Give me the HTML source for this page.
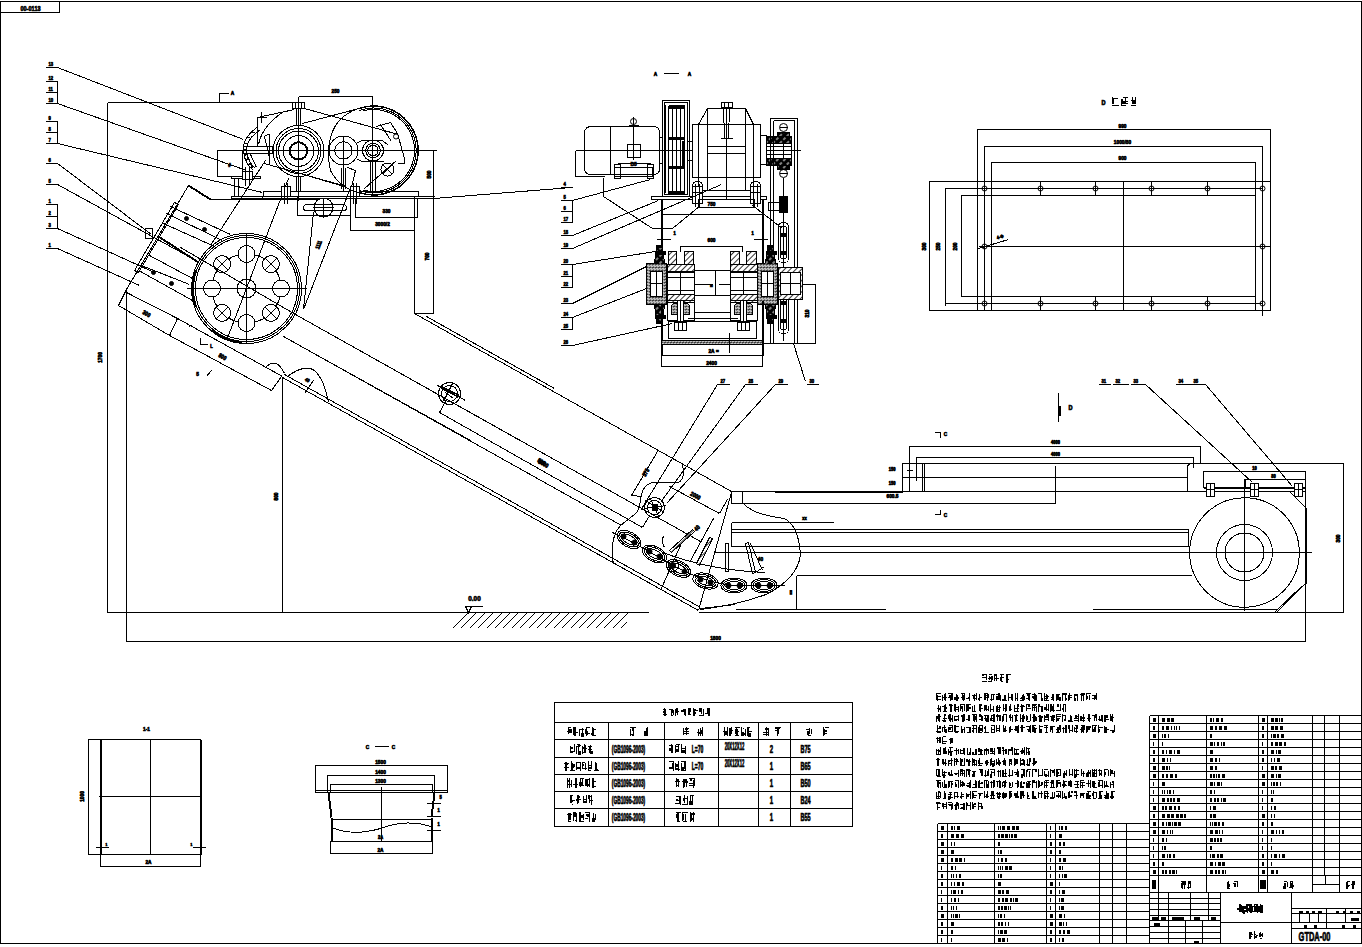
<!DOCTYPE html><html><head><meta charset="utf-8"><style>
html,body{margin:0;padding:0;background:#fff;width:1362px;height:947px;overflow:hidden}
svg{display:block}
text{font-family:"Liberation Sans",sans-serif;fill:#000;stroke:#000;stroke-width:0.7px}
</style></head><body>
<svg width="1362" height="947" viewBox="0 0 1362 947">
<defs>
<pattern id="h" width="4" height="4" patternUnits="userSpaceOnUse" patternTransform="rotate(45)"><rect width="4" height="4" fill="#fff"/><line x1="0" y1="0" x2="0" y2="4" stroke="#000" stroke-width="1.6"/></pattern>
<pattern id="d" width="3" height="3" patternUnits="userSpaceOnUse"><rect width="3" height="3" fill="#fff"/><rect x="0" y="0" width="2" height="1" fill="#000"/><rect x="1" y="2" width="2" height="1" fill="#000"/></pattern>
<pattern id="k" width="5" height="5" patternUnits="userSpaceOnUse" patternTransform="rotate(-45)"><rect width="5" height="5" fill="#000"/><line x1="0" y1="2" x2="3" y2="2" stroke="#fff" stroke-width="1"/></pattern>
</defs>
<g fill="none" stroke="#000" stroke-width="1" shape-rendering="crispEdges" transform="translate(0.5,0.5)">
<rect x="0" y="1" width="1361" height="942"/>
<rect x="0" y="1" width="59" height="11"/>
<text transform="translate(30,10) scale(0.7,1)" font-size="8" text-anchor="middle" font-weight="bold">00-0113</text>
<line x1="45" y1="67" x2="57" y2="67"/>
<text transform="translate(48,65) scale(0.7,1)" font-size="6" text-anchor="start" font-weight="bold">13</text>
<line x1="45" y1="81" x2="57" y2="81"/>
<line x1="45" y1="92" x2="57" y2="92"/>
<line x1="45" y1="103" x2="57" y2="103"/>
<line x1="57" y1="81" x2="57" y2="103"/>
<text transform="translate(48,79) scale(0.7,1)" font-size="6" text-anchor="start" font-weight="bold">12</text>
<text transform="translate(48,90) scale(0.7,1)" font-size="6" text-anchor="start" font-weight="bold">11</text>
<text transform="translate(48,101) scale(0.7,1)" font-size="6" text-anchor="start" font-weight="bold">10</text>
<line x1="45" y1="121" x2="57" y2="121"/>
<line x1="45" y1="132" x2="57" y2="132"/>
<line x1="45" y1="143" x2="57" y2="143"/>
<line x1="57" y1="121" x2="57" y2="143"/>
<text transform="translate(48,119) scale(0.7,1)" font-size="6" text-anchor="start" font-weight="bold">9</text>
<text transform="translate(48,130) scale(0.7,1)" font-size="6" text-anchor="start" font-weight="bold">8</text>
<text transform="translate(48,141) scale(0.7,1)" font-size="6" text-anchor="start" font-weight="bold">7</text>
<line x1="45" y1="163" x2="57" y2="163"/>
<text transform="translate(48,161) scale(0.7,1)" font-size="6" text-anchor="start" font-weight="bold">6</text>
<line x1="45" y1="184" x2="57" y2="184"/>
<text transform="translate(48,182) scale(0.7,1)" font-size="6" text-anchor="start" font-weight="bold">5</text>
<line x1="45" y1="204" x2="57" y2="204"/>
<line x1="45" y1="216" x2="57" y2="216"/>
<line x1="45" y1="228" x2="57" y2="228"/>
<line x1="57" y1="204" x2="57" y2="228"/>
<text transform="translate(48,202) scale(0.7,1)" font-size="6" text-anchor="start" font-weight="bold">1</text>
<text transform="translate(48,214) scale(0.7,1)" font-size="6" text-anchor="start" font-weight="bold">2</text>
<text transform="translate(48,226) scale(0.7,1)" font-size="6" text-anchor="start" font-weight="bold">3</text>
<line x1="45" y1="248" x2="57" y2="248"/>
<text transform="translate(48,246) scale(0.7,1)" font-size="6" text-anchor="start" font-weight="bold">1</text>
<line x1="57" y1="67" x2="243" y2="139"/>
<line x1="57" y1="103" x2="246" y2="170"/>
<line x1="57" y1="143" x2="262" y2="192"/>
<polyline points="57,163 147,231 151,234"/>
<polyline points="57,184 190,257"/>
<polyline points="57,228 154,272"/>
<polyline points="57,248 139,285"/>
<line x1="107" y1="102" x2="107" y2="612"/>
<line x1="107" y1="102" x2="298" y2="102"/>
<line x1="107" y1="612" x2="648" y2="612"/>
<line x1="126" y1="289" x2="126" y2="641"/>
<line x1="126" y1="641" x2="1305" y2="641"/>
<line x1="282" y1="376" x2="282" y2="612"/>
<text transform="translate(101,357) rotate(-90) scale(0.8,1)" font-size="6" text-anchor="middle" font-weight="bold">1700</text>
<text transform="translate(277,496) rotate(-90) scale(0.8,1)" font-size="6" text-anchor="middle" font-weight="bold">800</text>
<polyline points="219,101 219,93 228,93"/>
<text transform="translate(232,94) scale(0.8,1)" font-size="6" text-anchor="middle" font-weight="bold">A</text>
<circle cx="246" cy="288" r="55"/>
<circle cx="246" cy="288" r="53"/>
<circle cx="246" cy="288" r="51"/>
<path d="M195.3,306.5 A54,54 0 0 1 195.3,269.5" stroke-width="2"/>
<path d="M241.3,341.8 A54,54 0 0 1 211.3,329.4" stroke-width="2"/>
<circle cx="246" cy="288" r="34.5"/>
<circle cx="280.5" cy="288.0" r="8.5" fill="#fff"/>
<circle cx="270.4" cy="312.4" r="8.5" fill="#fff"/>
<line x1="264.4" y1="306.4" x2="276.4" y2="318.4"/>
<line x1="264.4" y1="318.4" x2="276.4" y2="306.4"/>
<circle cx="246.0" cy="322.5" r="8.5" fill="#fff"/>
<line x1="246" y1="314" x2="246" y2="330"/>
<circle cx="221.6" cy="312.4" r="8.5" fill="#fff"/>
<line x1="215.6" y1="306.4" x2="227.6" y2="318.4"/>
<line x1="215.6" y1="318.4" x2="227.6" y2="306.4"/>
<circle cx="211.5" cy="288.0" r="8.5" fill="#fff"/>
<circle cx="221.6" cy="263.6" r="8.5" fill="#fff"/>
<line x1="215.6" y1="257.6" x2="227.6" y2="269.6"/>
<line x1="215.6" y1="269.6" x2="227.6" y2="257.6"/>
<circle cx="246.0" cy="253.5" r="8.5" fill="#fff"/>
<line x1="246" y1="246" x2="246" y2="262"/>
<circle cx="270.4" cy="263.6" r="8.5" fill="#fff"/>
<line x1="264.4" y1="257.6" x2="276.4" y2="269.6"/>
<line x1="264.4" y1="269.6" x2="276.4" y2="257.6"/>
<circle cx="246" cy="288" r="9.5"/>
<line x1="186" y1="288" x2="306" y2="288"/>
<line x1="246" y1="233" x2="246" y2="343"/>
<polyline points="126,289 188,185"/>
<line x1="188" y1="185" x2="210" y2="199" stroke-width="2"/>
<polyline points="210,199 433,198 571,187"/>
<polygon points="174,202 178,204 138,272 134,270"/>
<line x1="170" y1="206" x2="230" y2="234"/>
<line x1="166" y1="213" x2="222" y2="240"/>
<line x1="163" y1="223" x2="214" y2="246"/>
<line x1="158" y1="236" x2="198" y2="262" stroke-width="2"/>
<line x1="149" y1="255" x2="192" y2="278"/>
<line x1="141" y1="265" x2="189" y2="284"/>
<line x1="140" y1="271" x2="192" y2="300"/>
<circle cx="186" cy="218" r="2" shape-rendering="auto" fill="#000"/>
<circle cx="204" cy="229" r="2" shape-rendering="auto" fill="#000"/>
<circle cx="153" cy="272" r="2" shape-rendering="auto" fill="#000"/>
<circle cx="171" cy="283" r="2" shape-rendering="auto" fill="#000"/>
<rect x="145" y="228" width="7" height="10"/>
<polyline points="126,289 118,305 169,335 177,318"/>
<line x1="126" y1="292" x2="177" y2="318"/>
<polyline points="169,335 271,390 281,376"/>
<line x1="177" y1="318" x2="282" y2="376"/>
<line x1="226" y1="340" x2="288" y2="178"/>
<line x1="210" y1="245" x2="265" y2="160"/>
<polyline points="303,309 313,212"/>
<polyline points="303,309 349,190"/>
<text transform="translate(320,245) rotate(-70) scale(0.7,1)" font-size="6" text-anchor="middle" font-weight="bold">1111</text>
<line x1="180" y1="247" x2="295" y2="314"/>
<line x1="295" y1="314" x2="516" y2="438"/>
<line x1="283" y1="336" x2="470" y2="440"/>
<circle cx="298" cy="150.5" r="25.5"/>
<circle cx="298" cy="150.5" r="22.5"/>
<circle cx="298" cy="150.5" r="20"/>
<circle cx="298" cy="150.5" r="15.3"/>
<circle cx="298" cy="150.5" r="8.7" stroke-width="2"/>
<line x1="298" y1="96" x2="298" y2="200"/>
<line x1="242" y1="150" x2="436" y2="150"/>
<rect x="292" y="102" width="12" height="6" fill="#fff"/>
<line x1="295" y1="102" x2="295" y2="108"/>
<line x1="298" y1="102" x2="298" y2="108"/>
<line x1="301" y1="102" x2="301" y2="108"/>
<line x1="296" y1="108" x2="296" y2="125"/>
<line x1="300" y1="108" x2="300" y2="125"/>
<line x1="296" y1="176" x2="296" y2="191"/>
<line x1="300" y1="176" x2="300" y2="191"/>
<path d="M 258,126 Q 241,137 243,151 Q 244,163 253,170"/>
<path d="M 260,129 Q 245,139 246,151 Q 247,161 255,168"/>
<line x1="252.0" y1="131.5" x2="254.6" y2="132.1"/>
<line x1="246.7" y1="137.3" x2="249.9" y2="137.2"/>
<line x1="243.7" y1="143.3" x2="247.0" y2="142.5"/>
<line x1="242.8" y1="149.8" x2="245.9" y2="148.1"/>
<line x1="243.5" y1="155.7" x2="246.5" y2="153.1"/>
<line x1="245.1" y1="160.8" x2="247.9" y2="157.5"/>
<line x1="247.6" y1="165.3" x2="250.1" y2="161.6"/>
<line x1="250.3" y1="168.6" x2="252.6" y2="164.7"/>
<polyline points="257,145 257,117 294,109"/>
<line x1="261" y1="111" x2="261" y2="122"/>
<line x1="256" y1="117" x2="266" y2="117"/>
<path d="M 282,112 Q 262,125 258,144"/>
<rect x="243" y="146" width="29" height="7"/>
<line x1="264" y1="136" x2="269" y2="133"/>
<line x1="264" y1="136" x2="269" y2="157"/>
<line x1="269" y1="133" x2="269" y2="164"/>
<path d="M 247,155 L 252,168"/>
<path d="M 250,154 L 256,167"/>
<rect x="217" y="150" width="25" height="26"/>
<text transform="translate(229,166) scale(0.8,1)" font-size="6" text-anchor="middle" font-weight="bold">#</text>
<rect x="231" y="176" width="29" height="2"/>
<line x1="234" y1="178" x2="234" y2="196"/>
<line x1="238" y1="178" x2="238" y2="196"/>
<rect x="231" y="196" width="31" height="2"/>
<rect x="242" y="171" width="10" height="8" fill="#fff"/>
<line x1="245" y1="166" x2="245" y2="185"/>
<line x1="249" y1="166" x2="249" y2="185"/>
<rect x="263" y="191" width="155" height="5"/>
<line x1="231" y1="198" x2="433" y2="198"/>
<rect x="281" y="186" width="9" height="10" fill="#fff"/>
<line x1="284" y1="182" x2="284" y2="203"/>
<line x1="287" y1="182" x2="287" y2="203"/>
<rect x="350" y="186" width="9" height="10" fill="#fff"/>
<line x1="353" y1="182" x2="353" y2="203"/>
<line x1="356" y1="182" x2="356" y2="203"/>
<line x1="304" y1="108" x2="398" y2="134"/>
<line x1="302" y1="123" x2="366" y2="106"/>
<line x1="303" y1="174" x2="347" y2="187"/>
<line x1="264" y1="163" x2="346" y2="186"/>
<line x1="347" y1="167" x2="355" y2="170"/>
<line x1="355" y1="170" x2="351" y2="187"/>
<line x1="341" y1="167" x2="341" y2="188"/>
<line x1="345" y1="167" x2="345" y2="188"/>
<line x1="370" y1="161" x2="370" y2="190"/>
<line x1="375" y1="161" x2="375" y2="190"/>
<circle cx="343" cy="150" r="14.5"/>
<circle cx="343" cy="150" r="8.7"/>
<circle cx="372.5" cy="150" r="10.5"/>
<circle cx="372.5" cy="150" r="7.3"/>
<circle cx="372.5" cy="150" r="5.2"/>
<line x1="343" y1="135" x2="343" y2="190"/>
<line x1="372" y1="96" x2="372" y2="196"/>
<polyline points="357,142 362,140 382,140 388,145"/>
<polyline points="357,159 362,161 383,161"/>
<path d="M357.8,108.2 A44.5,44.5 0 1 1 357.8,191.8" stroke-width="1.5"/>
<path d="M358.5,110.1 A42.5,42.5 0 1 1 358.5,189.9"/>
<path d="M362.4,110.4 A41,41 0 1 1 362.4,189.6"/>
<path d="M 366,106 Q 345,110 335,125 Q 324,145 330,170 Q 340,190 366,194"/>
<path d="M 376,126 L 390,122 L 397,133 L 404,158 L 404,163 L 397,163"/>
<line x1="380" y1="124" x2="391" y2="141"/>
<circle cx="395.5" cy="136" r="2.5" shape-rendering="auto"/>
<circle cx="387" cy="169" r="6.5"/>
<line x1="382" y1="164" x2="392" y2="174"/>
<line x1="382" y1="174" x2="392" y2="164"/>
<line x1="364" y1="188" x2="396" y2="160"/>
<line x1="383" y1="150" x2="405" y2="150"/>
<line x1="298" y1="96" x2="372" y2="96"/>
<line x1="372" y1="96" x2="372" y2="106"/>
<text transform="translate(335,92) scale(0.8,1)" font-size="6" text-anchor="middle" font-weight="bold">250</text>
<line x1="418" y1="196" x2="434" y2="196"/>
<line x1="433" y1="150" x2="433" y2="196"/>
<text transform="translate(430,174) rotate(-90) scale(0.8,1)" font-size="6" text-anchor="middle" font-weight="bold">500</text>
<rect x="297" y="196" width="53" height="19"/>
<rect x="303" y="204" width="43" height="6" rx="3"/>
<circle cx="323" cy="207" r="9.5"/>
<line x1="313" y1="207" x2="333" y2="207"/>
<line x1="323" y1="197" x2="323" y2="217"/>
<rect x="355" y="198" width="62" height="19"/>
<text transform="translate(386,212) scale(0.8,1)" font-size="6" text-anchor="middle" font-weight="bold">330</text>
<polyline points="350,215 350,230 414,230"/>
<text transform="translate(382,225) scale(0.8,1)" font-size="6" text-anchor="middle" font-weight="bold">3000/2</text>
<rect x="414" y="196" width="19" height="117"/>
<text transform="translate(428,256) rotate(-90) scale(0.8,1)" font-size="6" text-anchor="middle" font-weight="bold">700</text>
<line x1="414" y1="313" x2="731" y2="491"/>
<line x1="426" y1="316" x2="554" y2="388"/>
<text transform="translate(655,75) scale(0.8,1)" font-size="6" text-anchor="middle" font-weight="bold">A</text>
<line x1="663" y1="73" x2="678" y2="73"/>
<text transform="translate(689,75) scale(0.8,1)" font-size="6" text-anchor="middle" font-weight="bold">A</text>
<path d="M 591,126 L 653,126 Q 659,126 659,132 L 659,168 Q 659,174 653,174 L 591,174 Q 584,174 584,167 L 584,133 Q 584,126 591,126 Z"/>
<line x1="610" y1="126" x2="610" y2="174"/>
<line x1="575" y1="150" x2="692" y2="150"/>
<polyline points="575,150 575,176 604,176"/>
<rect x="627" y="144" width="13" height="13"/>
<line x1="633" y1="119" x2="633" y2="159"/>
<circle cx="633" cy="121" r="3" shape-rendering="auto"/>
<line x1="628" y1="125" x2="638" y2="125"/>
<line x1="633" y1="116" x2="633" y2="126"/>
<text transform="translate(633,165) scale(0.8,1)" font-size="6" text-anchor="middle" font-weight="bold">B5</text>
<rect x="614" y="167" width="38" height="9"/>
<rect x="614" y="164" width="6" height="14"/>
<rect x="647" y="164" width="6" height="14"/>
<line x1="617" y1="163" x2="650" y2="163"/>
<rect x="659" y="137" width="3" height="26"/>
<rect x="662" y="100" width="27" height="96"/>
<rect x="664" y="102" width="23" height="92"/>
<rect x="668" y="106" width="16" height="88"/>
<line x1="672" y1="106" x2="672" y2="194"/>
<line x1="676" y1="106" x2="676" y2="194"/>
<line x1="680" y1="106" x2="680" y2="194"/>
<rect x="668" y="104" width="16" height="4" fill="#000" stroke="none"/>
<rect x="668" y="190" width="16" height="4" fill="#000" stroke="none"/>
<rect x="668" y="136" width="16" height="3" fill="#000" stroke="none"/>
<rect x="668" y="165" width="16" height="3" fill="#000" stroke="none"/>
<rect x="681" y="140" width="3" height="25" fill="#000" stroke="none"/>
<line x1="665" y1="104" x2="665" y2="192"/>
<rect x="687" y="141" width="5" height="19"/>
<rect x="692" y="124" width="68" height="53"/>
<line x1="698" y1="124" x2="698" y2="190"/>
<line x1="753" y1="124" x2="753" y2="190"/>
<polyline points="698,124 707,108 745,108 753,124"/>
<line x1="707" y1="108" x2="707" y2="190"/>
<line x1="745" y1="108" x2="745" y2="190"/>
<line x1="707" y1="146" x2="745" y2="146"/>
<line x1="707" y1="153" x2="745" y2="153"/>
<line x1="726" y1="108" x2="726" y2="199"/>
<rect x="721" y="102" width="11" height="5" fill="#fff"/>
<line x1="724" y1="102" x2="724" y2="107"/>
<line x1="728" y1="102" x2="728" y2="107"/>
<line x1="723" y1="107" x2="724" y2="138"/>
<line x1="729" y1="107" x2="728" y2="138"/>
<line x1="720" y1="138" x2="732" y2="138"/>
<line x1="693" y1="190" x2="760" y2="190"/>
<rect x="651" y="196" width="115" height="3"/>
<rect x="692" y="186" width="10" height="17" fill="#fff"/>
<line x1="695" y1="183" x2="695" y2="206"/>
<line x1="699" y1="183" x2="699" y2="206"/>
<line x1="692" y1="192" x2="702" y2="192"/>
<path d="M692,186 Q692,181 697,181 Q702,181 702,186"/>
<rect x="750" y="186" width="10" height="17" fill="#fff"/>
<line x1="753" y1="183" x2="753" y2="206"/>
<line x1="757" y1="183" x2="757" y2="206"/>
<line x1="750" y1="192" x2="760" y2="192"/>
<path d="M750,186 Q750,181 755,181 Q760,181 760,186"/>
<rect x="760" y="135" width="6" height="29"/>
<rect x="766" y="136" width="25" height="7" fill="url(#k)" stroke="#000"/>
<rect x="766" y="158" width="25" height="7" fill="url(#k)" stroke="#000"/>
<rect x="777" y="132" width="12" height="4" fill="url(#k)"/>
<rect x="777" y="165" width="12" height="4" fill="url(#k)"/>
<rect x="766" y="143" width="25" height="15"/>
<line x1="766" y1="150" x2="800" y2="150"/>
<line x1="766" y1="146" x2="791" y2="146"/>
<line x1="766" y1="154" x2="791" y2="154"/>
<line x1="783" y1="143" x2="783" y2="158"/>
<circle cx="783" cy="127" r="4" shape-rendering="auto"/>
<line x1="779" y1="127" x2="787" y2="127"/>
<circle cx="783" cy="173" r="4" shape-rendering="auto"/>
<line x1="779" y1="173" x2="787" y2="173"/>
<line x1="783" y1="177" x2="783" y2="340"/>
<rect x="770" y="118" width="27" height="225"/>
<line x1="773" y1="120" x2="773" y2="343"/>
<line x1="773" y1="120" x2="794" y2="120"/>
<line x1="794" y1="120" x2="794" y2="343"/>
<rect x="779" y="196" width="8" height="16" fill="#000"/>
<rect x="768" y="202" width="12" height="8"/>
<rect x="778" y="222" width="10" height="40" rx="4"/>
<rect x="780" y="226" width="6" height="32" rx="2"/>
<rect x="780" y="232" width="6" height="4" fill="#000" stroke="none"/>
<rect x="780" y="250" width="6" height="4" fill="#000" stroke="none"/>
<rect x="778" y="290" width="10" height="43" rx="4"/>
<rect x="780" y="294" width="6" height="35" rx="2"/>
<rect x="780" y="300" width="6" height="4" fill="#000" stroke="none"/>
<rect x="780" y="318" width="6" height="4" fill="#000" stroke="none"/>
<line x1="661" y1="199" x2="661" y2="244" stroke-width="2"/>
<line x1="762" y1="199" x2="762" y2="344" stroke-width="2"/>
<line x1="661" y1="214" x2="762" y2="214"/>
<rect x="698" y="199" width="56" height="8"/>
<text transform="translate(711,205) scale(0.8,1)" font-size="6" text-anchor="middle" font-weight="bold">750</text>
<polyline points="603,177 603,196 652,228 672,228 700,205"/>
<polyline points="752,205 782,228"/>
<line x1="656" y1="239" x2="670" y2="239"/>
<line x1="753" y1="239" x2="767" y2="239"/>
<text transform="translate(674,234) scale(0.8,1)" font-size="5" text-anchor="middle" font-weight="bold">1</text>
<text transform="translate(752,234) scale(0.8,1)" font-size="5" text-anchor="middle" font-weight="bold">1</text>
<polyline points="680,251 680,246 742,246 742,251"/>
<text transform="translate(711,241) scale(0.8,1)" font-size="6" text-anchor="middle" font-weight="bold">600</text>
<rect x="668" y="251" width="8" height="20" fill="url(#h)"/>
<rect x="684" y="251" width="9" height="20" fill="url(#h)"/>
<rect x="730" y="251" width="9" height="20" fill="url(#h)"/>
<rect x="746" y="251" width="10" height="20" fill="url(#h)"/>
<rect x="667" y="264" width="27" height="8" fill="url(#h)"/>
<rect x="730" y="264" width="27" height="8" fill="url(#h)"/>
<rect x="667" y="294" width="27" height="8" fill="url(#h)"/>
<rect x="730" y="294" width="27" height="8" fill="url(#h)"/>
<rect x="667" y="271" width="27" height="23"/>
<line x1="680" y1="271" x2="680" y2="294"/>
<line x1="667" y1="277" x2="694" y2="277"/>
<line x1="667" y1="290" x2="694" y2="290"/>
<rect x="730" y="271" width="27" height="23"/>
<line x1="743" y1="271" x2="743" y2="294"/>
<line x1="730" y1="277" x2="757" y2="277"/>
<line x1="730" y1="290" x2="757" y2="290"/>
<rect x="694" y="270" width="36" height="25"/>
<line x1="715" y1="270" x2="715" y2="295"/>
<line x1="694" y1="284" x2="712" y2="284"/>
<line x1="718" y1="284" x2="730" y2="284"/>
<text transform="translate(711,287) scale(0.8,1)" font-size="6" text-anchor="middle" font-weight="bold">=</text>
<rect x="646" y="263" width="20" height="41" fill="url(#d)" stroke="#000"/>
<rect x="650" y="271" width="12" height="25" fill="#fff"/>
<line x1="656" y1="271" x2="656" y2="296"/>
<line x1="650" y1="283" x2="662" y2="283"/>
<path d="M 654,263 L 656,246 L 662,246 L 664,263" fill="url(#k)"/>
<path d="M 654,304 L 656,321 L 662,321 L 664,304" fill="url(#k)"/>
<rect x="654" y="250" width="11" height="4" fill="#000" stroke="none"/>
<rect x="654" y="314" width="11" height="4" fill="#000" stroke="none"/>
<rect x="655" y="244" width="7" height="3" fill="#000" stroke="none"/>
<rect x="655" y="320" width="7" height="3" fill="#000" stroke="none"/>
<rect x="757" y="263" width="20" height="41" fill="url(#d)" stroke="#000"/>
<rect x="761" y="271" width="12" height="25" fill="#fff"/>
<line x1="767" y1="271" x2="767" y2="296"/>
<line x1="761" y1="283" x2="773" y2="283"/>
<path d="M 765,263 L 767,246 L 773,246 L 775,263" fill="url(#k)"/>
<path d="M 765,304 L 767,321 L 773,321 L 775,304" fill="url(#k)"/>
<rect x="765" y="250" width="11" height="4" fill="#000" stroke="none"/>
<rect x="765" y="314" width="11" height="4" fill="#000" stroke="none"/>
<rect x="766" y="244" width="7" height="3" fill="#000" stroke="none"/>
<rect x="766" y="320" width="7" height="3" fill="#000" stroke="none"/>
<rect x="778" y="267" width="24" height="32" fill="url(#h)" stroke="#000"/>
<rect x="780" y="272" width="20" height="22" fill="#fff"/>
<line x1="790" y1="272" x2="790" y2="294"/>
<line x1="780" y1="283" x2="800" y2="283"/>
<rect x="667" y="300" width="27" height="20"/>
<rect x="730" y="300" width="27" height="20"/>
<path d="M 671,314 L 671,306 Q 671,303 674,303 L 686,303 Q 689,303 689,306 L 689,314 Z" fill="url(#d)"/>
<rect x="677" y="300" width="6" height="30" fill="#fff"/>
<line x1="680" y1="300" x2="680" y2="330"/>
<rect x="674" y="322" width="12" height="8" fill="#fff"/>
<line x1="678" y1="322" x2="678" y2="330"/>
<line x1="682" y1="322" x2="682" y2="330"/>
<path d="M 734,314 L 734,306 Q 734,303 737,303 L 749,303 Q 752,303 752,306 L 752,314 Z" fill="url(#d)"/>
<rect x="740" y="300" width="6" height="30" fill="#fff"/>
<line x1="743" y1="300" x2="743" y2="330"/>
<rect x="737" y="322" width="12" height="8" fill="#fff"/>
<line x1="741" y1="322" x2="741" y2="330"/>
<line x1="745" y1="322" x2="745" y2="330"/>
<rect x="694" y="312" width="36" height="9"/>
<rect x="668" y="321" width="88" height="17"/>
<line x1="687" y1="318" x2="737" y2="318"/>
<line x1="661" y1="304" x2="661" y2="355" stroke-width="2"/>
<line x1="762" y1="300" x2="762" y2="355" stroke-width="2"/>
<rect x="661" y="340" width="101" height="4" fill="url(#d)"/>
<line x1="661" y1="344" x2="762" y2="344"/>
<rect x="661" y="355" width="101" height="11"/>
<text transform="translate(711,352) scale(0.8,1)" font-size="6" text-anchor="middle" font-weight="bold">2A</text>
<text transform="translate(717,352) scale(0.8,1)" font-size="6" text-anchor="middle" font-weight="bold">=</text>
<line x1="729" y1="332" x2="729" y2="352"/>
<text transform="translate(711,364) scale(0.8,1)" font-size="6" text-anchor="middle" font-weight="bold">2400</text>
<polyline points="801,284 815,284 815,343 762,343"/>
<text transform="translate(808,313) rotate(-90) scale(0.8,1)" font-size="6" text-anchor="middle" font-weight="bold">310</text>
<line x1="793" y1="343" x2="805" y2="381"/>
<line x1="560" y1="187" x2="572" y2="187"/>
<text transform="translate(563,185) scale(0.7,1)" font-size="6" text-anchor="start" font-weight="bold">4</text>
<line x1="560" y1="200" x2="572" y2="200"/>
<line x1="560" y1="211" x2="572" y2="211"/>
<line x1="560" y1="222" x2="572" y2="222"/>
<line x1="572" y1="200" x2="572" y2="222"/>
<text transform="translate(563,198) scale(0.7,1)" font-size="6" text-anchor="start" font-weight="bold">5</text>
<text transform="translate(563,209) scale(0.7,1)" font-size="6" text-anchor="start" font-weight="bold">6</text>
<text transform="translate(563,220) scale(0.7,1)" font-size="6" text-anchor="start" font-weight="bold">17</text>
<line x1="560" y1="235" x2="572" y2="235"/>
<text transform="translate(563,233) scale(0.7,1)" font-size="6" text-anchor="start" font-weight="bold">18</text>
<line x1="560" y1="248" x2="572" y2="248"/>
<text transform="translate(563,246) scale(0.7,1)" font-size="6" text-anchor="start" font-weight="bold">19</text>
<line x1="560" y1="264" x2="572" y2="264"/>
<line x1="560" y1="276" x2="572" y2="276"/>
<line x1="560" y1="287" x2="572" y2="287"/>
<line x1="572" y1="264" x2="572" y2="287"/>
<text transform="translate(563,262) scale(0.7,1)" font-size="6" text-anchor="start" font-weight="bold">20</text>
<text transform="translate(563,274) scale(0.7,1)" font-size="6" text-anchor="start" font-weight="bold">21</text>
<text transform="translate(563,285) scale(0.7,1)" font-size="6" text-anchor="start" font-weight="bold">22</text>
<line x1="560" y1="303" x2="572" y2="303"/>
<text transform="translate(563,301) scale(0.7,1)" font-size="6" text-anchor="start" font-weight="bold">23</text>
<line x1="560" y1="317" x2="572" y2="317"/>
<line x1="560" y1="329" x2="572" y2="329"/>
<line x1="572" y1="317" x2="572" y2="329"/>
<text transform="translate(563,315) scale(0.7,1)" font-size="6" text-anchor="start" font-weight="bold">24</text>
<text transform="translate(563,327) scale(0.7,1)" font-size="6" text-anchor="start" font-weight="bold">25</text>
<line x1="560" y1="345" x2="572" y2="345"/>
<text transform="translate(563,343) scale(0.7,1)" font-size="6" text-anchor="start" font-weight="bold">26</text>
<line x1="572" y1="200" x2="650" y2="179"/>
<line x1="572" y1="235" x2="658" y2="200"/>
<line x1="572" y1="248" x2="721" y2="184"/>
<line x1="572" y1="264" x2="655" y2="251"/>
<line x1="572" y1="303" x2="646" y2="266"/>
<line x1="572" y1="317" x2="646" y2="288"/>
<line x1="572" y1="345" x2="672" y2="323"/>
<line x1="295" y1="314" x2="700" y2="541"/>
<line x1="283" y1="336" x2="621" y2="525"/>
<polyline points="439,412 445,401"/>
<line x1="439" y1="412" x2="642" y2="527"/>
<line x1="642" y1="527" x2="648" y2="517"/>
<line x1="282" y1="377" x2="698" y2="610"/>
<line x1="284" y1="374" x2="700" y2="607"/>
<text transform="translate(542,465) rotate(29) scale(0.8,1)" font-size="6" text-anchor="middle" font-weight="bold">3000</text>
<circle cx="449" cy="393" r="11"/>
<circle cx="449" cy="393" r="8"/>
<line x1="437" y1="385" x2="465" y2="400"/>
<line x1="443" y1="401" x2="452" y2="383"/>
<line x1="441" y1="386" x2="459" y2="395"/>
<line x1="441" y1="388" x2="458" y2="397"/>
<line x1="445" y1="392" x2="453" y2="398"/>
<circle cx="654" cy="507" r="10"/>
<circle cx="654" cy="507" r="7"/>
<line x1="645" y1="500" x2="664" y2="512"/>
<line x1="650" y1="498" x2="658" y2="516"/>
<line x1="644" y1="508" x2="666" y2="505"/>
<rect x="651" y="503" width="6" height="7" fill="#000" stroke="none"/>
<polyline points="657,451 631,495 642,496"/>
<text transform="translate(647,473) rotate(-60) scale(0.8,1)" font-size="6" text-anchor="middle" font-weight="bold">375</text>
<path d="M 682,465 Q 685,478 678,482 L 652,482 Q 641,485 640,500 Q 638,512 634,514 L 620,525 Q 610,535 612,560 L 614,564"/>
<line x1="717" y1="384" x2="729" y2="384"/>
<text transform="translate(720,382) scale(0.7,1)" font-size="6" text-anchor="start" font-weight="bold">27</text>
<line x1="717" y1="384" x2="640" y2="510"/>
<line x1="745" y1="384" x2="757" y2="384"/>
<text transform="translate(748,382) scale(0.7,1)" font-size="6" text-anchor="start" font-weight="bold">28</text>
<line x1="745" y1="384" x2="660" y2="502"/>
<line x1="775" y1="384" x2="787" y2="384"/>
<text transform="translate(778,382) scale(0.7,1)" font-size="6" text-anchor="start" font-weight="bold">29</text>
<line x1="775" y1="384" x2="666" y2="503"/>
<line x1="806" y1="384" x2="818" y2="384"/>
<text transform="translate(809,382) scale(0.7,1)" font-size="6" text-anchor="start" font-weight="bold">30</text>
<text transform="translate(694,497) rotate(29) scale(0.8,1)" font-size="6" text-anchor="middle" font-weight="bold">2000</text>
<line x1="669" y1="486" x2="719" y2="513"/>
<line x1="719" y1="513" x2="727" y2="499"/>
<path d="M 743,503 Q 752,514 784,518 Q 798,525 800,554 Q 798,576 768,593 Q 740,604 700,609"/>
<polyline points="698,610 731,492"/>
<line x1="698" y1="612" x2="1343" y2="612"/>
<polyline points="700,608 735,604"/>
<line x1="735" y1="609" x2="885" y2="609"/>
<path d="M 612,532 Q 640,545 672,565 Q 700,580 730,585 L 784,585"/>
<ellipse cx="628.5" cy="539.0" rx="11" ry="6" transform="rotate(28.6 628.5 539.0)"/>
<ellipse cx="628.5" cy="539.0" rx="9" ry="4" transform="rotate(28.6 628.5 539.0)"/>
<ellipse cx="628.5" cy="539.0" rx="13" ry="7.5" transform="rotate(28.6 628.5 539.0)"/>
<circle cx="623" cy="536" r="2.5" shape-rendering="auto" fill="#000"/>
<circle cx="634" cy="542" r="2.5" shape-rendering="auto" fill="#000"/>
<ellipse cx="654.0" cy="553.5" rx="11" ry="6" transform="rotate(26.6 654.0 553.5)"/>
<ellipse cx="654.0" cy="553.5" rx="9" ry="4" transform="rotate(26.6 654.0 553.5)"/>
<ellipse cx="654.0" cy="553.5" rx="13" ry="7.5" transform="rotate(26.6 654.0 553.5)"/>
<circle cx="649" cy="551" r="2.5" shape-rendering="auto" fill="#000"/>
<circle cx="659" cy="556" r="2.5" shape-rendering="auto" fill="#000"/>
<ellipse cx="678.0" cy="568.0" rx="11" ry="6" transform="rotate(26.6 678.0 568.0)"/>
<ellipse cx="678.0" cy="568.0" rx="9" ry="4" transform="rotate(26.6 678.0 568.0)"/>
<ellipse cx="678.0" cy="568.0" rx="13" ry="7.5" transform="rotate(26.6 678.0 568.0)"/>
<circle cx="672" cy="565" r="2.5" shape-rendering="auto" fill="#000"/>
<circle cx="684" cy="571" r="2.5" shape-rendering="auto" fill="#000"/>
<ellipse cx="705.0" cy="580.5" rx="11" ry="6" transform="rotate(16.7 705.0 580.5)"/>
<ellipse cx="705.0" cy="580.5" rx="9" ry="4" transform="rotate(16.7 705.0 580.5)"/>
<ellipse cx="705.0" cy="580.5" rx="13" ry="7.5" transform="rotate(16.7 705.0 580.5)"/>
<circle cx="700" cy="579" r="2.5" shape-rendering="auto" fill="#000"/>
<circle cx="710" cy="582" r="2.5" shape-rendering="auto" fill="#000"/>
<ellipse cx="733.5" cy="585.0" rx="11" ry="6" transform="rotate(0.0 733.5 585.0)"/>
<ellipse cx="733.5" cy="585.0" rx="9" ry="4" transform="rotate(0.0 733.5 585.0)"/>
<ellipse cx="733.5" cy="585.0" rx="13" ry="7.5" transform="rotate(0.0 733.5 585.0)"/>
<circle cx="728" cy="585" r="2.5" shape-rendering="auto" fill="#000"/>
<circle cx="739" cy="585" r="2.5" shape-rendering="auto" fill="#000"/>
<ellipse cx="763.5" cy="585.0" rx="11" ry="6" transform="rotate(0.0 763.5 585.0)"/>
<ellipse cx="763.5" cy="585.0" rx="9" ry="4" transform="rotate(0.0 763.5 585.0)"/>
<ellipse cx="763.5" cy="585.0" rx="13" ry="7.5" transform="rotate(0.0 763.5 585.0)"/>
<circle cx="758" cy="585" r="2.5" shape-rendering="auto" fill="#000"/>
<circle cx="769" cy="585" r="2.5" shape-rendering="auto" fill="#000"/>
<circle cx="672" cy="565" r="6"/>
<circle cx="672" cy="565" r="3" shape-rendering="auto" fill="#000"/>
<line x1="660" y1="590" x2="680" y2="545"/>
<path d="M 662,552 Q 710,570 765,572"/>
<polygon points="669,550 692,529 694,531 671,552" fill="url(#h)"/>
<path d="M 664,547 Q 660,540 663,536"/>
<polygon points="696,563 709,537 712,538 699,565" fill="url(#h)"/>
<line x1="689" y1="562" x2="713" y2="518"/>
<rect x="725" y="543" width="3" height="28"/>
<polygon points="745,543 748,542 755,572 752,573" fill="none"/>
<line x1="750" y1="543" x2="762" y2="570"/>
<line x1="755" y1="572" x2="764" y2="566"/>
<text transform="translate(698,529) rotate(-45) scale(0.8,1)" font-size="6" text-anchor="middle" font-weight="bold">40</text>
<text transform="translate(760,560) scale(0.8,1)" font-size="6" text-anchor="middle" font-weight="bold">40</text>
<line x1="731" y1="491" x2="774" y2="491"/>
<line x1="774" y1="491" x2="902" y2="491" stroke-width="2"/>
<line x1="902" y1="491" x2="1305" y2="491"/>
<rect x="731" y="491" width="11" height="12"/>
<line x1="731" y1="503" x2="1055" y2="503"/>
<line x1="1055" y1="465" x2="1055" y2="503"/>
<text transform="translate(892,497) scale(0.8,1)" font-size="6" text-anchor="middle" font-weight="bold">600.5</text>
<rect x="902" y="463" width="20" height="28"/>
<line x1="924" y1="463" x2="924" y2="491"/>
<line x1="902" y1="463" x2="1200" y2="463"/>
<line x1="902" y1="477" x2="1187" y2="477"/>
<polyline points="909,491 909,446 1200,446 1200,463"/>
<polyline points="916,480 916,457 1193,457 1193,467"/>
<path d="M 1187,491 L 1187,467 Q 1187,463 1191,463"/>
<text transform="translate(1055,443) scale(0.8,1)" font-size="5" text-anchor="middle" font-weight="bold">4000</text>
<text transform="translate(1055,455) scale(0.8,1)" font-size="5" text-anchor="middle" font-weight="bold">4000</text>
<text transform="translate(895,470) scale(0.8,1)" font-size="5" text-anchor="end" font-weight="bold">150</text>
<text transform="translate(895,484) scale(0.8,1)" font-size="5" text-anchor="end" font-weight="bold">150</text>
<line x1="906" y1="470" x2="912" y2="470"/>
<polyline points="934,432 940,432 940,437"/>
<text transform="translate(945,435) scale(0.8,1)" font-size="6" text-anchor="middle" font-weight="bold">C</text>
<polyline points="934,514 940,514 940,509"/>
<text transform="translate(945,516) scale(0.8,1)" font-size="6" text-anchor="middle" font-weight="bold">C</text>
<line x1="1058" y1="392" x2="1058" y2="421"/>
<rect x="1057" y="405" width="3" height="10" fill="#000" stroke="none"/>
<text transform="translate(1070,409) scale(0.8,1)" font-size="7" text-anchor="middle" font-weight="bold">D</text>
<polyline points="1203,487 1203,471 1305,471"/>
<polyline points="1245,487 1245,479 1305,479"/>
<line x1="1203" y1="487" x2="1305" y2="487" stroke-width="2"/>
<rect x="1206" y="483" width="8" height="13" fill="#fff"/>
<line x1="1206" y1="489" x2="1214" y2="489"/>
<line x1="1210" y1="483" x2="1210" y2="496"/>
<rect x="1250" y="483" width="8" height="13" fill="#fff"/>
<line x1="1250" y1="489" x2="1258" y2="489"/>
<line x1="1254" y1="483" x2="1254" y2="496"/>
<rect x="1294" y="483" width="8" height="13" fill="#fff"/>
<line x1="1294" y1="489" x2="1302" y2="489"/>
<line x1="1298" y1="483" x2="1298" y2="496"/>
<line x1="1289" y1="491" x2="1305" y2="507"/>
<text transform="translate(1254,469) scale(0.8,1)" font-size="5" text-anchor="middle" font-weight="bold">10</text>
<text transform="translate(1273,477) scale(0.8,1)" font-size="5" text-anchor="middle" font-weight="bold">80</text>
<line x1="1305" y1="471" x2="1305" y2="507"/>
<line x1="1305" y1="507" x2="1305" y2="583" stroke-width="2"/>
<line x1="1305" y1="583" x2="1305" y2="641"/>
<polyline points="1190,463 1343,463 1343,612"/>
<line x1="1305" y1="583" x2="1276" y2="612"/>
<line x1="1302" y1="585" x2="1274" y2="612"/>
<line x1="1092" y1="609" x2="1276" y2="609"/>
<text transform="translate(1339,538) rotate(-90) scale(0.8,1)" font-size="6" text-anchor="middle" font-weight="bold">300</text>
<line x1="731" y1="529" x2="1188" y2="529"/>
<line x1="731" y1="532" x2="1188" y2="532"/>
<line x1="731" y1="546" x2="1188" y2="546"/>
<line x1="731" y1="522" x2="833" y2="522"/>
<line x1="731" y1="522" x2="731" y2="546"/>
<line x1="1188" y1="529" x2="1188" y2="546"/>
<line x1="714" y1="552" x2="1311" y2="552"/>
<line x1="796" y1="575" x2="1191" y2="575"/>
<line x1="796" y1="575" x2="796" y2="609"/>
<text transform="translate(792,592) rotate(-90) scale(0.8,1)" font-size="5" text-anchor="middle" font-weight="bold">==</text>
<text transform="translate(804,519) scale(0.8,1)" font-size="5" text-anchor="middle" font-weight="bold">xx</text>
<circle cx="1244" cy="552" r="54.8"/>
<circle cx="1244" cy="552" r="28"/>
<circle cx="1244" cy="552" r="19.5"/>
<line x1="1244" y1="478" x2="1244" y2="610"/>
<line x1="1098" y1="384" x2="1110" y2="384"/>
<text transform="translate(1101,382) scale(0.7,1)" font-size="6" text-anchor="start" font-weight="bold">31</text>
<line x1="1112" y1="384" x2="1128" y2="384"/>
<text transform="translate(1115,382) scale(0.7,1)" font-size="6" text-anchor="start" font-weight="bold">32</text>
<line x1="1130" y1="384" x2="1145" y2="384"/>
<text transform="translate(1133,382) scale(0.7,1)" font-size="6" text-anchor="start" font-weight="bold">33</text>
<line x1="1145" y1="384" x2="1252" y2="482"/>
<line x1="1175" y1="384" x2="1190" y2="384"/>
<text transform="translate(1178,382) scale(0.7,1)" font-size="6" text-anchor="start" font-weight="bold">34</text>
<line x1="1190" y1="384" x2="1205" y2="384"/>
<text transform="translate(1193,382) scale(0.7,1)" font-size="6" text-anchor="start" font-weight="bold">35</text>
<line x1="1205" y1="384" x2="1292" y2="486"/>
<line x1="452" y1="628" x2="467" y2="613"/>
<line x1="460" y1="628" x2="475" y2="613"/>
<line x1="469" y1="628" x2="484" y2="613"/>
<line x1="477" y1="628" x2="492" y2="613"/>
<line x1="486" y1="628" x2="501" y2="613"/>
<line x1="494" y1="628" x2="509" y2="613"/>
<line x1="502" y1="628" x2="517" y2="613"/>
<line x1="511" y1="628" x2="526" y2="613"/>
<line x1="519" y1="628" x2="534" y2="613"/>
<line x1="528" y1="628" x2="543" y2="613"/>
<line x1="536" y1="628" x2="551" y2="613"/>
<line x1="544" y1="628" x2="559" y2="613"/>
<line x1="553" y1="628" x2="568" y2="613"/>
<line x1="561" y1="628" x2="576" y2="613"/>
<line x1="570" y1="628" x2="585" y2="613"/>
<line x1="578" y1="628" x2="593" y2="613"/>
<line x1="586" y1="628" x2="601" y2="613"/>
<line x1="595" y1="628" x2="610" y2="613"/>
<line x1="603" y1="628" x2="618" y2="613"/>
<line x1="612" y1="628" x2="627" y2="613"/>
<line x1="620" y1="628" x2="626" y2="622"/>
<text transform="translate(474,600) scale(0.8,1)" font-size="8" text-anchor="middle" font-weight="bold">0.00</text>
<polyline points="465,606 482,606"/>
<polyline points="465,606 471,606 468,612 465,606"/>
<text transform="translate(715,639) scale(0.8,1)" font-size="6" text-anchor="middle" font-weight="bold">1800</text>
<text transform="translate(1103,104) scale(0.8,1)" font-size="7" text-anchor="middle" font-weight="bold">D</text>
<rect x="1112" y="97" width="1" height="6" fill="#000" stroke="none"/>
<rect x="1111" y="96" width="1" height="7" fill="#000" stroke="none"/>
<rect x="1111" y="97" width="1" height="6" fill="#000" stroke="none"/>
<rect x="1111" y="104" width="7" height="1" fill="#000" stroke="none"/>
<rect x="1112" y="97" width="5" height="1" fill="#000" stroke="none"/>
<rect x="1111" y="97" width="2" height="4" fill="#000" stroke="none"/>
<rect x="1120" y="98" width="1" height="7" fill="#000" stroke="none"/>
<rect x="1121" y="98" width="1" height="5" fill="#000" stroke="none"/>
<rect x="1124" y="96" width="1" height="7" fill="#000" stroke="none"/>
<rect x="1120" y="102" width="7" height="1" fill="#000" stroke="none"/>
<rect x="1122" y="96" width="5" height="1" fill="#000" stroke="none"/>
<rect x="1121" y="100" width="6" height="1" fill="#000" stroke="none"/>
<rect x="1120" y="104" width="5" height="1" fill="#000" stroke="none"/>
<rect x="1122" y="100" width="2" height="2" fill="#000" stroke="none"/>
<rect x="1131" y="96" width="1" height="7" fill="#000" stroke="none"/>
<rect x="1134" y="96" width="1" height="7" fill="#000" stroke="none"/>
<rect x="1130" y="99" width="4" height="1" fill="#000" stroke="none"/>
<rect x="1130" y="104" width="5" height="1" fill="#000" stroke="none"/>
<rect x="1132" y="100" width="3" height="3" fill="#000" stroke="none"/>
<polyline points="977,310 977,129 1270,129 1270,310"/>
<polyline points="984,310 984,146 1262,146 1262,310"/>
<polyline points="991,310 991,162 1255,162 1255,310"/>
<text transform="translate(1122,127) scale(0.8,1)" font-size="6" text-anchor="middle" font-weight="bold">990</text>
<text transform="translate(1122,143) scale(0.8,1)" font-size="6" text-anchor="middle" font-weight="bold">1000/80</text>
<text transform="translate(1122,159) scale(0.8,1)" font-size="6" text-anchor="middle" font-weight="bold">900</text>
<rect x="929" y="181" width="341" height="129"/>
<line x1="929" y1="181" x2="1270" y2="181"/>
<rect x="945" y="188" width="317" height="115"/>
<rect x="961" y="195" width="294" height="101"/>
<line x1="1123" y1="181" x2="1123" y2="310"/>
<line x1="978" y1="246" x2="1270" y2="246"/>
<circle cx="984" cy="188" r="2.5" shape-rendering="auto"/>
<line x1="984" y1="181" x2="984" y2="195"/>
<circle cx="1040" cy="188" r="2.5" shape-rendering="auto"/>
<line x1="1040" y1="181" x2="1040" y2="195"/>
<circle cx="1095" cy="188" r="2.5" shape-rendering="auto"/>
<line x1="1095" y1="181" x2="1095" y2="195"/>
<circle cx="1151" cy="188" r="2.5" shape-rendering="auto"/>
<line x1="1151" y1="181" x2="1151" y2="195"/>
<circle cx="1207" cy="188" r="2.5" shape-rendering="auto"/>
<line x1="1207" y1="181" x2="1207" y2="195"/>
<circle cx="1262" cy="188" r="2.5" shape-rendering="auto"/>
<line x1="1262" y1="181" x2="1262" y2="195"/>
<circle cx="984" cy="303" r="2.5" shape-rendering="auto"/>
<line x1="984" y1="296" x2="984" y2="310"/>
<circle cx="1040" cy="303" r="2.5" shape-rendering="auto"/>
<line x1="1040" y1="296" x2="1040" y2="310"/>
<circle cx="1095" cy="303" r="2.5" shape-rendering="auto"/>
<line x1="1095" y1="296" x2="1095" y2="310"/>
<circle cx="1151" cy="303" r="2.5" shape-rendering="auto"/>
<line x1="1151" y1="296" x2="1151" y2="310"/>
<circle cx="1207" cy="303" r="2.5" shape-rendering="auto"/>
<line x1="1207" y1="296" x2="1207" y2="310"/>
<circle cx="1262" cy="303" r="2.5" shape-rendering="auto"/>
<line x1="1262" y1="296" x2="1262" y2="310"/>
<circle cx="984" cy="246" r="2.5" shape-rendering="auto"/>
<circle cx="1262" cy="246" r="2.5" shape-rendering="auto"/>
<line x1="1262" y1="310" x2="1262" y2="315"/>
<polyline points="978,248 1008,239"/>
<text transform="translate(1000,238) rotate(-15) scale(0.8,1)" font-size="5" text-anchor="middle" font-weight="bold">4-Φ</text>
<text transform="translate(925,246) rotate(-90) scale(0.8,1)" font-size="6" text-anchor="middle" font-weight="bold">300</text>
<text transform="translate(939,246) rotate(-90) scale(0.8,1)" font-size="6" text-anchor="middle" font-weight="bold">250</text>
<text transform="translate(956,246) rotate(-90) scale(0.8,1)" font-size="6" text-anchor="middle" font-weight="bold">200</text>
<line x1="945" y1="303" x2="945" y2="305"/>
<text transform="translate(146,730) scale(0.8,1)" font-size="6" text-anchor="middle" font-weight="bold">1-1</text>
<line x1="100" y1="739" x2="100" y2="854" stroke-width="2"/>
<line x1="200" y1="739" x2="200" y2="854" stroke-width="2"/>
<line x1="100" y1="739" x2="200" y2="739"/>
<line x1="100" y1="854" x2="200" y2="854"/>
<line x1="150" y1="738" x2="150" y2="854"/>
<line x1="98" y1="796" x2="200" y2="796"/>
<polyline points="100,739 88,739 88,854 100,854"/>
<text transform="translate(83,796) rotate(-90) scale(0.8,1)" font-size="6" text-anchor="middle" font-weight="bold">1000</text>
<rect x="100" y="854" width="100" height="12"/>
<text transform="translate(148,863) scale(0.8,1)" font-size="6" text-anchor="middle" font-weight="bold">2A</text>
<line x1="95" y1="847" x2="108" y2="847"/>
<line x1="192" y1="847" x2="205" y2="847"/>
<text transform="translate(106,845) scale(0.8,1)" font-size="4" text-anchor="middle" font-weight="bold">1</text>
<text transform="translate(191,845) scale(0.8,1)" font-size="4" text-anchor="middle" font-weight="bold">1</text>
<text transform="translate(367,748) scale(0.8,1)" font-size="6" text-anchor="middle" font-weight="bold">C</text>
<line x1="374" y1="746" x2="388" y2="746"/>
<text transform="translate(393,748) scale(0.8,1)" font-size="6" text-anchor="middle" font-weight="bold">C</text>
<polyline points="315,792 315,765 447,765 447,792"/>
<polyline points="327,792 327,775 434,775 434,792"/>
<polyline points="330,792 330,784 432,784 432,792"/>
<text transform="translate(380,763) scale(0.8,1)" font-size="6" text-anchor="middle" font-weight="bold">1500</text>
<text transform="translate(380,773) scale(0.8,1)" font-size="6" text-anchor="middle" font-weight="bold">1400</text>
<text transform="translate(380,782) scale(0.8,1)" font-size="6" text-anchor="middle" font-weight="bold">1300</text>
<rect x="315" y="790" width="132" height="2"/>
<line x1="328" y1="792" x2="331" y2="817" stroke-width="2"/>
<line x1="331" y1="817" x2="331" y2="841" stroke-width="2"/>
<line x1="434" y1="792" x2="431" y2="817" stroke-width="2"/>
<line x1="431" y1="817" x2="431" y2="841" stroke-width="2"/>
<line x1="331" y1="819" x2="431" y2="819"/>
<path d="M 331,827 Q 352,836 380,828 Q 405,818 431,826"/>
<line x1="381" y1="786" x2="381" y2="841"/>
<rect x="330" y="841" width="102" height="12"/>
<text transform="translate(380,838) scale(0.8,1)" font-size="5" text-anchor="middle" font-weight="bold">2A</text>
<text transform="translate(380,851) scale(0.8,1)" font-size="6" text-anchor="middle" font-weight="bold">2A</text>
<line x1="426" y1="803" x2="440" y2="803"/>
<line x1="426" y1="816" x2="440" y2="816"/>
<line x1="426" y1="830" x2="440" y2="830"/>
<text transform="translate(440,798) scale(0.8,1)" font-size="5" text-anchor="middle" font-weight="bold">5</text>
<text transform="translate(438,811) scale(0.8,1)" font-size="5" text-anchor="middle" font-weight="bold">1</text>
<text transform="translate(438,825) scale(0.8,1)" font-size="5" text-anchor="middle" font-weight="bold">1</text>
<rect x="554" y="702" width="298" height="124"/>
<line x1="554" y1="722" x2="852" y2="722"/>
<line x1="554" y1="739" x2="852" y2="739"/>
<line x1="554" y1="757" x2="852" y2="757"/>
<line x1="554" y1="774" x2="852" y2="774"/>
<line x1="554" y1="791" x2="852" y2="791"/>
<line x1="554" y1="808" x2="852" y2="808"/>
<line x1="608" y1="722" x2="608" y2="826"/>
<line x1="664" y1="722" x2="664" y2="826"/>
<line x1="718" y1="722" x2="718" y2="826"/>
<line x1="758" y1="722" x2="758" y2="826"/>
<line x1="790" y1="722" x2="790" y2="826"/>
<rect x="663" y="707" width="1" height="6" fill="#000" stroke="none"/>
<rect x="663" y="707" width="1" height="6" fill="#000" stroke="none"/>
<rect x="664" y="709" width="1" height="5" fill="#000" stroke="none"/>
<rect x="663" y="714" width="2" height="1" fill="#000" stroke="none"/>
<rect x="662" y="708" width="3" height="1" fill="#000" stroke="none"/>
<rect x="662" y="713" width="4" height="1" fill="#000" stroke="none"/>
<rect x="662" y="710" width="3" height="2" fill="#000" stroke="none"/>
<rect x="672" y="709" width="1" height="5" fill="#000" stroke="none"/>
<rect x="670" y="709" width="1" height="5" fill="#000" stroke="none"/>
<rect x="670" y="714" width="2" height="1" fill="#000" stroke="none"/>
<rect x="668" y="708" width="4" height="1" fill="#000" stroke="none"/>
<rect x="670" y="714" width="1" height="1" fill="#000" stroke="none"/>
<rect x="668" y="708" width="3" height="1" fill="#000" stroke="none"/>
<rect x="670" y="709" width="3" height="3" fill="#000" stroke="none"/>
<rect x="676" y="707" width="1" height="7" fill="#000" stroke="none"/>
<rect x="676" y="707" width="1" height="6" fill="#000" stroke="none"/>
<rect x="674" y="708" width="1" height="7" fill="#000" stroke="none"/>
<rect x="674" y="711" width="3" height="1" fill="#000" stroke="none"/>
<rect x="675" y="710" width="3" height="1" fill="#000" stroke="none"/>
<rect x="675" y="707" width="2" height="3" fill="#000" stroke="none"/>
<rect x="684" y="708" width="1" height="7" fill="#000" stroke="none"/>
<rect x="683" y="709" width="1" height="5" fill="#000" stroke="none"/>
<rect x="683" y="708" width="1" height="5" fill="#000" stroke="none"/>
<rect x="680" y="710" width="5" height="1" fill="#000" stroke="none"/>
<rect x="680" y="709" width="5" height="1" fill="#000" stroke="none"/>
<rect x="680" y="710" width="4" height="1" fill="#000" stroke="none"/>
<rect x="682" y="708" width="3" height="3" fill="#000" stroke="none"/>
<rect x="687" y="708" width="1" height="5" fill="#000" stroke="none"/>
<rect x="688" y="709" width="1" height="4" fill="#000" stroke="none"/>
<rect x="688" y="709" width="1" height="1" fill="#000" stroke="none"/>
<rect x="687" y="707" width="2" height="1" fill="#000" stroke="none"/>
<rect x="687" y="713" width="3" height="1" fill="#000" stroke="none"/>
<rect x="687" y="707" width="3" height="4" fill="#000" stroke="none"/>
<rect x="692" y="707" width="1" height="8" fill="#000" stroke="none"/>
<rect x="693" y="708" width="1" height="7" fill="#000" stroke="none"/>
<rect x="692" y="708" width="1" height="5" fill="#000" stroke="none"/>
<rect x="692" y="708" width="3" height="1" fill="#000" stroke="none"/>
<rect x="694" y="709" width="3" height="1" fill="#000" stroke="none"/>
<rect x="693" y="711" width="2" height="2" fill="#000" stroke="none"/>
<rect x="702" y="708" width="1" height="7" fill="#000" stroke="none"/>
<rect x="700" y="708" width="1" height="5" fill="#000" stroke="none"/>
<rect x="698" y="714" width="5" height="1" fill="#000" stroke="none"/>
<rect x="699" y="714" width="3" height="1" fill="#000" stroke="none"/>
<rect x="699" y="714" width="4" height="1" fill="#000" stroke="none"/>
<rect x="698" y="707" width="3" height="4" fill="#000" stroke="none"/>
<rect x="707" y="709" width="1" height="6" fill="#000" stroke="none"/>
<rect x="708" y="707" width="1" height="8" fill="#000" stroke="none"/>
<rect x="708" y="708" width="1" height="7" fill="#000" stroke="none"/>
<rect x="706" y="707" width="2" height="1" fill="#000" stroke="none"/>
<rect x="706" y="708" width="2" height="1" fill="#000" stroke="none"/>
<rect x="704" y="712" width="4" height="1" fill="#000" stroke="none"/>
<rect x="706" y="710" width="1" height="1" fill="#000" stroke="none"/>
<rect x="706" y="709" width="2" height="4" fill="#000" stroke="none"/>
<rect x="567" y="727" width="1" height="6" fill="#000" stroke="none"/>
<rect x="567" y="726" width="1" height="7" fill="#000" stroke="none"/>
<rect x="568" y="731" width="3" height="1" fill="#000" stroke="none"/>
<rect x="567" y="726" width="3" height="1" fill="#000" stroke="none"/>
<rect x="566" y="730" width="3" height="1" fill="#000" stroke="none"/>
<rect x="568" y="728" width="3" height="4" fill="#000" stroke="none"/>
<rect x="574" y="726" width="1" height="9" fill="#000" stroke="none"/>
<rect x="572" y="726" width="1" height="8" fill="#000" stroke="none"/>
<rect x="573" y="727" width="1" height="8" fill="#000" stroke="none"/>
<rect x="573" y="726" width="2" height="1" fill="#000" stroke="none"/>
<rect x="574" y="731" width="3" height="1" fill="#000" stroke="none"/>
<rect x="573" y="727" width="2" height="1" fill="#000" stroke="none"/>
<rect x="572" y="729" width="2" height="3" fill="#000" stroke="none"/>
<rect x="578" y="728" width="1" height="6" fill="#000" stroke="none"/>
<rect x="581" y="727" width="1" height="6" fill="#000" stroke="none"/>
<rect x="578" y="728" width="1" height="7" fill="#000" stroke="none"/>
<rect x="578" y="728" width="5" height="1" fill="#000" stroke="none"/>
<rect x="580" y="733" width="3" height="1" fill="#000" stroke="none"/>
<rect x="580" y="732" width="3" height="4" fill="#000" stroke="none"/>
<rect x="585" y="728" width="1" height="5" fill="#000" stroke="none"/>
<rect x="585" y="726" width="1" height="9" fill="#000" stroke="none"/>
<rect x="584" y="728" width="1" height="5" fill="#000" stroke="none"/>
<rect x="584" y="732" width="5" height="1" fill="#000" stroke="none"/>
<rect x="585" y="726" width="4" height="1" fill="#000" stroke="none"/>
<rect x="585" y="730" width="2" height="4" fill="#000" stroke="none"/>
<rect x="592" y="728" width="1" height="6" fill="#000" stroke="none"/>
<rect x="591" y="726" width="1" height="7" fill="#000" stroke="none"/>
<rect x="592" y="727" width="1" height="6" fill="#000" stroke="none"/>
<rect x="591" y="734" width="2" height="1" fill="#000" stroke="none"/>
<rect x="592" y="728" width="3" height="1" fill="#000" stroke="none"/>
<rect x="592" y="734" width="3" height="1" fill="#000" stroke="none"/>
<rect x="590" y="733" width="3" height="1" fill="#000" stroke="none"/>
<rect x="590" y="732" width="2" height="2" fill="#000" stroke="none"/>
<rect x="632" y="728" width="1" height="5" fill="#000" stroke="none"/>
<rect x="629" y="728" width="1" height="7" fill="#000" stroke="none"/>
<rect x="631" y="734" width="2" height="1" fill="#000" stroke="none"/>
<rect x="629" y="733" width="4" height="1" fill="#000" stroke="none"/>
<rect x="629" y="726" width="6" height="1" fill="#000" stroke="none"/>
<rect x="631" y="726" width="2" height="4" fill="#000" stroke="none"/>
<rect x="646" y="726" width="1" height="9" fill="#000" stroke="none"/>
<rect x="645" y="727" width="1" height="6" fill="#000" stroke="none"/>
<rect x="646" y="728" width="1" height="5" fill="#000" stroke="none"/>
<rect x="643" y="730" width="3" height="1" fill="#000" stroke="none"/>
<rect x="643" y="734" width="3" height="1" fill="#000" stroke="none"/>
<rect x="643" y="731" width="3" height="4" fill="#000" stroke="none"/>
<rect x="685" y="726" width="1" height="8" fill="#000" stroke="none"/>
<rect x="682" y="727" width="1" height="7" fill="#000" stroke="none"/>
<rect x="684" y="727" width="4" height="1" fill="#000" stroke="none"/>
<rect x="682" y="732" width="6" height="1" fill="#000" stroke="none"/>
<rect x="682" y="730" width="6" height="1" fill="#000" stroke="none"/>
<rect x="684" y="727" width="3" height="2" fill="#000" stroke="none"/>
<rect x="697" y="728" width="1" height="7" fill="#000" stroke="none"/>
<rect x="699" y="727" width="1" height="8" fill="#000" stroke="none"/>
<rect x="701" y="726" width="1" height="9" fill="#000" stroke="none"/>
<rect x="698" y="732" width="3" height="1" fill="#000" stroke="none"/>
<rect x="697" y="731" width="5" height="1" fill="#000" stroke="none"/>
<rect x="697" y="731" width="5" height="1" fill="#000" stroke="none"/>
<rect x="696" y="731" width="5" height="1" fill="#000" stroke="none"/>
<rect x="699" y="729" width="2" height="3" fill="#000" stroke="none"/>
<rect x="726" y="728" width="1" height="6" fill="#000" stroke="none"/>
<rect x="726" y="726" width="1" height="9" fill="#000" stroke="none"/>
<rect x="723" y="726" width="1" height="9" fill="#000" stroke="none"/>
<rect x="722" y="730" width="5" height="1" fill="#000" stroke="none"/>
<rect x="722" y="730" width="4" height="1" fill="#000" stroke="none"/>
<rect x="723" y="730" width="4" height="1" fill="#000" stroke="none"/>
<rect x="724" y="730" width="3" height="4" fill="#000" stroke="none"/>
<rect x="728" y="727" width="1" height="8" fill="#000" stroke="none"/>
<rect x="729" y="727" width="1" height="8" fill="#000" stroke="none"/>
<rect x="730" y="726" width="1" height="7" fill="#000" stroke="none"/>
<rect x="728" y="730" width="3" height="1" fill="#000" stroke="none"/>
<rect x="728" y="729" width="4" height="1" fill="#000" stroke="none"/>
<rect x="728" y="729" width="2" height="3" fill="#000" stroke="none"/>
<rect x="736" y="728" width="1" height="7" fill="#000" stroke="none"/>
<rect x="734" y="728" width="1" height="5" fill="#000" stroke="none"/>
<rect x="735" y="726" width="1" height="9" fill="#000" stroke="none"/>
<rect x="734" y="726" width="5" height="1" fill="#000" stroke="none"/>
<rect x="736" y="730" width="2" height="1" fill="#000" stroke="none"/>
<rect x="734" y="734" width="4" height="1" fill="#000" stroke="none"/>
<rect x="735" y="730" width="2" height="3" fill="#000" stroke="none"/>
<rect x="740" y="727" width="1" height="8" fill="#000" stroke="none"/>
<rect x="740" y="726" width="1" height="7" fill="#000" stroke="none"/>
<rect x="744" y="728" width="1" height="7" fill="#000" stroke="none"/>
<rect x="740" y="733" width="4" height="1" fill="#000" stroke="none"/>
<rect x="742" y="727" width="1" height="1" fill="#000" stroke="none"/>
<rect x="742" y="732" width="2" height="1" fill="#000" stroke="none"/>
<rect x="741" y="734" width="2" height="1" fill="#000" stroke="none"/>
<rect x="741" y="731" width="2" height="2" fill="#000" stroke="none"/>
<rect x="747" y="728" width="1" height="5" fill="#000" stroke="none"/>
<rect x="747" y="727" width="1" height="7" fill="#000" stroke="none"/>
<rect x="746" y="726" width="1" height="9" fill="#000" stroke="none"/>
<rect x="747" y="730" width="4" height="1" fill="#000" stroke="none"/>
<rect x="746" y="726" width="3" height="1" fill="#000" stroke="none"/>
<rect x="747" y="732" width="3" height="4" fill="#000" stroke="none"/>
<rect x="767" y="727" width="1" height="8" fill="#000" stroke="none"/>
<rect x="765" y="726" width="1" height="9" fill="#000" stroke="none"/>
<rect x="762" y="733" width="5" height="1" fill="#000" stroke="none"/>
<rect x="763" y="731" width="3" height="1" fill="#000" stroke="none"/>
<rect x="762" y="731" width="6" height="1" fill="#000" stroke="none"/>
<rect x="764" y="727" width="3" height="2" fill="#000" stroke="none"/>
<rect x="776" y="727" width="1" height="8" fill="#000" stroke="none"/>
<rect x="777" y="727" width="1" height="6" fill="#000" stroke="none"/>
<rect x="774" y="729" width="4" height="1" fill="#000" stroke="none"/>
<rect x="774" y="726" width="5" height="1" fill="#000" stroke="none"/>
<rect x="774" y="727" width="5" height="1" fill="#000" stroke="none"/>
<rect x="775" y="726" width="5" height="1" fill="#000" stroke="none"/>
<rect x="776" y="728" width="2" height="2" fill="#000" stroke="none"/>
<rect x="810" y="728" width="1" height="5" fill="#000" stroke="none"/>
<rect x="808" y="727" width="1" height="6" fill="#000" stroke="none"/>
<rect x="806" y="728" width="3" height="1" fill="#000" stroke="none"/>
<rect x="805" y="728" width="4" height="1" fill="#000" stroke="none"/>
<rect x="807" y="734" width="3" height="1" fill="#000" stroke="none"/>
<rect x="806" y="730" width="2" height="4" fill="#000" stroke="none"/>
<rect x="822" y="726" width="1" height="9" fill="#000" stroke="none"/>
<rect x="823" y="728" width="1" height="6" fill="#000" stroke="none"/>
<rect x="823" y="732" width="3" height="1" fill="#000" stroke="none"/>
<rect x="824" y="726" width="4" height="1" fill="#000" stroke="none"/>
<rect x="823" y="729" width="3" height="2" fill="#000" stroke="none"/>
<rect x="569" y="745" width="1" height="6" fill="#000" stroke="none"/>
<rect x="573" y="743" width="1" height="8" fill="#000" stroke="none"/>
<rect x="573" y="743" width="1" height="8" fill="#000" stroke="none"/>
<rect x="570" y="750" width="4" height="1" fill="#000" stroke="none"/>
<rect x="569" y="747" width="3" height="1" fill="#000" stroke="none"/>
<rect x="569" y="746" width="3" height="1" fill="#000" stroke="none"/>
<rect x="570" y="750" width="3" height="1" fill="#000" stroke="none"/>
<rect x="569" y="750" width="3" height="2" fill="#000" stroke="none"/>
<rect x="575" y="745" width="1" height="8" fill="#000" stroke="none"/>
<rect x="577" y="744" width="1" height="7" fill="#000" stroke="none"/>
<rect x="577" y="747" width="1" height="1" fill="#000" stroke="none"/>
<rect x="575" y="745" width="4" height="1" fill="#000" stroke="none"/>
<rect x="576" y="743" width="3" height="1" fill="#000" stroke="none"/>
<rect x="577" y="744" width="3" height="1" fill="#000" stroke="none"/>
<rect x="577" y="750" width="3" height="4" fill="#000" stroke="none"/>
<rect x="584" y="744" width="1" height="8" fill="#000" stroke="none"/>
<rect x="581" y="745" width="1" height="8" fill="#000" stroke="none"/>
<rect x="583" y="743" width="1" height="9" fill="#000" stroke="none"/>
<rect x="582" y="747" width="4" height="1" fill="#000" stroke="none"/>
<rect x="582" y="751" width="3" height="1" fill="#000" stroke="none"/>
<rect x="582" y="746" width="2" height="2" fill="#000" stroke="none"/>
<rect x="588" y="745" width="1" height="6" fill="#000" stroke="none"/>
<rect x="589" y="744" width="1" height="9" fill="#000" stroke="none"/>
<rect x="588" y="751" width="4" height="1" fill="#000" stroke="none"/>
<rect x="587" y="748" width="4" height="1" fill="#000" stroke="none"/>
<rect x="588" y="750" width="4" height="1" fill="#000" stroke="none"/>
<rect x="587" y="745" width="4" height="1" fill="#000" stroke="none"/>
<rect x="589" y="750" width="3" height="3" fill="#000" stroke="none"/>
<text transform="translate(628,752) scale(0.48,1)" font-size="10" text-anchor="middle" font-weight="bold">(GB1096-2003)</text>
<rect x="671" y="744" width="1" height="8" fill="#000" stroke="none"/>
<rect x="670" y="743" width="1" height="9" fill="#000" stroke="none"/>
<rect x="669" y="748" width="3" height="1" fill="#000" stroke="none"/>
<rect x="668" y="744" width="3" height="1" fill="#000" stroke="none"/>
<rect x="668" y="747" width="3" height="3" fill="#000" stroke="none"/>
<rect x="677" y="744" width="1" height="7" fill="#000" stroke="none"/>
<rect x="674" y="744" width="1" height="8" fill="#000" stroke="none"/>
<rect x="675" y="743" width="4" height="1" fill="#000" stroke="none"/>
<rect x="676" y="743" width="2" height="1" fill="#000" stroke="none"/>
<rect x="674" y="745" width="4" height="1" fill="#000" stroke="none"/>
<rect x="675" y="748" width="2" height="3" fill="#000" stroke="none"/>
<rect x="680" y="745" width="1" height="7" fill="#000" stroke="none"/>
<rect x="684" y="745" width="1" height="8" fill="#000" stroke="none"/>
<rect x="680" y="743" width="1" height="8" fill="#000" stroke="none"/>
<rect x="682" y="750" width="3" height="1" fill="#000" stroke="none"/>
<rect x="681" y="747" width="4" height="1" fill="#000" stroke="none"/>
<rect x="680" y="751" width="5" height="1" fill="#000" stroke="none"/>
<rect x="681" y="749" width="3" height="3" fill="#000" stroke="none"/>
<text transform="translate(697,752) scale(0.5,1)" font-size="10" text-anchor="middle" font-weight="bold">L=70</text>
<text transform="translate(734,749) scale(0.42,1)" font-size="10" text-anchor="middle" font-weight="bold">20X12X12</text>
<text transform="translate(771,752) scale(0.6,1)" font-size="10" text-anchor="middle" font-weight="bold">2</text>
<text transform="translate(805,752) scale(0.55,1)" font-size="10" text-anchor="middle" font-weight="bold">B75</text>
<rect x="565" y="762" width="1" height="6" fill="#000" stroke="none"/>
<rect x="565" y="761" width="1" height="7" fill="#000" stroke="none"/>
<rect x="564" y="761" width="1" height="8" fill="#000" stroke="none"/>
<rect x="563" y="766" width="5" height="1" fill="#000" stroke="none"/>
<rect x="563" y="762" width="5" height="1" fill="#000" stroke="none"/>
<rect x="564" y="768" width="2" height="1" fill="#000" stroke="none"/>
<rect x="564" y="763" width="3" height="1" fill="#000" stroke="none"/>
<rect x="564" y="766" width="2" height="4" fill="#000" stroke="none"/>
<rect x="570" y="760" width="1" height="10" fill="#000" stroke="none"/>
<rect x="571" y="762" width="1" height="8" fill="#000" stroke="none"/>
<rect x="570" y="763" width="3" height="1" fill="#000" stroke="none"/>
<rect x="569" y="769" width="5" height="1" fill="#000" stroke="none"/>
<rect x="570" y="766" width="3" height="1" fill="#000" stroke="none"/>
<rect x="571" y="763" width="3" height="3" fill="#000" stroke="none"/>
<rect x="575" y="761" width="1" height="8" fill="#000" stroke="none"/>
<rect x="579" y="761" width="1" height="9" fill="#000" stroke="none"/>
<rect x="579" y="762" width="1" height="6" fill="#000" stroke="none"/>
<rect x="576" y="761" width="4" height="1" fill="#000" stroke="none"/>
<rect x="576" y="766" width="2" height="1" fill="#000" stroke="none"/>
<rect x="576" y="766" width="3" height="2" fill="#000" stroke="none"/>
<rect x="581" y="761" width="1" height="7" fill="#000" stroke="none"/>
<rect x="584" y="762" width="1" height="7" fill="#000" stroke="none"/>
<rect x="582" y="761" width="2" height="1" fill="#000" stroke="none"/>
<rect x="582" y="767" width="4" height="1" fill="#000" stroke="none"/>
<rect x="581" y="763" width="2" height="2" fill="#000" stroke="none"/>
<rect x="590" y="760" width="1" height="8" fill="#000" stroke="none"/>
<rect x="587" y="760" width="1" height="10" fill="#000" stroke="none"/>
<rect x="587" y="769" width="3" height="1" fill="#000" stroke="none"/>
<rect x="587" y="764" width="3" height="1" fill="#000" stroke="none"/>
<rect x="588" y="766" width="2" height="2" fill="#000" stroke="none"/>
<rect x="595" y="762" width="1" height="6" fill="#000" stroke="none"/>
<rect x="594" y="761" width="1" height="8" fill="#000" stroke="none"/>
<rect x="593" y="769" width="5" height="1" fill="#000" stroke="none"/>
<rect x="594" y="768" width="3" height="1" fill="#000" stroke="none"/>
<rect x="594" y="765" width="2" height="3" fill="#000" stroke="none"/>
<text transform="translate(628,769) scale(0.48,1)" font-size="10" text-anchor="middle" font-weight="bold">(GB1096-2003)</text>
<rect x="672" y="760" width="1" height="10" fill="#000" stroke="none"/>
<rect x="671" y="762" width="1" height="6" fill="#000" stroke="none"/>
<rect x="668" y="760" width="5" height="1" fill="#000" stroke="none"/>
<rect x="670" y="767" width="1" height="1" fill="#000" stroke="none"/>
<rect x="668" y="766" width="4" height="1" fill="#000" stroke="none"/>
<rect x="668" y="766" width="3" height="2" fill="#000" stroke="none"/>
<rect x="674" y="762" width="1" height="7" fill="#000" stroke="none"/>
<rect x="677" y="761" width="1" height="7" fill="#000" stroke="none"/>
<rect x="677" y="760" width="1" height="10" fill="#000" stroke="none"/>
<rect x="674" y="768" width="5" height="1" fill="#000" stroke="none"/>
<rect x="674" y="767" width="4" height="1" fill="#000" stroke="none"/>
<rect x="674" y="763" width="4" height="1" fill="#000" stroke="none"/>
<rect x="674" y="764" width="3" height="2" fill="#000" stroke="none"/>
<rect x="684" y="760" width="1" height="10" fill="#000" stroke="none"/>
<rect x="683" y="761" width="1" height="7" fill="#000" stroke="none"/>
<rect x="680" y="762" width="1" height="8" fill="#000" stroke="none"/>
<rect x="680" y="760" width="5" height="1" fill="#000" stroke="none"/>
<rect x="680" y="769" width="4" height="1" fill="#000" stroke="none"/>
<rect x="682" y="760" width="3" height="1" fill="#000" stroke="none"/>
<rect x="680" y="766" width="3" height="4" fill="#000" stroke="none"/>
<text transform="translate(697,769) scale(0.5,1)" font-size="10" text-anchor="middle" font-weight="bold">L=70</text>
<text transform="translate(734,766) scale(0.42,1)" font-size="10" text-anchor="middle" font-weight="bold">20X12X12</text>
<text transform="translate(771,769) scale(0.6,1)" font-size="10" text-anchor="middle" font-weight="bold">1</text>
<text transform="translate(805,769) scale(0.55,1)" font-size="10" text-anchor="middle" font-weight="bold">B65</text>
<rect x="566" y="777" width="1" height="10" fill="#000" stroke="none"/>
<rect x="568" y="777" width="1" height="10" fill="#000" stroke="none"/>
<rect x="570" y="779" width="1" height="7" fill="#000" stroke="none"/>
<rect x="568" y="781" width="1" height="1" fill="#000" stroke="none"/>
<rect x="567" y="783" width="3" height="1" fill="#000" stroke="none"/>
<rect x="567" y="779" width="2" height="2" fill="#000" stroke="none"/>
<rect x="574" y="777" width="1" height="9" fill="#000" stroke="none"/>
<rect x="575" y="777" width="1" height="8" fill="#000" stroke="none"/>
<rect x="573" y="783" width="3" height="1" fill="#000" stroke="none"/>
<rect x="572" y="783" width="5" height="1" fill="#000" stroke="none"/>
<rect x="574" y="784" width="2" height="3" fill="#000" stroke="none"/>
<rect x="579" y="778" width="1" height="8" fill="#000" stroke="none"/>
<rect x="581" y="777" width="1" height="8" fill="#000" stroke="none"/>
<rect x="581" y="777" width="1" height="8" fill="#000" stroke="none"/>
<rect x="579" y="777" width="4" height="1" fill="#000" stroke="none"/>
<rect x="578" y="784" width="5" height="1" fill="#000" stroke="none"/>
<rect x="578" y="781" width="3" height="1" fill="#000" stroke="none"/>
<rect x="578" y="782" width="3" height="3" fill="#000" stroke="none"/>
<rect x="588" y="777" width="1" height="9" fill="#000" stroke="none"/>
<rect x="586" y="778" width="1" height="8" fill="#000" stroke="none"/>
<rect x="584" y="779" width="1" height="6" fill="#000" stroke="none"/>
<rect x="584" y="778" width="5" height="1" fill="#000" stroke="none"/>
<rect x="585" y="778" width="2" height="1" fill="#000" stroke="none"/>
<rect x="585" y="784" width="3" height="1" fill="#000" stroke="none"/>
<rect x="585" y="783" width="4" height="1" fill="#000" stroke="none"/>
<rect x="585" y="779" width="2" height="4" fill="#000" stroke="none"/>
<rect x="591" y="779" width="1" height="8" fill="#000" stroke="none"/>
<rect x="592" y="778" width="1" height="8" fill="#000" stroke="none"/>
<rect x="592" y="779" width="1" height="8" fill="#000" stroke="none"/>
<rect x="591" y="780" width="4" height="1" fill="#000" stroke="none"/>
<rect x="591" y="780" width="4" height="1" fill="#000" stroke="none"/>
<rect x="591" y="777" width="2" height="1" fill="#000" stroke="none"/>
<rect x="591" y="785" width="4" height="1" fill="#000" stroke="none"/>
<rect x="591" y="778" width="2" height="3" fill="#000" stroke="none"/>
<text transform="translate(628,786) scale(0.48,1)" font-size="10" text-anchor="middle" font-weight="bold">(GB1096-2003)</text>
<rect x="675" y="777" width="1" height="9" fill="#000" stroke="none"/>
<rect x="677" y="779" width="1" height="7" fill="#000" stroke="none"/>
<rect x="674" y="780" width="5" height="1" fill="#000" stroke="none"/>
<rect x="676" y="784" width="2" height="1" fill="#000" stroke="none"/>
<rect x="675" y="778" width="3" height="3" fill="#000" stroke="none"/>
<rect x="685" y="778" width="1" height="8" fill="#000" stroke="none"/>
<rect x="683" y="779" width="1" height="7" fill="#000" stroke="none"/>
<rect x="682" y="778" width="1" height="9" fill="#000" stroke="none"/>
<rect x="681" y="780" width="6" height="1" fill="#000" stroke="none"/>
<rect x="683" y="781" width="4" height="1" fill="#000" stroke="none"/>
<rect x="683" y="778" width="3" height="3" fill="#000" stroke="none"/>
<rect x="692" y="779" width="1" height="8" fill="#000" stroke="none"/>
<rect x="693" y="777" width="1" height="8" fill="#000" stroke="none"/>
<rect x="688" y="777" width="6" height="1" fill="#000" stroke="none"/>
<rect x="688" y="784" width="5" height="1" fill="#000" stroke="none"/>
<rect x="688" y="782" width="5" height="1" fill="#000" stroke="none"/>
<rect x="689" y="778" width="2" height="2" fill="#000" stroke="none"/>
<text transform="translate(771,786) scale(0.6,1)" font-size="10" text-anchor="middle" font-weight="bold">1</text>
<text transform="translate(805,786) scale(0.55,1)" font-size="10" text-anchor="middle" font-weight="bold">B50</text>
<rect x="569" y="795" width="1" height="7" fill="#000" stroke="none"/>
<rect x="570" y="795" width="1" height="7" fill="#000" stroke="none"/>
<rect x="569" y="794" width="3" height="1" fill="#000" stroke="none"/>
<rect x="571" y="803" width="1" height="1" fill="#000" stroke="none"/>
<rect x="569" y="799" width="5" height="1" fill="#000" stroke="none"/>
<rect x="570" y="799" width="2" height="2" fill="#000" stroke="none"/>
<rect x="577" y="794" width="1" height="8" fill="#000" stroke="none"/>
<rect x="576" y="794" width="1" height="9" fill="#000" stroke="none"/>
<rect x="575" y="799" width="3" height="1" fill="#000" stroke="none"/>
<rect x="575" y="798" width="5" height="1" fill="#000" stroke="none"/>
<rect x="576" y="794" width="2" height="1" fill="#000" stroke="none"/>
<rect x="576" y="795" width="3" height="2" fill="#000" stroke="none"/>
<rect x="585" y="794" width="1" height="8" fill="#000" stroke="none"/>
<rect x="585" y="794" width="1" height="8" fill="#000" stroke="none"/>
<rect x="582" y="795" width="1" height="7" fill="#000" stroke="none"/>
<rect x="582" y="800" width="2" height="1" fill="#000" stroke="none"/>
<rect x="582" y="798" width="4" height="1" fill="#000" stroke="none"/>
<rect x="583" y="798" width="1" height="1" fill="#000" stroke="none"/>
<rect x="582" y="800" width="3" height="2" fill="#000" stroke="none"/>
<rect x="588" y="795" width="1" height="7" fill="#000" stroke="none"/>
<rect x="590" y="794" width="1" height="10" fill="#000" stroke="none"/>
<rect x="590" y="794" width="1" height="9" fill="#000" stroke="none"/>
<rect x="588" y="795" width="2" height="1" fill="#000" stroke="none"/>
<rect x="588" y="799" width="4" height="1" fill="#000" stroke="none"/>
<rect x="587" y="794" width="2" height="4" fill="#000" stroke="none"/>
<text transform="translate(628,803) scale(0.48,1)" font-size="10" text-anchor="middle" font-weight="bold">(GB1096-2003)</text>
<rect x="679" y="795" width="1" height="9" fill="#000" stroke="none"/>
<rect x="678" y="796" width="1" height="7" fill="#000" stroke="none"/>
<rect x="674" y="802" width="6" height="1" fill="#000" stroke="none"/>
<rect x="675" y="799" width="5" height="1" fill="#000" stroke="none"/>
<rect x="674" y="802" width="6" height="1" fill="#000" stroke="none"/>
<rect x="675" y="795" width="4" height="1" fill="#000" stroke="none"/>
<rect x="675" y="798" width="2" height="2" fill="#000" stroke="none"/>
<rect x="683" y="794" width="1" height="8" fill="#000" stroke="none"/>
<rect x="686" y="795" width="1" height="9" fill="#000" stroke="none"/>
<rect x="686" y="796" width="1" height="6" fill="#000" stroke="none"/>
<rect x="683" y="797" width="3" height="1" fill="#000" stroke="none"/>
<rect x="681" y="803" width="5" height="1" fill="#000" stroke="none"/>
<rect x="682" y="797" width="2" height="3" fill="#000" stroke="none"/>
<rect x="691" y="795" width="1" height="9" fill="#000" stroke="none"/>
<rect x="689" y="794" width="1" height="8" fill="#000" stroke="none"/>
<rect x="690" y="794" width="2" height="1" fill="#000" stroke="none"/>
<rect x="690" y="794" width="3" height="1" fill="#000" stroke="none"/>
<rect x="688" y="800" width="3" height="4" fill="#000" stroke="none"/>
<text transform="translate(771,803) scale(0.6,1)" font-size="10" text-anchor="middle" font-weight="bold">1</text>
<text transform="translate(805,803) scale(0.55,1)" font-size="10" text-anchor="middle" font-weight="bold">B24</text>
<rect x="569" y="812" width="1" height="7" fill="#000" stroke="none"/>
<rect x="567" y="812" width="1" height="8" fill="#000" stroke="none"/>
<rect x="568" y="812" width="1" height="7" fill="#000" stroke="none"/>
<rect x="566" y="813" width="5" height="1" fill="#000" stroke="none"/>
<rect x="567" y="820" width="3" height="1" fill="#000" stroke="none"/>
<rect x="567" y="814" width="2" height="1" fill="#000" stroke="none"/>
<rect x="567" y="813" width="3" height="3" fill="#000" stroke="none"/>
<rect x="572" y="811" width="1" height="9" fill="#000" stroke="none"/>
<rect x="575" y="812" width="1" height="9" fill="#000" stroke="none"/>
<rect x="574" y="819" width="1" height="1" fill="#000" stroke="none"/>
<rect x="572" y="811" width="3" height="1" fill="#000" stroke="none"/>
<rect x="572" y="813" width="3" height="1" fill="#000" stroke="none"/>
<rect x="573" y="812" width="2" height="4" fill="#000" stroke="none"/>
<rect x="579" y="811" width="1" height="10" fill="#000" stroke="none"/>
<rect x="582" y="813" width="1" height="6" fill="#000" stroke="none"/>
<rect x="578" y="811" width="1" height="10" fill="#000" stroke="none"/>
<rect x="578" y="815" width="3" height="1" fill="#000" stroke="none"/>
<rect x="578" y="814" width="4" height="1" fill="#000" stroke="none"/>
<rect x="579" y="820" width="4" height="1" fill="#000" stroke="none"/>
<rect x="579" y="815" width="3" height="2" fill="#000" stroke="none"/>
<rect x="588" y="812" width="1" height="9" fill="#000" stroke="none"/>
<rect x="588" y="812" width="1" height="7" fill="#000" stroke="none"/>
<rect x="588" y="811" width="1" height="9" fill="#000" stroke="none"/>
<rect x="584" y="811" width="5" height="1" fill="#000" stroke="none"/>
<rect x="584" y="817" width="3" height="1" fill="#000" stroke="none"/>
<rect x="586" y="815" width="2" height="1" fill="#000" stroke="none"/>
<rect x="585" y="813" width="3" height="2" fill="#000" stroke="none"/>
<rect x="592" y="812" width="1" height="7" fill="#000" stroke="none"/>
<rect x="594" y="813" width="1" height="6" fill="#000" stroke="none"/>
<rect x="592" y="815" width="1" height="1" fill="#000" stroke="none"/>
<rect x="592" y="817" width="2" height="1" fill="#000" stroke="none"/>
<rect x="591" y="817" width="3" height="4" fill="#000" stroke="none"/>
<text transform="translate(628,820) scale(0.48,1)" font-size="10" text-anchor="middle" font-weight="bold">(GB1096-2003)</text>
<rect x="676" y="812" width="1" height="9" fill="#000" stroke="none"/>
<rect x="677" y="811" width="1" height="10" fill="#000" stroke="none"/>
<rect x="675" y="811" width="3" height="1" fill="#000" stroke="none"/>
<rect x="675" y="815" width="3" height="1" fill="#000" stroke="none"/>
<rect x="676" y="820" width="3" height="1" fill="#000" stroke="none"/>
<rect x="676" y="811" width="4" height="1" fill="#000" stroke="none"/>
<rect x="675" y="813" width="3" height="4" fill="#000" stroke="none"/>
<rect x="684" y="813" width="1" height="7" fill="#000" stroke="none"/>
<rect x="681" y="811" width="1" height="9" fill="#000" stroke="none"/>
<rect x="682" y="813" width="1" height="6" fill="#000" stroke="none"/>
<rect x="681" y="811" width="6" height="1" fill="#000" stroke="none"/>
<rect x="682" y="820" width="4" height="1" fill="#000" stroke="none"/>
<rect x="681" y="816" width="2" height="3" fill="#000" stroke="none"/>
<rect x="692" y="811" width="1" height="10" fill="#000" stroke="none"/>
<rect x="690" y="813" width="1" height="7" fill="#000" stroke="none"/>
<rect x="689" y="811" width="1" height="10" fill="#000" stroke="none"/>
<rect x="689" y="813" width="5" height="1" fill="#000" stroke="none"/>
<rect x="690" y="812" width="4" height="1" fill="#000" stroke="none"/>
<rect x="690" y="817" width="3" height="2" fill="#000" stroke="none"/>
<text transform="translate(771,820) scale(0.6,1)" font-size="10" text-anchor="middle" font-weight="bold">1</text>
<text transform="translate(805,820) scale(0.55,1)" font-size="10" text-anchor="middle" font-weight="bold">B55</text>
<rect x="985" y="674" width="1" height="5" fill="#000" stroke="none"/>
<rect x="985" y="674" width="1" height="5" fill="#000" stroke="none"/>
<rect x="981" y="680" width="5" height="1" fill="#000" stroke="none"/>
<rect x="981" y="673" width="5" height="1" fill="#000" stroke="none"/>
<rect x="982" y="673" width="4" height="1" fill="#000" stroke="none"/>
<rect x="981" y="676" width="5" height="1" fill="#000" stroke="none"/>
<rect x="981" y="673" width="2" height="2" fill="#000" stroke="none"/>
<rect x="988" y="675" width="1" height="4" fill="#000" stroke="none"/>
<rect x="991" y="675" width="1" height="4" fill="#000" stroke="none"/>
<rect x="990" y="675" width="1" height="6" fill="#000" stroke="none"/>
<rect x="987" y="677" width="4" height="1" fill="#000" stroke="none"/>
<rect x="989" y="673" width="2" height="1" fill="#000" stroke="none"/>
<rect x="988" y="673" width="3" height="1" fill="#000" stroke="none"/>
<rect x="987" y="680" width="3" height="1" fill="#000" stroke="none"/>
<rect x="989" y="676" width="2" height="2" fill="#000" stroke="none"/>
<rect x="995" y="673" width="1" height="6" fill="#000" stroke="none"/>
<rect x="993" y="673" width="1" height="7" fill="#000" stroke="none"/>
<rect x="995" y="677" width="3" height="1" fill="#000" stroke="none"/>
<rect x="995" y="677" width="1" height="1" fill="#000" stroke="none"/>
<rect x="995" y="679" width="1" height="1" fill="#000" stroke="none"/>
<rect x="994" y="677" width="2" height="1" fill="#000" stroke="none"/>
<rect x="993" y="673" width="2" height="2" fill="#000" stroke="none"/>
<rect x="1000" y="675" width="1" height="6" fill="#000" stroke="none"/>
<rect x="1000" y="675" width="1" height="5" fill="#000" stroke="none"/>
<rect x="1000" y="674" width="1" height="6" fill="#000" stroke="none"/>
<rect x="1000" y="676" width="2" height="1" fill="#000" stroke="none"/>
<rect x="1000" y="680" width="2" height="1" fill="#000" stroke="none"/>
<rect x="999" y="673" width="4" height="1" fill="#000" stroke="none"/>
<rect x="1001" y="676" width="2" height="1" fill="#000" stroke="none"/>
<rect x="999" y="676" width="2" height="4" fill="#000" stroke="none"/>
<rect x="1006" y="673" width="1" height="8" fill="#000" stroke="none"/>
<rect x="1005" y="673" width="1" height="6" fill="#000" stroke="none"/>
<rect x="1005" y="678" width="3" height="1" fill="#000" stroke="none"/>
<rect x="1005" y="673" width="5" height="1" fill="#000" stroke="none"/>
<rect x="1005" y="678" width="2" height="4" fill="#000" stroke="none"/>
<rect x="935" y="692" width="1" height="7" fill="#000" stroke="none"/>
<rect x="936" y="694" width="1" height="6" fill="#000" stroke="none"/>
<rect x="935" y="698" width="5" height="1" fill="#000" stroke="none"/>
<rect x="935" y="695" width="5" height="1" fill="#000" stroke="none"/>
<rect x="935" y="692" width="5" height="1" fill="#000" stroke="none"/>
<rect x="944" y="692" width="1" height="8" fill="#000" stroke="none"/>
<rect x="941" y="694" width="1" height="6" fill="#000" stroke="none"/>
<rect x="943" y="693" width="1" height="6" fill="#000" stroke="none"/>
<rect x="941" y="696" width="4" height="1" fill="#000" stroke="none"/>
<rect x="942" y="696" width="4" height="1" fill="#000" stroke="none"/>
<rect x="943" y="694" width="2" height="4" fill="#000" stroke="none"/>
<rect x="949" y="694" width="1" height="6" fill="#000" stroke="none"/>
<rect x="950" y="692" width="1" height="7" fill="#000" stroke="none"/>
<rect x="951" y="692" width="1" height="7" fill="#000" stroke="none"/>
<rect x="947" y="692" width="5" height="1" fill="#000" stroke="none"/>
<rect x="947" y="696" width="4" height="1" fill="#000" stroke="none"/>
<rect x="948" y="694" width="2" height="2" fill="#000" stroke="none"/>
<rect x="955" y="693" width="1" height="7" fill="#000" stroke="none"/>
<rect x="956" y="694" width="1" height="6" fill="#000" stroke="none"/>
<rect x="954" y="697" width="4" height="1" fill="#000" stroke="none"/>
<rect x="953" y="696" width="5" height="1" fill="#000" stroke="none"/>
<rect x="953" y="697" width="2" height="2" fill="#000" stroke="none"/>
<rect x="963" y="692" width="1" height="7" fill="#000" stroke="none"/>
<rect x="961" y="692" width="1" height="7" fill="#000" stroke="none"/>
<rect x="962" y="694" width="1" height="6" fill="#000" stroke="none"/>
<rect x="960" y="692" width="4" height="1" fill="#000" stroke="none"/>
<rect x="960" y="696" width="3" height="1" fill="#000" stroke="none"/>
<rect x="968" y="694" width="1" height="6" fill="#000" stroke="none"/>
<rect x="968" y="692" width="1" height="8" fill="#000" stroke="none"/>
<rect x="965" y="697" width="4" height="1" fill="#000" stroke="none"/>
<rect x="965" y="697" width="4" height="1" fill="#000" stroke="none"/>
<rect x="967" y="696" width="2" height="2" fill="#000" stroke="none"/>
<rect x="973" y="693" width="1" height="7" fill="#000" stroke="none"/>
<rect x="975" y="692" width="1" height="7" fill="#000" stroke="none"/>
<rect x="971" y="694" width="5" height="1" fill="#000" stroke="none"/>
<rect x="972" y="697" width="4" height="1" fill="#000" stroke="none"/>
<rect x="972" y="694" width="2" height="4" fill="#000" stroke="none"/>
<rect x="978" y="694" width="1" height="6" fill="#000" stroke="none"/>
<rect x="978" y="693" width="1" height="7" fill="#000" stroke="none"/>
<rect x="978" y="696" width="3" height="1" fill="#000" stroke="none"/>
<rect x="977" y="697" width="2" height="2" fill="#000" stroke="none"/>
<rect x="984" y="693" width="1" height="6" fill="#000" stroke="none"/>
<rect x="983" y="692" width="1" height="7" fill="#000" stroke="none"/>
<rect x="986" y="694" width="1" height="6" fill="#000" stroke="none"/>
<rect x="984" y="696" width="4" height="1" fill="#000" stroke="none"/>
<rect x="984" y="694" width="3" height="1" fill="#000" stroke="none"/>
<rect x="983" y="692" width="4" height="1" fill="#000" stroke="none"/>
<rect x="986" y="693" width="2" height="4" fill="#000" stroke="none"/>
<rect x="990" y="694" width="1" height="6" fill="#000" stroke="none"/>
<rect x="992" y="693" width="1" height="6" fill="#000" stroke="none"/>
<rect x="990" y="693" width="4" height="1" fill="#000" stroke="none"/>
<rect x="989" y="698" width="4" height="1" fill="#000" stroke="none"/>
<rect x="998" y="692" width="1" height="7" fill="#000" stroke="none"/>
<rect x="999" y="694" width="1" height="6" fill="#000" stroke="none"/>
<rect x="997" y="692" width="1" height="7" fill="#000" stroke="none"/>
<rect x="995" y="693" width="4" height="1" fill="#000" stroke="none"/>
<rect x="995" y="695" width="5" height="1" fill="#000" stroke="none"/>
<rect x="995" y="696" width="2" height="3" fill="#000" stroke="none"/>
<rect x="1004" y="694" width="1" height="6" fill="#000" stroke="none"/>
<rect x="1003" y="694" width="1" height="5" fill="#000" stroke="none"/>
<rect x="1001" y="699" width="5" height="1" fill="#000" stroke="none"/>
<rect x="1001" y="698" width="4" height="1" fill="#000" stroke="none"/>
<rect x="1003" y="694" width="2" height="3" fill="#000" stroke="none"/>
<rect x="1007" y="692" width="1" height="8" fill="#000" stroke="none"/>
<rect x="1010" y="693" width="1" height="6" fill="#000" stroke="none"/>
<rect x="1011" y="693" width="1" height="7" fill="#000" stroke="none"/>
<rect x="1008" y="696" width="4" height="1" fill="#000" stroke="none"/>
<rect x="1016" y="692" width="1" height="8" fill="#000" stroke="none"/>
<rect x="1014" y="692" width="1" height="8" fill="#000" stroke="none"/>
<rect x="1016" y="694" width="1" height="6" fill="#000" stroke="none"/>
<rect x="1014" y="697" width="3" height="1" fill="#000" stroke="none"/>
<rect x="1022" y="693" width="1" height="7" fill="#000" stroke="none"/>
<rect x="1021" y="694" width="1" height="5" fill="#000" stroke="none"/>
<rect x="1020" y="696" width="4" height="1" fill="#000" stroke="none"/>
<rect x="1019" y="699" width="4" height="1" fill="#000" stroke="none"/>
<rect x="1019" y="697" width="4" height="1" fill="#000" stroke="none"/>
<rect x="1022" y="695" width="2" height="4" fill="#000" stroke="none"/>
<rect x="1027" y="692" width="1" height="7" fill="#000" stroke="none"/>
<rect x="1028" y="692" width="1" height="8" fill="#000" stroke="none"/>
<rect x="1025" y="697" width="4" height="1" fill="#000" stroke="none"/>
<rect x="1025" y="692" width="5" height="1" fill="#000" stroke="none"/>
<rect x="1026" y="693" width="3" height="1" fill="#000" stroke="none"/>
<rect x="1026" y="693" width="2" height="2" fill="#000" stroke="none"/>
<rect x="1033" y="692" width="1" height="8" fill="#000" stroke="none"/>
<rect x="1034" y="694" width="1" height="6" fill="#000" stroke="none"/>
<rect x="1035" y="694" width="1" height="6" fill="#000" stroke="none"/>
<rect x="1031" y="696" width="4" height="1" fill="#000" stroke="none"/>
<rect x="1031" y="695" width="4" height="1" fill="#000" stroke="none"/>
<rect x="1031" y="693" width="4" height="1" fill="#000" stroke="none"/>
<rect x="1032" y="695" width="2" height="3" fill="#000" stroke="none"/>
<rect x="1040" y="693" width="1" height="7" fill="#000" stroke="none"/>
<rect x="1040" y="692" width="1" height="7" fill="#000" stroke="none"/>
<rect x="1037" y="692" width="4" height="1" fill="#000" stroke="none"/>
<rect x="1040" y="697" width="2" height="3" fill="#000" stroke="none"/>
<rect x="1045" y="693" width="1" height="6" fill="#000" stroke="none"/>
<rect x="1043" y="692" width="1" height="7" fill="#000" stroke="none"/>
<rect x="1043" y="692" width="1" height="8" fill="#000" stroke="none"/>
<rect x="1043" y="697" width="4" height="1" fill="#000" stroke="none"/>
<rect x="1043" y="699" width="5" height="1" fill="#000" stroke="none"/>
<rect x="1044" y="695" width="4" height="1" fill="#000" stroke="none"/>
<rect x="1045" y="694" width="2" height="3" fill="#000" stroke="none"/>
<rect x="1051" y="693" width="1" height="6" fill="#000" stroke="none"/>
<rect x="1052" y="693" width="1" height="7" fill="#000" stroke="none"/>
<rect x="1050" y="696" width="3" height="1" fill="#000" stroke="none"/>
<rect x="1050" y="698" width="3" height="1" fill="#000" stroke="none"/>
<rect x="1056" y="694" width="1" height="5" fill="#000" stroke="none"/>
<rect x="1055" y="693" width="1" height="7" fill="#000" stroke="none"/>
<rect x="1057" y="694" width="1" height="5" fill="#000" stroke="none"/>
<rect x="1055" y="693" width="4" height="1" fill="#000" stroke="none"/>
<rect x="1058" y="696" width="2" height="4" fill="#000" stroke="none"/>
<rect x="1064" y="693" width="1" height="7" fill="#000" stroke="none"/>
<rect x="1061" y="692" width="1" height="8" fill="#000" stroke="none"/>
<rect x="1062" y="692" width="4" height="1" fill="#000" stroke="none"/>
<rect x="1061" y="693" width="5" height="1" fill="#000" stroke="none"/>
<rect x="1064" y="697" width="2" height="2" fill="#000" stroke="none"/>
<rect x="1068" y="692" width="1" height="7" fill="#000" stroke="none"/>
<rect x="1067" y="694" width="1" height="6" fill="#000" stroke="none"/>
<rect x="1068" y="694" width="3" height="1" fill="#000" stroke="none"/>
<rect x="1067" y="696" width="4" height="1" fill="#000" stroke="none"/>
<rect x="1067" y="695" width="2" height="4" fill="#000" stroke="none"/>
<rect x="1076" y="694" width="1" height="6" fill="#000" stroke="none"/>
<rect x="1073" y="693" width="1" height="6" fill="#000" stroke="none"/>
<rect x="1073" y="693" width="4" height="1" fill="#000" stroke="none"/>
<rect x="1074" y="694" width="3" height="1" fill="#000" stroke="none"/>
<rect x="1073" y="697" width="2" height="3" fill="#000" stroke="none"/>
<rect x="1080" y="694" width="1" height="6" fill="#000" stroke="none"/>
<rect x="1082" y="692" width="1" height="8" fill="#000" stroke="none"/>
<rect x="1079" y="693" width="5" height="1" fill="#000" stroke="none"/>
<rect x="1079" y="693" width="4" height="1" fill="#000" stroke="none"/>
<rect x="1080" y="692" width="4" height="1" fill="#000" stroke="none"/>
<rect x="1080" y="692" width="2" height="3" fill="#000" stroke="none"/>
<rect x="1085" y="693" width="1" height="6" fill="#000" stroke="none"/>
<rect x="1088" y="694" width="1" height="5" fill="#000" stroke="none"/>
<rect x="1085" y="692" width="5" height="1" fill="#000" stroke="none"/>
<rect x="1085" y="695" width="2" height="3" fill="#000" stroke="none"/>
<rect x="1095" y="692" width="1" height="7" fill="#000" stroke="none"/>
<rect x="1095" y="692" width="1" height="7" fill="#000" stroke="none"/>
<rect x="1093" y="694" width="1" height="5" fill="#000" stroke="none"/>
<rect x="1091" y="694" width="5" height="1" fill="#000" stroke="none"/>
<rect x="1091" y="697" width="4" height="1" fill="#000" stroke="none"/>
<rect x="1094" y="694" width="2" height="4" fill="#000" stroke="none"/>
<rect x="937" y="704" width="1" height="7" fill="#000" stroke="none"/>
<rect x="939" y="705" width="1" height="5" fill="#000" stroke="none"/>
<rect x="939" y="705" width="1" height="6" fill="#000" stroke="none"/>
<rect x="936" y="707" width="4" height="1" fill="#000" stroke="none"/>
<rect x="938" y="707" width="2" height="2" fill="#000" stroke="none"/>
<rect x="943" y="705" width="1" height="6" fill="#000" stroke="none"/>
<rect x="943" y="704" width="1" height="6" fill="#000" stroke="none"/>
<rect x="944" y="703" width="1" height="8" fill="#000" stroke="none"/>
<rect x="941" y="705" width="4" height="1" fill="#000" stroke="none"/>
<rect x="942" y="710" width="4" height="1" fill="#000" stroke="none"/>
<rect x="944" y="706" width="2" height="2" fill="#000" stroke="none"/>
<rect x="949" y="705" width="1" height="6" fill="#000" stroke="none"/>
<rect x="950" y="704" width="1" height="7" fill="#000" stroke="none"/>
<rect x="948" y="703" width="3" height="1" fill="#000" stroke="none"/>
<rect x="948" y="704" width="4" height="1" fill="#000" stroke="none"/>
<rect x="949" y="707" width="2" height="3" fill="#000" stroke="none"/>
<rect x="957" y="705" width="1" height="6" fill="#000" stroke="none"/>
<rect x="954" y="703" width="1" height="8" fill="#000" stroke="none"/>
<rect x="953" y="703" width="1" height="7" fill="#000" stroke="none"/>
<rect x="954" y="708" width="4" height="1" fill="#000" stroke="none"/>
<rect x="953" y="706" width="4" height="1" fill="#000" stroke="none"/>
<rect x="953" y="705" width="2" height="4" fill="#000" stroke="none"/>
<rect x="959" y="703" width="1" height="7" fill="#000" stroke="none"/>
<rect x="963" y="703" width="1" height="7" fill="#000" stroke="none"/>
<rect x="961" y="705" width="1" height="6" fill="#000" stroke="none"/>
<rect x="959" y="703" width="4" height="1" fill="#000" stroke="none"/>
<rect x="960" y="705" width="2" height="3" fill="#000" stroke="none"/>
<rect x="965" y="704" width="1" height="7" fill="#000" stroke="none"/>
<rect x="967" y="703" width="1" height="7" fill="#000" stroke="none"/>
<rect x="966" y="703" width="1" height="7" fill="#000" stroke="none"/>
<rect x="965" y="703" width="5" height="1" fill="#000" stroke="none"/>
<rect x="968" y="706" width="2" height="2" fill="#000" stroke="none"/>
<rect x="971" y="705" width="1" height="6" fill="#000" stroke="none"/>
<rect x="973" y="704" width="1" height="7" fill="#000" stroke="none"/>
<rect x="971" y="705" width="1" height="5" fill="#000" stroke="none"/>
<rect x="971" y="710" width="4" height="1" fill="#000" stroke="none"/>
<rect x="978" y="703" width="1" height="7" fill="#000" stroke="none"/>
<rect x="979" y="703" width="1" height="8" fill="#000" stroke="none"/>
<rect x="978" y="707" width="4" height="1" fill="#000" stroke="none"/>
<rect x="979" y="703" width="2" height="2" fill="#000" stroke="none"/>
<rect x="987" y="705" width="1" height="5" fill="#000" stroke="none"/>
<rect x="983" y="704" width="1" height="6" fill="#000" stroke="none"/>
<rect x="985" y="704" width="1" height="6" fill="#000" stroke="none"/>
<rect x="984" y="708" width="3" height="1" fill="#000" stroke="none"/>
<rect x="984" y="704" width="2" height="4" fill="#000" stroke="none"/>
<rect x="992" y="705" width="1" height="6" fill="#000" stroke="none"/>
<rect x="989" y="703" width="1" height="8" fill="#000" stroke="none"/>
<rect x="989" y="708" width="4" height="1" fill="#000" stroke="none"/>
<rect x="995" y="705" width="1" height="6" fill="#000" stroke="none"/>
<rect x="998" y="704" width="1" height="6" fill="#000" stroke="none"/>
<rect x="996" y="704" width="1" height="7" fill="#000" stroke="none"/>
<rect x="995" y="708" width="4" height="1" fill="#000" stroke="none"/>
<rect x="995" y="706" width="5" height="1" fill="#000" stroke="none"/>
<rect x="995" y="710" width="4" height="1" fill="#000" stroke="none"/>
<rect x="1004" y="704" width="1" height="7" fill="#000" stroke="none"/>
<rect x="1002" y="703" width="1" height="7" fill="#000" stroke="none"/>
<rect x="1005" y="704" width="1" height="6" fill="#000" stroke="none"/>
<rect x="1002" y="707" width="4" height="1" fill="#000" stroke="none"/>
<rect x="1004" y="703" width="2" height="2" fill="#000" stroke="none"/>
<rect x="1008" y="705" width="1" height="5" fill="#000" stroke="none"/>
<rect x="1009" y="703" width="1" height="7" fill="#000" stroke="none"/>
<rect x="1008" y="708" width="3" height="1" fill="#000" stroke="none"/>
<rect x="1013" y="704" width="1" height="6" fill="#000" stroke="none"/>
<rect x="1016" y="703" width="1" height="8" fill="#000" stroke="none"/>
<rect x="1013" y="707" width="5" height="1" fill="#000" stroke="none"/>
<rect x="1014" y="710" width="4" height="1" fill="#000" stroke="none"/>
<rect x="1013" y="710" width="4" height="1" fill="#000" stroke="none"/>
<rect x="1016" y="703" width="2" height="3" fill="#000" stroke="none"/>
<rect x="1021" y="705" width="1" height="6" fill="#000" stroke="none"/>
<rect x="1020" y="703" width="1" height="8" fill="#000" stroke="none"/>
<rect x="1019" y="705" width="5" height="1" fill="#000" stroke="none"/>
<rect x="1020" y="704" width="3" height="1" fill="#000" stroke="none"/>
<rect x="1019" y="705" width="5" height="1" fill="#000" stroke="none"/>
<rect x="1020" y="707" width="2" height="3" fill="#000" stroke="none"/>
<rect x="1025" y="703" width="1" height="7" fill="#000" stroke="none"/>
<rect x="1025" y="705" width="1" height="5" fill="#000" stroke="none"/>
<rect x="1026" y="707" width="4" height="1" fill="#000" stroke="none"/>
<rect x="1026" y="703" width="3" height="1" fill="#000" stroke="none"/>
<rect x="1027" y="704" width="2" height="2" fill="#000" stroke="none"/>
<rect x="1031" y="703" width="1" height="7" fill="#000" stroke="none"/>
<rect x="1035" y="705" width="1" height="6" fill="#000" stroke="none"/>
<rect x="1033" y="705" width="1" height="5" fill="#000" stroke="none"/>
<rect x="1031" y="704" width="4" height="1" fill="#000" stroke="none"/>
<rect x="1032" y="706" width="3" height="1" fill="#000" stroke="none"/>
<rect x="1032" y="703" width="4" height="1" fill="#000" stroke="none"/>
<rect x="1040" y="705" width="1" height="6" fill="#000" stroke="none"/>
<rect x="1041" y="705" width="1" height="6" fill="#000" stroke="none"/>
<rect x="1037" y="703" width="1" height="8" fill="#000" stroke="none"/>
<rect x="1037" y="705" width="5" height="1" fill="#000" stroke="none"/>
<rect x="1037" y="703" width="2" height="2" fill="#000" stroke="none"/>
<rect x="1045" y="703" width="1" height="7" fill="#000" stroke="none"/>
<rect x="1047" y="703" width="1" height="7" fill="#000" stroke="none"/>
<rect x="1043" y="708" width="5" height="1" fill="#000" stroke="none"/>
<rect x="1043" y="706" width="2" height="3" fill="#000" stroke="none"/>
<rect x="1049" y="703" width="1" height="8" fill="#000" stroke="none"/>
<rect x="1052" y="703" width="1" height="8" fill="#000" stroke="none"/>
<rect x="1050" y="703" width="1" height="7" fill="#000" stroke="none"/>
<rect x="1049" y="709" width="5" height="1" fill="#000" stroke="none"/>
<rect x="1050" y="709" width="4" height="1" fill="#000" stroke="none"/>
<rect x="1049" y="709" width="4" height="1" fill="#000" stroke="none"/>
<rect x="1050" y="705" width="2" height="4" fill="#000" stroke="none"/>
<rect x="1059" y="704" width="1" height="6" fill="#000" stroke="none"/>
<rect x="1059" y="703" width="1" height="7" fill="#000" stroke="none"/>
<rect x="1059" y="703" width="1" height="7" fill="#000" stroke="none"/>
<rect x="1055" y="709" width="4" height="1" fill="#000" stroke="none"/>
<rect x="1056" y="703" width="2" height="3" fill="#000" stroke="none"/>
<rect x="1062" y="705" width="1" height="6" fill="#000" stroke="none"/>
<rect x="1062" y="703" width="1" height="7" fill="#000" stroke="none"/>
<rect x="1064" y="704" width="1" height="7" fill="#000" stroke="none"/>
<rect x="1062" y="703" width="3" height="1" fill="#000" stroke="none"/>
<rect x="1061" y="707" width="2" height="2" fill="#000" stroke="none"/>
<rect x="935" y="715" width="1" height="6" fill="#000" stroke="none"/>
<rect x="938" y="713" width="1" height="8" fill="#000" stroke="none"/>
<rect x="937" y="713" width="1" height="7" fill="#000" stroke="none"/>
<rect x="935" y="715" width="5" height="1" fill="#000" stroke="none"/>
<rect x="935" y="717" width="4" height="1" fill="#000" stroke="none"/>
<rect x="936" y="716" width="2" height="2" fill="#000" stroke="none"/>
<rect x="943" y="714" width="1" height="6" fill="#000" stroke="none"/>
<rect x="943" y="713" width="1" height="8" fill="#000" stroke="none"/>
<rect x="942" y="717" width="4" height="1" fill="#000" stroke="none"/>
<rect x="941" y="719" width="4" height="1" fill="#000" stroke="none"/>
<rect x="942" y="720" width="3" height="1" fill="#000" stroke="none"/>
<rect x="943" y="713" width="2" height="2" fill="#000" stroke="none"/>
<rect x="948" y="713" width="1" height="7" fill="#000" stroke="none"/>
<rect x="951" y="714" width="1" height="7" fill="#000" stroke="none"/>
<rect x="949" y="713" width="1" height="8" fill="#000" stroke="none"/>
<rect x="948" y="718" width="3" height="1" fill="#000" stroke="none"/>
<rect x="947" y="717" width="4" height="1" fill="#000" stroke="none"/>
<rect x="947" y="714" width="2" height="4" fill="#000" stroke="none"/>
<rect x="957" y="714" width="1" height="6" fill="#000" stroke="none"/>
<rect x="953" y="715" width="1" height="5" fill="#000" stroke="none"/>
<rect x="953" y="718" width="5" height="1" fill="#000" stroke="none"/>
<rect x="954" y="715" width="3" height="1" fill="#000" stroke="none"/>
<rect x="954" y="718" width="2" height="2" fill="#000" stroke="none"/>
<rect x="963" y="713" width="1" height="7" fill="#000" stroke="none"/>
<rect x="961" y="715" width="1" height="6" fill="#000" stroke="none"/>
<rect x="962" y="713" width="1" height="8" fill="#000" stroke="none"/>
<rect x="960" y="714" width="3" height="1" fill="#000" stroke="none"/>
<rect x="960" y="715" width="3" height="1" fill="#000" stroke="none"/>
<rect x="968" y="714" width="1" height="6" fill="#000" stroke="none"/>
<rect x="967" y="715" width="1" height="5" fill="#000" stroke="none"/>
<rect x="966" y="718" width="3" height="1" fill="#000" stroke="none"/>
<rect x="965" y="718" width="4" height="1" fill="#000" stroke="none"/>
<rect x="967" y="714" width="2" height="4" fill="#000" stroke="none"/>
<rect x="972" y="714" width="1" height="6" fill="#000" stroke="none"/>
<rect x="975" y="713" width="1" height="8" fill="#000" stroke="none"/>
<rect x="973" y="714" width="1" height="7" fill="#000" stroke="none"/>
<rect x="972" y="716" width="4" height="1" fill="#000" stroke="none"/>
<rect x="971" y="713" width="4" height="1" fill="#000" stroke="none"/>
<rect x="974" y="715" width="2" height="4" fill="#000" stroke="none"/>
<rect x="981" y="715" width="1" height="5" fill="#000" stroke="none"/>
<rect x="981" y="715" width="1" height="5" fill="#000" stroke="none"/>
<rect x="980" y="714" width="1" height="6" fill="#000" stroke="none"/>
<rect x="978" y="718" width="4" height="1" fill="#000" stroke="none"/>
<rect x="978" y="713" width="2" height="3" fill="#000" stroke="none"/>
<rect x="987" y="714" width="1" height="7" fill="#000" stroke="none"/>
<rect x="984" y="714" width="1" height="6" fill="#000" stroke="none"/>
<rect x="986" y="714" width="1" height="6" fill="#000" stroke="none"/>
<rect x="983" y="714" width="4" height="1" fill="#000" stroke="none"/>
<rect x="984" y="718" width="4" height="1" fill="#000" stroke="none"/>
<rect x="983" y="717" width="5" height="1" fill="#000" stroke="none"/>
<rect x="985" y="718" width="2" height="3" fill="#000" stroke="none"/>
<rect x="990" y="715" width="1" height="5" fill="#000" stroke="none"/>
<rect x="993" y="713" width="1" height="8" fill="#000" stroke="none"/>
<rect x="992" y="713" width="1" height="8" fill="#000" stroke="none"/>
<rect x="990" y="714" width="4" height="1" fill="#000" stroke="none"/>
<rect x="989" y="719" width="5" height="1" fill="#000" stroke="none"/>
<rect x="989" y="717" width="4" height="1" fill="#000" stroke="none"/>
<rect x="989" y="717" width="2" height="2" fill="#000" stroke="none"/>
<rect x="996" y="713" width="1" height="7" fill="#000" stroke="none"/>
<rect x="999" y="715" width="1" height="5" fill="#000" stroke="none"/>
<rect x="995" y="715" width="4" height="1" fill="#000" stroke="none"/>
<rect x="995" y="714" width="5" height="1" fill="#000" stroke="none"/>
<rect x="995" y="714" width="5" height="1" fill="#000" stroke="none"/>
<rect x="998" y="716" width="2" height="4" fill="#000" stroke="none"/>
<rect x="1001" y="715" width="1" height="6" fill="#000" stroke="none"/>
<rect x="1005" y="714" width="1" height="7" fill="#000" stroke="none"/>
<rect x="1002" y="714" width="1" height="6" fill="#000" stroke="none"/>
<rect x="1002" y="713" width="4" height="1" fill="#000" stroke="none"/>
<rect x="1009" y="713" width="1" height="7" fill="#000" stroke="none"/>
<rect x="1011" y="714" width="1" height="7" fill="#000" stroke="none"/>
<rect x="1008" y="716" width="4" height="1" fill="#000" stroke="none"/>
<rect x="1008" y="714" width="2" height="2" fill="#000" stroke="none"/>
<rect x="1014" y="715" width="1" height="6" fill="#000" stroke="none"/>
<rect x="1015" y="713" width="1" height="7" fill="#000" stroke="none"/>
<rect x="1014" y="719" width="3" height="1" fill="#000" stroke="none"/>
<rect x="1013" y="714" width="4" height="1" fill="#000" stroke="none"/>
<rect x="1014" y="716" width="2" height="3" fill="#000" stroke="none"/>
<rect x="1022" y="713" width="1" height="8" fill="#000" stroke="none"/>
<rect x="1019" y="713" width="1" height="8" fill="#000" stroke="none"/>
<rect x="1021" y="714" width="1" height="7" fill="#000" stroke="none"/>
<rect x="1020" y="717" width="3" height="1" fill="#000" stroke="none"/>
<rect x="1022" y="715" width="2" height="3" fill="#000" stroke="none"/>
<rect x="1025" y="714" width="1" height="6" fill="#000" stroke="none"/>
<rect x="1029" y="713" width="1" height="7" fill="#000" stroke="none"/>
<rect x="1026" y="720" width="3" height="1" fill="#000" stroke="none"/>
<rect x="1025" y="715" width="2" height="4" fill="#000" stroke="none"/>
<rect x="1033" y="713" width="1" height="8" fill="#000" stroke="none"/>
<rect x="1032" y="713" width="1" height="8" fill="#000" stroke="none"/>
<rect x="1032" y="715" width="3" height="1" fill="#000" stroke="none"/>
<rect x="1031" y="716" width="4" height="1" fill="#000" stroke="none"/>
<rect x="1034" y="716" width="2" height="4" fill="#000" stroke="none"/>
<rect x="1039" y="714" width="1" height="7" fill="#000" stroke="none"/>
<rect x="1038" y="714" width="1" height="7" fill="#000" stroke="none"/>
<rect x="1038" y="717" width="3" height="1" fill="#000" stroke="none"/>
<rect x="1038" y="716" width="4" height="1" fill="#000" stroke="none"/>
<rect x="1037" y="715" width="5" height="1" fill="#000" stroke="none"/>
<rect x="1039" y="718" width="2" height="3" fill="#000" stroke="none"/>
<rect x="1047" y="713" width="1" height="7" fill="#000" stroke="none"/>
<rect x="1043" y="714" width="1" height="7" fill="#000" stroke="none"/>
<rect x="1043" y="715" width="4" height="1" fill="#000" stroke="none"/>
<rect x="1043" y="716" width="5" height="1" fill="#000" stroke="none"/>
<rect x="1044" y="718" width="4" height="1" fill="#000" stroke="none"/>
<rect x="1045" y="713" width="2" height="2" fill="#000" stroke="none"/>
<rect x="1050" y="715" width="1" height="5" fill="#000" stroke="none"/>
<rect x="1051" y="714" width="1" height="6" fill="#000" stroke="none"/>
<rect x="1052" y="715" width="1" height="6" fill="#000" stroke="none"/>
<rect x="1049" y="715" width="4" height="1" fill="#000" stroke="none"/>
<rect x="1050" y="718" width="4" height="1" fill="#000" stroke="none"/>
<rect x="1052" y="714" width="2" height="3" fill="#000" stroke="none"/>
<rect x="1055" y="713" width="1" height="7" fill="#000" stroke="none"/>
<rect x="1055" y="714" width="1" height="7" fill="#000" stroke="none"/>
<rect x="1055" y="714" width="1" height="7" fill="#000" stroke="none"/>
<rect x="1056" y="715" width="4" height="1" fill="#000" stroke="none"/>
<rect x="1055" y="717" width="4" height="1" fill="#000" stroke="none"/>
<rect x="1056" y="713" width="4" height="1" fill="#000" stroke="none"/>
<rect x="1056" y="717" width="2" height="3" fill="#000" stroke="none"/>
<rect x="1064" y="715" width="1" height="5" fill="#000" stroke="none"/>
<rect x="1061" y="713" width="1" height="7" fill="#000" stroke="none"/>
<rect x="1061" y="715" width="1" height="6" fill="#000" stroke="none"/>
<rect x="1061" y="714" width="4" height="1" fill="#000" stroke="none"/>
<rect x="1063" y="718" width="2" height="2" fill="#000" stroke="none"/>
<rect x="1070" y="715" width="1" height="6" fill="#000" stroke="none"/>
<rect x="1069" y="715" width="1" height="6" fill="#000" stroke="none"/>
<rect x="1069" y="714" width="1" height="6" fill="#000" stroke="none"/>
<rect x="1067" y="720" width="5" height="1" fill="#000" stroke="none"/>
<rect x="1067" y="719" width="4" height="1" fill="#000" stroke="none"/>
<rect x="1077" y="714" width="1" height="7" fill="#000" stroke="none"/>
<rect x="1077" y="713" width="1" height="8" fill="#000" stroke="none"/>
<rect x="1073" y="717" width="5" height="1" fill="#000" stroke="none"/>
<rect x="1074" y="715" width="3" height="1" fill="#000" stroke="none"/>
<rect x="1073" y="719" width="5" height="1" fill="#000" stroke="none"/>
<rect x="1074" y="714" width="2" height="4" fill="#000" stroke="none"/>
<rect x="1082" y="713" width="1" height="8" fill="#000" stroke="none"/>
<rect x="1079" y="715" width="1" height="5" fill="#000" stroke="none"/>
<rect x="1080" y="715" width="1" height="5" fill="#000" stroke="none"/>
<rect x="1079" y="717" width="5" height="1" fill="#000" stroke="none"/>
<rect x="1080" y="716" width="4" height="1" fill="#000" stroke="none"/>
<rect x="1079" y="719" width="5" height="1" fill="#000" stroke="none"/>
<rect x="1082" y="716" width="2" height="2" fill="#000" stroke="none"/>
<rect x="1087" y="713" width="1" height="7" fill="#000" stroke="none"/>
<rect x="1088" y="713" width="1" height="8" fill="#000" stroke="none"/>
<rect x="1086" y="717" width="4" height="1" fill="#000" stroke="none"/>
<rect x="1087" y="716" width="2" height="2" fill="#000" stroke="none"/>
<rect x="1093" y="714" width="1" height="6" fill="#000" stroke="none"/>
<rect x="1095" y="714" width="1" height="6" fill="#000" stroke="none"/>
<rect x="1091" y="714" width="5" height="1" fill="#000" stroke="none"/>
<rect x="1094" y="713" width="2" height="4" fill="#000" stroke="none"/>
<rect x="1101" y="714" width="1" height="7" fill="#000" stroke="none"/>
<rect x="1100" y="714" width="1" height="6" fill="#000" stroke="none"/>
<rect x="1098" y="715" width="1" height="5" fill="#000" stroke="none"/>
<rect x="1097" y="718" width="4" height="1" fill="#000" stroke="none"/>
<rect x="1099" y="718" width="2" height="2" fill="#000" stroke="none"/>
<rect x="1104" y="715" width="1" height="6" fill="#000" stroke="none"/>
<rect x="1103" y="714" width="1" height="7" fill="#000" stroke="none"/>
<rect x="1103" y="718" width="5" height="1" fill="#000" stroke="none"/>
<rect x="1104" y="714" width="3" height="1" fill="#000" stroke="none"/>
<rect x="1105" y="715" width="2" height="2" fill="#000" stroke="none"/>
<rect x="1110" y="715" width="1" height="5" fill="#000" stroke="none"/>
<rect x="1111" y="713" width="1" height="8" fill="#000" stroke="none"/>
<rect x="1109" y="713" width="1" height="7" fill="#000" stroke="none"/>
<rect x="1110" y="716" width="3" height="1" fill="#000" stroke="none"/>
<rect x="1110" y="715" width="2" height="4" fill="#000" stroke="none"/>
<rect x="936" y="726" width="1" height="6" fill="#000" stroke="none"/>
<rect x="936" y="724" width="1" height="7" fill="#000" stroke="none"/>
<rect x="935" y="730" width="5" height="1" fill="#000" stroke="none"/>
<rect x="936" y="731" width="4" height="1" fill="#000" stroke="none"/>
<rect x="936" y="727" width="4" height="1" fill="#000" stroke="none"/>
<rect x="938" y="725" width="2" height="3" fill="#000" stroke="none"/>
<rect x="941" y="726" width="1" height="5" fill="#000" stroke="none"/>
<rect x="943" y="724" width="1" height="7" fill="#000" stroke="none"/>
<rect x="941" y="726" width="4" height="1" fill="#000" stroke="none"/>
<rect x="944" y="728" width="2" height="4" fill="#000" stroke="none"/>
<rect x="951" y="724" width="1" height="7" fill="#000" stroke="none"/>
<rect x="947" y="726" width="1" height="5" fill="#000" stroke="none"/>
<rect x="951" y="725" width="1" height="6" fill="#000" stroke="none"/>
<rect x="948" y="726" width="4" height="1" fill="#000" stroke="none"/>
<rect x="948" y="724" width="3" height="1" fill="#000" stroke="none"/>
<rect x="948" y="730" width="3" height="1" fill="#000" stroke="none"/>
<rect x="948" y="726" width="2" height="3" fill="#000" stroke="none"/>
<rect x="954" y="724" width="1" height="7" fill="#000" stroke="none"/>
<rect x="953" y="724" width="1" height="7" fill="#000" stroke="none"/>
<rect x="954" y="730" width="4" height="1" fill="#000" stroke="none"/>
<rect x="954" y="731" width="3" height="1" fill="#000" stroke="none"/>
<rect x="953" y="725" width="5" height="1" fill="#000" stroke="none"/>
<rect x="963" y="726" width="1" height="6" fill="#000" stroke="none"/>
<rect x="960" y="725" width="1" height="7" fill="#000" stroke="none"/>
<rect x="960" y="728" width="4" height="1" fill="#000" stroke="none"/>
<rect x="960" y="728" width="2" height="4" fill="#000" stroke="none"/>
<rect x="969" y="726" width="1" height="6" fill="#000" stroke="none"/>
<rect x="968" y="726" width="1" height="6" fill="#000" stroke="none"/>
<rect x="965" y="726" width="5" height="1" fill="#000" stroke="none"/>
<rect x="966" y="731" width="4" height="1" fill="#000" stroke="none"/>
<rect x="975" y="725" width="1" height="7" fill="#000" stroke="none"/>
<rect x="972" y="725" width="1" height="7" fill="#000" stroke="none"/>
<rect x="971" y="727" width="4" height="1" fill="#000" stroke="none"/>
<rect x="971" y="724" width="5" height="1" fill="#000" stroke="none"/>
<rect x="971" y="729" width="2" height="2" fill="#000" stroke="none"/>
<rect x="977" y="726" width="1" height="6" fill="#000" stroke="none"/>
<rect x="981" y="724" width="1" height="7" fill="#000" stroke="none"/>
<rect x="978" y="725" width="1" height="6" fill="#000" stroke="none"/>
<rect x="978" y="724" width="4" height="1" fill="#000" stroke="none"/>
<rect x="978" y="727" width="3" height="1" fill="#000" stroke="none"/>
<rect x="977" y="731" width="4" height="1" fill="#000" stroke="none"/>
<rect x="979" y="728" width="2" height="2" fill="#000" stroke="none"/>
<rect x="984" y="725" width="1" height="6" fill="#000" stroke="none"/>
<rect x="984" y="726" width="1" height="5" fill="#000" stroke="none"/>
<rect x="983" y="731" width="5" height="1" fill="#000" stroke="none"/>
<rect x="983" y="726" width="2" height="2" fill="#000" stroke="none"/>
<rect x="993" y="725" width="1" height="6" fill="#000" stroke="none"/>
<rect x="990" y="726" width="1" height="5" fill="#000" stroke="none"/>
<rect x="990" y="728" width="4" height="1" fill="#000" stroke="none"/>
<rect x="990" y="724" width="4" height="1" fill="#000" stroke="none"/>
<rect x="990" y="731" width="4" height="1" fill="#000" stroke="none"/>
<rect x="995" y="724" width="1" height="7" fill="#000" stroke="none"/>
<rect x="998" y="724" width="1" height="7" fill="#000" stroke="none"/>
<rect x="995" y="727" width="4" height="1" fill="#000" stroke="none"/>
<rect x="995" y="729" width="4" height="1" fill="#000" stroke="none"/>
<rect x="1002" y="724" width="1" height="7" fill="#000" stroke="none"/>
<rect x="1004" y="725" width="1" height="6" fill="#000" stroke="none"/>
<rect x="1002" y="729" width="4" height="1" fill="#000" stroke="none"/>
<rect x="1002" y="729" width="3" height="1" fill="#000" stroke="none"/>
<rect x="1002" y="727" width="2" height="4" fill="#000" stroke="none"/>
<rect x="1008" y="726" width="1" height="6" fill="#000" stroke="none"/>
<rect x="1009" y="725" width="1" height="6" fill="#000" stroke="none"/>
<rect x="1008" y="728" width="4" height="1" fill="#000" stroke="none"/>
<rect x="1017" y="724" width="1" height="8" fill="#000" stroke="none"/>
<rect x="1016" y="726" width="1" height="6" fill="#000" stroke="none"/>
<rect x="1013" y="728" width="5" height="1" fill="#000" stroke="none"/>
<rect x="1014" y="725" width="3" height="1" fill="#000" stroke="none"/>
<rect x="1014" y="726" width="2" height="4" fill="#000" stroke="none"/>
<rect x="1021" y="724" width="1" height="7" fill="#000" stroke="none"/>
<rect x="1021" y="725" width="1" height="6" fill="#000" stroke="none"/>
<rect x="1020" y="724" width="1" height="7" fill="#000" stroke="none"/>
<rect x="1019" y="726" width="5" height="1" fill="#000" stroke="none"/>
<rect x="1028" y="725" width="1" height="6" fill="#000" stroke="none"/>
<rect x="1029" y="725" width="1" height="7" fill="#000" stroke="none"/>
<rect x="1029" y="724" width="1" height="8" fill="#000" stroke="none"/>
<rect x="1026" y="728" width="3" height="1" fill="#000" stroke="none"/>
<rect x="1025" y="725" width="5" height="1" fill="#000" stroke="none"/>
<rect x="1027" y="728" width="2" height="3" fill="#000" stroke="none"/>
<rect x="1033" y="726" width="1" height="5" fill="#000" stroke="none"/>
<rect x="1031" y="725" width="1" height="6" fill="#000" stroke="none"/>
<rect x="1032" y="725" width="1" height="6" fill="#000" stroke="none"/>
<rect x="1031" y="724" width="4" height="1" fill="#000" stroke="none"/>
<rect x="1031" y="727" width="5" height="1" fill="#000" stroke="none"/>
<rect x="1032" y="724" width="3" height="1" fill="#000" stroke="none"/>
<rect x="1033" y="728" width="2" height="4" fill="#000" stroke="none"/>
<rect x="1038" y="724" width="1" height="8" fill="#000" stroke="none"/>
<rect x="1038" y="726" width="1" height="6" fill="#000" stroke="none"/>
<rect x="1038" y="725" width="4" height="1" fill="#000" stroke="none"/>
<rect x="1039" y="728" width="2" height="4" fill="#000" stroke="none"/>
<rect x="1045" y="724" width="1" height="8" fill="#000" stroke="none"/>
<rect x="1045" y="725" width="1" height="7" fill="#000" stroke="none"/>
<rect x="1044" y="731" width="3" height="1" fill="#000" stroke="none"/>
<rect x="1043" y="726" width="4" height="1" fill="#000" stroke="none"/>
<rect x="1043" y="724" width="4" height="1" fill="#000" stroke="none"/>
<rect x="1051" y="725" width="1" height="7" fill="#000" stroke="none"/>
<rect x="1049" y="725" width="1" height="6" fill="#000" stroke="none"/>
<rect x="1049" y="725" width="1" height="6" fill="#000" stroke="none"/>
<rect x="1049" y="725" width="5" height="1" fill="#000" stroke="none"/>
<rect x="1049" y="726" width="2" height="3" fill="#000" stroke="none"/>
<rect x="1057" y="726" width="1" height="6" fill="#000" stroke="none"/>
<rect x="1059" y="726" width="1" height="5" fill="#000" stroke="none"/>
<rect x="1056" y="726" width="1" height="5" fill="#000" stroke="none"/>
<rect x="1055" y="731" width="4" height="1" fill="#000" stroke="none"/>
<rect x="1056" y="731" width="3" height="1" fill="#000" stroke="none"/>
<rect x="1055" y="728" width="4" height="1" fill="#000" stroke="none"/>
<rect x="1058" y="724" width="2" height="4" fill="#000" stroke="none"/>
<rect x="1062" y="726" width="1" height="6" fill="#000" stroke="none"/>
<rect x="1064" y="724" width="1" height="8" fill="#000" stroke="none"/>
<rect x="1065" y="724" width="1" height="8" fill="#000" stroke="none"/>
<rect x="1061" y="727" width="4" height="1" fill="#000" stroke="none"/>
<rect x="1068" y="724" width="1" height="8" fill="#000" stroke="none"/>
<rect x="1071" y="724" width="1" height="7" fill="#000" stroke="none"/>
<rect x="1068" y="725" width="1" height="6" fill="#000" stroke="none"/>
<rect x="1068" y="729" width="3" height="1" fill="#000" stroke="none"/>
<rect x="1067" y="724" width="2" height="4" fill="#000" stroke="none"/>
<rect x="1073" y="726" width="1" height="5" fill="#000" stroke="none"/>
<rect x="1075" y="724" width="1" height="8" fill="#000" stroke="none"/>
<rect x="1074" y="730" width="3" height="1" fill="#000" stroke="none"/>
<rect x="1073" y="727" width="4" height="1" fill="#000" stroke="none"/>
<rect x="1074" y="724" width="3" height="1" fill="#000" stroke="none"/>
<rect x="1075" y="725" width="2" height="3" fill="#000" stroke="none"/>
<rect x="1081" y="725" width="1" height="6" fill="#000" stroke="none"/>
<rect x="1080" y="726" width="1" height="6" fill="#000" stroke="none"/>
<rect x="1082" y="725" width="1" height="7" fill="#000" stroke="none"/>
<rect x="1079" y="728" width="4" height="1" fill="#000" stroke="none"/>
<rect x="1080" y="724" width="4" height="1" fill="#000" stroke="none"/>
<rect x="1082" y="725" width="2" height="4" fill="#000" stroke="none"/>
<rect x="1086" y="726" width="1" height="5" fill="#000" stroke="none"/>
<rect x="1085" y="725" width="1" height="7" fill="#000" stroke="none"/>
<rect x="1086" y="726" width="4" height="1" fill="#000" stroke="none"/>
<rect x="1085" y="725" width="5" height="1" fill="#000" stroke="none"/>
<rect x="1087" y="725" width="2" height="4" fill="#000" stroke="none"/>
<rect x="1091" y="724" width="1" height="7" fill="#000" stroke="none"/>
<rect x="1094" y="724" width="1" height="7" fill="#000" stroke="none"/>
<rect x="1093" y="726" width="1" height="5" fill="#000" stroke="none"/>
<rect x="1091" y="724" width="5" height="1" fill="#000" stroke="none"/>
<rect x="1091" y="724" width="5" height="1" fill="#000" stroke="none"/>
<rect x="1092" y="728" width="2" height="3" fill="#000" stroke="none"/>
<rect x="1097" y="724" width="1" height="7" fill="#000" stroke="none"/>
<rect x="1097" y="724" width="1" height="8" fill="#000" stroke="none"/>
<rect x="1098" y="726" width="4" height="1" fill="#000" stroke="none"/>
<rect x="1097" y="726" width="5" height="1" fill="#000" stroke="none"/>
<rect x="1097" y="728" width="2" height="3" fill="#000" stroke="none"/>
<rect x="1103" y="725" width="1" height="7" fill="#000" stroke="none"/>
<rect x="1104" y="726" width="1" height="6" fill="#000" stroke="none"/>
<rect x="1105" y="726" width="1" height="6" fill="#000" stroke="none"/>
<rect x="1104" y="728" width="4" height="1" fill="#000" stroke="none"/>
<rect x="1113" y="724" width="1" height="7" fill="#000" stroke="none"/>
<rect x="1113" y="725" width="1" height="6" fill="#000" stroke="none"/>
<rect x="1109" y="729" width="4" height="1" fill="#000" stroke="none"/>
<rect x="1111" y="729" width="2" height="3" fill="#000" stroke="none"/>
<rect x="938" y="736" width="1" height="6" fill="#000" stroke="none"/>
<rect x="939" y="736" width="1" height="6" fill="#000" stroke="none"/>
<rect x="936" y="736" width="1" height="6" fill="#000" stroke="none"/>
<rect x="935" y="737" width="5" height="1" fill="#000" stroke="none"/>
<rect x="936" y="739" width="4" height="1" fill="#000" stroke="none"/>
<rect x="941" y="737" width="1" height="6" fill="#000" stroke="none"/>
<rect x="941" y="736" width="1" height="6" fill="#000" stroke="none"/>
<rect x="942" y="742" width="3" height="1" fill="#000" stroke="none"/>
<rect x="942" y="735" width="3" height="1" fill="#000" stroke="none"/>
<rect x="942" y="740" width="4" height="1" fill="#000" stroke="none"/>
<rect x="949" y="737" width="1" height="6" fill="#000" stroke="none"/>
<rect x="950" y="737" width="1" height="5" fill="#000" stroke="none"/>
<rect x="951" y="737" width="1" height="5" fill="#000" stroke="none"/>
<rect x="948" y="738" width="3" height="1" fill="#000" stroke="none"/>
<rect x="937" y="748" width="1" height="5" fill="#000" stroke="none"/>
<rect x="939" y="746" width="1" height="8" fill="#000" stroke="none"/>
<rect x="935" y="748" width="1" height="5" fill="#000" stroke="none"/>
<rect x="935" y="749" width="4" height="1" fill="#000" stroke="none"/>
<rect x="935" y="749" width="5" height="1" fill="#000" stroke="none"/>
<rect x="935" y="753" width="5" height="1" fill="#000" stroke="none"/>
<rect x="937" y="749" width="2" height="2" fill="#000" stroke="none"/>
<rect x="942" y="748" width="1" height="5" fill="#000" stroke="none"/>
<rect x="944" y="746" width="1" height="7" fill="#000" stroke="none"/>
<rect x="943" y="748" width="1" height="5" fill="#000" stroke="none"/>
<rect x="942" y="747" width="3" height="1" fill="#000" stroke="none"/>
<rect x="942" y="750" width="4" height="1" fill="#000" stroke="none"/>
<rect x="944" y="751" width="2" height="2" fill="#000" stroke="none"/>
<rect x="947" y="748" width="1" height="6" fill="#000" stroke="none"/>
<rect x="949" y="747" width="1" height="7" fill="#000" stroke="none"/>
<rect x="948" y="751" width="3" height="1" fill="#000" stroke="none"/>
<rect x="947" y="750" width="5" height="1" fill="#000" stroke="none"/>
<rect x="948" y="746" width="4" height="1" fill="#000" stroke="none"/>
<rect x="949" y="751" width="2" height="4" fill="#000" stroke="none"/>
<rect x="955" y="747" width="1" height="7" fill="#000" stroke="none"/>
<rect x="955" y="747" width="1" height="7" fill="#000" stroke="none"/>
<rect x="957" y="748" width="1" height="5" fill="#000" stroke="none"/>
<rect x="953" y="749" width="4" height="1" fill="#000" stroke="none"/>
<rect x="963" y="747" width="1" height="7" fill="#000" stroke="none"/>
<rect x="962" y="747" width="1" height="6" fill="#000" stroke="none"/>
<rect x="959" y="748" width="1" height="5" fill="#000" stroke="none"/>
<rect x="960" y="752" width="3" height="1" fill="#000" stroke="none"/>
<rect x="960" y="749" width="4" height="1" fill="#000" stroke="none"/>
<rect x="969" y="747" width="1" height="7" fill="#000" stroke="none"/>
<rect x="966" y="747" width="1" height="7" fill="#000" stroke="none"/>
<rect x="966" y="753" width="3" height="1" fill="#000" stroke="none"/>
<rect x="968" y="751" width="2" height="2" fill="#000" stroke="none"/>
<rect x="975" y="748" width="1" height="5" fill="#000" stroke="none"/>
<rect x="974" y="748" width="1" height="5" fill="#000" stroke="none"/>
<rect x="971" y="753" width="5" height="1" fill="#000" stroke="none"/>
<rect x="972" y="753" width="3" height="1" fill="#000" stroke="none"/>
<rect x="971" y="751" width="2" height="2" fill="#000" stroke="none"/>
<rect x="980" y="748" width="1" height="6" fill="#000" stroke="none"/>
<rect x="979" y="748" width="1" height="5" fill="#000" stroke="none"/>
<rect x="977" y="753" width="5" height="1" fill="#000" stroke="none"/>
<rect x="977" y="749" width="5" height="1" fill="#000" stroke="none"/>
<rect x="977" y="747" width="2" height="4" fill="#000" stroke="none"/>
<rect x="983" y="748" width="1" height="6" fill="#000" stroke="none"/>
<rect x="985" y="747" width="1" height="7" fill="#000" stroke="none"/>
<rect x="987" y="748" width="1" height="5" fill="#000" stroke="none"/>
<rect x="984" y="748" width="4" height="1" fill="#000" stroke="none"/>
<rect x="984" y="748" width="3" height="1" fill="#000" stroke="none"/>
<rect x="983" y="749" width="5" height="1" fill="#000" stroke="none"/>
<rect x="993" y="747" width="1" height="7" fill="#000" stroke="none"/>
<rect x="991" y="747" width="1" height="6" fill="#000" stroke="none"/>
<rect x="991" y="748" width="1" height="5" fill="#000" stroke="none"/>
<rect x="989" y="752" width="4" height="1" fill="#000" stroke="none"/>
<rect x="989" y="750" width="4" height="1" fill="#000" stroke="none"/>
<rect x="990" y="752" width="3" height="1" fill="#000" stroke="none"/>
<rect x="989" y="747" width="2" height="4" fill="#000" stroke="none"/>
<rect x="998" y="748" width="1" height="5" fill="#000" stroke="none"/>
<rect x="999" y="746" width="1" height="7" fill="#000" stroke="none"/>
<rect x="997" y="746" width="1" height="7" fill="#000" stroke="none"/>
<rect x="996" y="746" width="4" height="1" fill="#000" stroke="none"/>
<rect x="996" y="747" width="3" height="1" fill="#000" stroke="none"/>
<rect x="996" y="746" width="4" height="1" fill="#000" stroke="none"/>
<rect x="1002" y="748" width="1" height="6" fill="#000" stroke="none"/>
<rect x="1005" y="748" width="1" height="5" fill="#000" stroke="none"/>
<rect x="1004" y="748" width="1" height="5" fill="#000" stroke="none"/>
<rect x="1001" y="749" width="5" height="1" fill="#000" stroke="none"/>
<rect x="1001" y="746" width="2" height="2" fill="#000" stroke="none"/>
<rect x="1011" y="747" width="1" height="7" fill="#000" stroke="none"/>
<rect x="1007" y="748" width="1" height="6" fill="#000" stroke="none"/>
<rect x="1008" y="749" width="4" height="1" fill="#000" stroke="none"/>
<rect x="1007" y="748" width="5" height="1" fill="#000" stroke="none"/>
<rect x="1010" y="746" width="2" height="2" fill="#000" stroke="none"/>
<rect x="1013" y="747" width="1" height="7" fill="#000" stroke="none"/>
<rect x="1015" y="748" width="1" height="5" fill="#000" stroke="none"/>
<rect x="1013" y="752" width="5" height="1" fill="#000" stroke="none"/>
<rect x="1013" y="748" width="5" height="1" fill="#000" stroke="none"/>
<rect x="1014" y="753" width="4" height="1" fill="#000" stroke="none"/>
<rect x="1023" y="748" width="1" height="6" fill="#000" stroke="none"/>
<rect x="1021" y="747" width="1" height="6" fill="#000" stroke="none"/>
<rect x="1023" y="746" width="1" height="8" fill="#000" stroke="none"/>
<rect x="1020" y="749" width="4" height="1" fill="#000" stroke="none"/>
<rect x="1020" y="751" width="4" height="1" fill="#000" stroke="none"/>
<rect x="1019" y="750" width="5" height="1" fill="#000" stroke="none"/>
<rect x="1020" y="751" width="2" height="2" fill="#000" stroke="none"/>
<rect x="1027" y="748" width="1" height="5" fill="#000" stroke="none"/>
<rect x="1025" y="746" width="1" height="7" fill="#000" stroke="none"/>
<rect x="1025" y="748" width="1" height="6" fill="#000" stroke="none"/>
<rect x="1026" y="747" width="3" height="1" fill="#000" stroke="none"/>
<rect x="1025" y="751" width="4" height="1" fill="#000" stroke="none"/>
<rect x="1025" y="747" width="4" height="1" fill="#000" stroke="none"/>
<rect x="1027" y="750" width="2" height="4" fill="#000" stroke="none"/>
<rect x="936" y="757" width="1" height="7" fill="#000" stroke="none"/>
<rect x="937" y="757" width="1" height="7" fill="#000" stroke="none"/>
<rect x="935" y="758" width="4" height="1" fill="#000" stroke="none"/>
<rect x="936" y="762" width="2" height="3" fill="#000" stroke="none"/>
<rect x="942" y="758" width="1" height="6" fill="#000" stroke="none"/>
<rect x="944" y="758" width="1" height="7" fill="#000" stroke="none"/>
<rect x="941" y="762" width="5" height="1" fill="#000" stroke="none"/>
<rect x="941" y="761" width="4" height="1" fill="#000" stroke="none"/>
<rect x="941" y="758" width="2" height="4" fill="#000" stroke="none"/>
<rect x="950" y="757" width="1" height="8" fill="#000" stroke="none"/>
<rect x="947" y="759" width="1" height="6" fill="#000" stroke="none"/>
<rect x="950" y="759" width="1" height="6" fill="#000" stroke="none"/>
<rect x="947" y="762" width="4" height="1" fill="#000" stroke="none"/>
<rect x="948" y="759" width="4" height="1" fill="#000" stroke="none"/>
<rect x="947" y="759" width="2" height="2" fill="#000" stroke="none"/>
<rect x="955" y="757" width="1" height="7" fill="#000" stroke="none"/>
<rect x="953" y="757" width="1" height="8" fill="#000" stroke="none"/>
<rect x="953" y="757" width="1" height="7" fill="#000" stroke="none"/>
<rect x="954" y="758" width="3" height="1" fill="#000" stroke="none"/>
<rect x="953" y="760" width="5" height="1" fill="#000" stroke="none"/>
<rect x="955" y="758" width="2" height="3" fill="#000" stroke="none"/>
<rect x="963" y="757" width="1" height="8" fill="#000" stroke="none"/>
<rect x="960" y="759" width="1" height="6" fill="#000" stroke="none"/>
<rect x="959" y="757" width="1" height="8" fill="#000" stroke="none"/>
<rect x="959" y="764" width="5" height="1" fill="#000" stroke="none"/>
<rect x="960" y="758" width="2" height="3" fill="#000" stroke="none"/>
<rect x="968" y="758" width="1" height="7" fill="#000" stroke="none"/>
<rect x="967" y="759" width="1" height="6" fill="#000" stroke="none"/>
<rect x="965" y="760" width="5" height="1" fill="#000" stroke="none"/>
<rect x="965" y="758" width="2" height="2" fill="#000" stroke="none"/>
<rect x="971" y="757" width="1" height="8" fill="#000" stroke="none"/>
<rect x="975" y="759" width="1" height="6" fill="#000" stroke="none"/>
<rect x="973" y="758" width="1" height="7" fill="#000" stroke="none"/>
<rect x="971" y="759" width="4" height="1" fill="#000" stroke="none"/>
<rect x="972" y="763" width="4" height="1" fill="#000" stroke="none"/>
<rect x="972" y="758" width="2" height="4" fill="#000" stroke="none"/>
<rect x="978" y="758" width="1" height="7" fill="#000" stroke="none"/>
<rect x="978" y="757" width="1" height="8" fill="#000" stroke="none"/>
<rect x="977" y="762" width="5" height="1" fill="#000" stroke="none"/>
<rect x="977" y="764" width="4" height="1" fill="#000" stroke="none"/>
<rect x="977" y="762" width="5" height="1" fill="#000" stroke="none"/>
<rect x="977" y="759" width="2" height="3" fill="#000" stroke="none"/>
<rect x="985" y="759" width="1" height="6" fill="#000" stroke="none"/>
<rect x="986" y="759" width="1" height="5" fill="#000" stroke="none"/>
<rect x="984" y="761" width="4" height="1" fill="#000" stroke="none"/>
<rect x="984" y="760" width="2" height="3" fill="#000" stroke="none"/>
<rect x="993" y="759" width="1" height="6" fill="#000" stroke="none"/>
<rect x="989" y="758" width="1" height="7" fill="#000" stroke="none"/>
<rect x="990" y="757" width="1" height="7" fill="#000" stroke="none"/>
<rect x="990" y="760" width="4" height="1" fill="#000" stroke="none"/>
<rect x="990" y="763" width="3" height="1" fill="#000" stroke="none"/>
<rect x="990" y="763" width="4" height="1" fill="#000" stroke="none"/>
<rect x="991" y="762" width="2" height="4" fill="#000" stroke="none"/>
<rect x="997" y="757" width="1" height="7" fill="#000" stroke="none"/>
<rect x="998" y="759" width="1" height="6" fill="#000" stroke="none"/>
<rect x="995" y="758" width="1" height="6" fill="#000" stroke="none"/>
<rect x="996" y="761" width="4" height="1" fill="#000" stroke="none"/>
<rect x="995" y="762" width="5" height="1" fill="#000" stroke="none"/>
<rect x="998" y="761" width="2" height="2" fill="#000" stroke="none"/>
<rect x="1003" y="757" width="1" height="7" fill="#000" stroke="none"/>
<rect x="1002" y="759" width="1" height="5" fill="#000" stroke="none"/>
<rect x="1004" y="759" width="1" height="6" fill="#000" stroke="none"/>
<rect x="1001" y="760" width="4" height="1" fill="#000" stroke="none"/>
<rect x="1010" y="758" width="1" height="6" fill="#000" stroke="none"/>
<rect x="1008" y="758" width="1" height="7" fill="#000" stroke="none"/>
<rect x="1008" y="762" width="3" height="1" fill="#000" stroke="none"/>
<rect x="1008" y="758" width="2" height="3" fill="#000" stroke="none"/>
<rect x="1013" y="757" width="1" height="8" fill="#000" stroke="none"/>
<rect x="1014" y="758" width="1" height="6" fill="#000" stroke="none"/>
<rect x="1013" y="762" width="4" height="1" fill="#000" stroke="none"/>
<rect x="1014" y="759" width="3" height="1" fill="#000" stroke="none"/>
<rect x="1014" y="758" width="3" height="1" fill="#000" stroke="none"/>
<rect x="1015" y="759" width="2" height="3" fill="#000" stroke="none"/>
<rect x="1023" y="759" width="1" height="6" fill="#000" stroke="none"/>
<rect x="1022" y="758" width="1" height="6" fill="#000" stroke="none"/>
<rect x="1019" y="757" width="1" height="8" fill="#000" stroke="none"/>
<rect x="1020" y="763" width="3" height="1" fill="#000" stroke="none"/>
<rect x="1020" y="759" width="4" height="1" fill="#000" stroke="none"/>
<rect x="1020" y="762" width="4" height="1" fill="#000" stroke="none"/>
<rect x="1021" y="758" width="2" height="2" fill="#000" stroke="none"/>
<rect x="1028" y="757" width="1" height="7" fill="#000" stroke="none"/>
<rect x="1026" y="758" width="1" height="7" fill="#000" stroke="none"/>
<rect x="1025" y="763" width="4" height="1" fill="#000" stroke="none"/>
<rect x="1026" y="764" width="3" height="1" fill="#000" stroke="none"/>
<rect x="1028" y="757" width="2" height="4" fill="#000" stroke="none"/>
<rect x="1032" y="757" width="1" height="8" fill="#000" stroke="none"/>
<rect x="1032" y="758" width="1" height="7" fill="#000" stroke="none"/>
<rect x="1033" y="757" width="1" height="7" fill="#000" stroke="none"/>
<rect x="1031" y="762" width="4" height="1" fill="#000" stroke="none"/>
<rect x="1032" y="761" width="4" height="1" fill="#000" stroke="none"/>
<rect x="1034" y="760" width="2" height="2" fill="#000" stroke="none"/>
<rect x="937" y="769" width="1" height="6" fill="#000" stroke="none"/>
<rect x="938" y="769" width="1" height="6" fill="#000" stroke="none"/>
<rect x="935" y="768" width="1" height="7" fill="#000" stroke="none"/>
<rect x="935" y="774" width="4" height="1" fill="#000" stroke="none"/>
<rect x="935" y="768" width="4" height="1" fill="#000" stroke="none"/>
<rect x="936" y="775" width="4" height="1" fill="#000" stroke="none"/>
<rect x="937" y="773" width="2" height="3" fill="#000" stroke="none"/>
<rect x="941" y="769" width="1" height="6" fill="#000" stroke="none"/>
<rect x="941" y="768" width="1" height="7" fill="#000" stroke="none"/>
<rect x="943" y="770" width="1" height="5" fill="#000" stroke="none"/>
<rect x="941" y="771" width="5" height="1" fill="#000" stroke="none"/>
<rect x="941" y="774" width="4" height="1" fill="#000" stroke="none"/>
<rect x="942" y="773" width="2" height="4" fill="#000" stroke="none"/>
<rect x="950" y="769" width="1" height="6" fill="#000" stroke="none"/>
<rect x="950" y="769" width="1" height="6" fill="#000" stroke="none"/>
<rect x="947" y="773" width="5" height="1" fill="#000" stroke="none"/>
<rect x="948" y="774" width="4" height="1" fill="#000" stroke="none"/>
<rect x="947" y="771" width="2" height="2" fill="#000" stroke="none"/>
<rect x="957" y="770" width="1" height="6" fill="#000" stroke="none"/>
<rect x="957" y="769" width="1" height="6" fill="#000" stroke="none"/>
<rect x="953" y="772" width="5" height="1" fill="#000" stroke="none"/>
<rect x="954" y="772" width="2" height="2" fill="#000" stroke="none"/>
<rect x="959" y="770" width="1" height="5" fill="#000" stroke="none"/>
<rect x="961" y="768" width="1" height="7" fill="#000" stroke="none"/>
<rect x="963" y="769" width="1" height="7" fill="#000" stroke="none"/>
<rect x="959" y="772" width="5" height="1" fill="#000" stroke="none"/>
<rect x="959" y="772" width="4" height="1" fill="#000" stroke="none"/>
<rect x="960" y="769" width="4" height="1" fill="#000" stroke="none"/>
<rect x="959" y="768" width="2" height="3" fill="#000" stroke="none"/>
<rect x="965" y="769" width="1" height="7" fill="#000" stroke="none"/>
<rect x="968" y="769" width="1" height="7" fill="#000" stroke="none"/>
<rect x="965" y="768" width="4" height="1" fill="#000" stroke="none"/>
<rect x="966" y="769" width="4" height="1" fill="#000" stroke="none"/>
<rect x="967" y="770" width="2" height="4" fill="#000" stroke="none"/>
<rect x="972" y="770" width="1" height="6" fill="#000" stroke="none"/>
<rect x="973" y="770" width="1" height="6" fill="#000" stroke="none"/>
<rect x="971" y="770" width="4" height="1" fill="#000" stroke="none"/>
<rect x="971" y="773" width="2" height="3" fill="#000" stroke="none"/>
<rect x="981" y="768" width="1" height="7" fill="#000" stroke="none"/>
<rect x="980" y="770" width="1" height="5" fill="#000" stroke="none"/>
<rect x="978" y="768" width="3" height="1" fill="#000" stroke="none"/>
<rect x="979" y="768" width="2" height="4" fill="#000" stroke="none"/>
<rect x="987" y="768" width="1" height="7" fill="#000" stroke="none"/>
<rect x="986" y="770" width="1" height="5" fill="#000" stroke="none"/>
<rect x="984" y="769" width="1" height="7" fill="#000" stroke="none"/>
<rect x="983" y="774" width="4" height="1" fill="#000" stroke="none"/>
<rect x="993" y="768" width="1" height="7" fill="#000" stroke="none"/>
<rect x="990" y="770" width="1" height="6" fill="#000" stroke="none"/>
<rect x="990" y="771" width="4" height="1" fill="#000" stroke="none"/>
<rect x="989" y="768" width="4" height="1" fill="#000" stroke="none"/>
<rect x="989" y="773" width="2" height="4" fill="#000" stroke="none"/>
<rect x="999" y="769" width="1" height="7" fill="#000" stroke="none"/>
<rect x="999" y="770" width="1" height="5" fill="#000" stroke="none"/>
<rect x="997" y="769" width="1" height="7" fill="#000" stroke="none"/>
<rect x="996" y="770" width="3" height="1" fill="#000" stroke="none"/>
<rect x="1001" y="769" width="1" height="7" fill="#000" stroke="none"/>
<rect x="1002" y="769" width="1" height="6" fill="#000" stroke="none"/>
<rect x="1004" y="768" width="1" height="7" fill="#000" stroke="none"/>
<rect x="1001" y="775" width="5" height="1" fill="#000" stroke="none"/>
<rect x="1002" y="772" width="4" height="1" fill="#000" stroke="none"/>
<rect x="1001" y="769" width="2" height="4" fill="#000" stroke="none"/>
<rect x="1011" y="769" width="1" height="6" fill="#000" stroke="none"/>
<rect x="1008" y="769" width="1" height="7" fill="#000" stroke="none"/>
<rect x="1008" y="768" width="1" height="8" fill="#000" stroke="none"/>
<rect x="1007" y="774" width="5" height="1" fill="#000" stroke="none"/>
<rect x="1016" y="768" width="1" height="8" fill="#000" stroke="none"/>
<rect x="1017" y="770" width="1" height="6" fill="#000" stroke="none"/>
<rect x="1014" y="773" width="3" height="1" fill="#000" stroke="none"/>
<rect x="1013" y="771" width="5" height="1" fill="#000" stroke="none"/>
<rect x="1015" y="771" width="2" height="2" fill="#000" stroke="none"/>
<rect x="1023" y="768" width="1" height="8" fill="#000" stroke="none"/>
<rect x="1022" y="769" width="1" height="6" fill="#000" stroke="none"/>
<rect x="1020" y="768" width="4" height="1" fill="#000" stroke="none"/>
<rect x="1020" y="773" width="2" height="4" fill="#000" stroke="none"/>
<rect x="1028" y="770" width="1" height="6" fill="#000" stroke="none"/>
<rect x="1025" y="769" width="1" height="6" fill="#000" stroke="none"/>
<rect x="1025" y="770" width="1" height="6" fill="#000" stroke="none"/>
<rect x="1026" y="768" width="4" height="1" fill="#000" stroke="none"/>
<rect x="1025" y="769" width="2" height="2" fill="#000" stroke="none"/>
<rect x="1031" y="768" width="1" height="7" fill="#000" stroke="none"/>
<rect x="1031" y="769" width="1" height="7" fill="#000" stroke="none"/>
<rect x="1032" y="768" width="3" height="1" fill="#000" stroke="none"/>
<rect x="1034" y="768" width="2" height="3" fill="#000" stroke="none"/>
<rect x="1037" y="768" width="1" height="8" fill="#000" stroke="none"/>
<rect x="1041" y="768" width="1" height="7" fill="#000" stroke="none"/>
<rect x="1037" y="774" width="5" height="1" fill="#000" stroke="none"/>
<rect x="1047" y="770" width="1" height="6" fill="#000" stroke="none"/>
<rect x="1043" y="770" width="1" height="5" fill="#000" stroke="none"/>
<rect x="1043" y="774" width="5" height="1" fill="#000" stroke="none"/>
<rect x="1043" y="768" width="4" height="1" fill="#000" stroke="none"/>
<rect x="1044" y="773" width="2" height="3" fill="#000" stroke="none"/>
<rect x="1053" y="768" width="1" height="7" fill="#000" stroke="none"/>
<rect x="1049" y="768" width="1" height="8" fill="#000" stroke="none"/>
<rect x="1050" y="769" width="3" height="1" fill="#000" stroke="none"/>
<rect x="1051" y="769" width="2" height="3" fill="#000" stroke="none"/>
<rect x="1056" y="768" width="1" height="8" fill="#000" stroke="none"/>
<rect x="1055" y="768" width="1" height="8" fill="#000" stroke="none"/>
<rect x="1059" y="768" width="1" height="7" fill="#000" stroke="none"/>
<rect x="1055" y="774" width="5" height="1" fill="#000" stroke="none"/>
<rect x="1055" y="768" width="5" height="1" fill="#000" stroke="none"/>
<rect x="1056" y="771" width="2" height="2" fill="#000" stroke="none"/>
<rect x="1065" y="769" width="1" height="6" fill="#000" stroke="none"/>
<rect x="1063" y="770" width="1" height="6" fill="#000" stroke="none"/>
<rect x="1062" y="772" width="4" height="1" fill="#000" stroke="none"/>
<rect x="1062" y="773" width="4" height="1" fill="#000" stroke="none"/>
<rect x="1062" y="773" width="2" height="4" fill="#000" stroke="none"/>
<rect x="1071" y="769" width="1" height="6" fill="#000" stroke="none"/>
<rect x="1068" y="768" width="1" height="7" fill="#000" stroke="none"/>
<rect x="1071" y="768" width="1" height="7" fill="#000" stroke="none"/>
<rect x="1068" y="773" width="4" height="1" fill="#000" stroke="none"/>
<rect x="1075" y="768" width="1" height="8" fill="#000" stroke="none"/>
<rect x="1073" y="768" width="1" height="7" fill="#000" stroke="none"/>
<rect x="1074" y="773" width="4" height="1" fill="#000" stroke="none"/>
<rect x="1074" y="769" width="4" height="1" fill="#000" stroke="none"/>
<rect x="1073" y="773" width="2" height="4" fill="#000" stroke="none"/>
<rect x="1082" y="770" width="1" height="6" fill="#000" stroke="none"/>
<rect x="1080" y="768" width="1" height="7" fill="#000" stroke="none"/>
<rect x="1080" y="772" width="4" height="1" fill="#000" stroke="none"/>
<rect x="1089" y="769" width="1" height="7" fill="#000" stroke="none"/>
<rect x="1087" y="769" width="1" height="7" fill="#000" stroke="none"/>
<rect x="1085" y="772" width="5" height="1" fill="#000" stroke="none"/>
<rect x="1086" y="771" width="4" height="1" fill="#000" stroke="none"/>
<rect x="1085" y="773" width="2" height="3" fill="#000" stroke="none"/>
<rect x="1091" y="768" width="1" height="8" fill="#000" stroke="none"/>
<rect x="1095" y="768" width="1" height="8" fill="#000" stroke="none"/>
<rect x="1093" y="768" width="1" height="8" fill="#000" stroke="none"/>
<rect x="1092" y="769" width="3" height="1" fill="#000" stroke="none"/>
<rect x="1091" y="775" width="5" height="1" fill="#000" stroke="none"/>
<rect x="1092" y="772" width="3" height="1" fill="#000" stroke="none"/>
<rect x="1092" y="771" width="2" height="4" fill="#000" stroke="none"/>
<rect x="1100" y="769" width="1" height="6" fill="#000" stroke="none"/>
<rect x="1098" y="768" width="1" height="7" fill="#000" stroke="none"/>
<rect x="1097" y="769" width="4" height="1" fill="#000" stroke="none"/>
<rect x="1099" y="772" width="2" height="2" fill="#000" stroke="none"/>
<rect x="1103" y="768" width="1" height="8" fill="#000" stroke="none"/>
<rect x="1107" y="769" width="1" height="6" fill="#000" stroke="none"/>
<rect x="1103" y="768" width="4" height="1" fill="#000" stroke="none"/>
<rect x="1103" y="771" width="2" height="3" fill="#000" stroke="none"/>
<rect x="1113" y="770" width="1" height="6" fill="#000" stroke="none"/>
<rect x="1109" y="768" width="1" height="7" fill="#000" stroke="none"/>
<rect x="1109" y="772" width="4" height="1" fill="#000" stroke="none"/>
<rect x="1110" y="769" width="2" height="3" fill="#000" stroke="none"/>
<rect x="937" y="780" width="1" height="7" fill="#000" stroke="none"/>
<rect x="939" y="781" width="1" height="6" fill="#000" stroke="none"/>
<rect x="936" y="779" width="1" height="7" fill="#000" stroke="none"/>
<rect x="935" y="779" width="5" height="1" fill="#000" stroke="none"/>
<rect x="936" y="782" width="3" height="1" fill="#000" stroke="none"/>
<rect x="938" y="781" width="2" height="2" fill="#000" stroke="none"/>
<rect x="941" y="781" width="1" height="5" fill="#000" stroke="none"/>
<rect x="943" y="779" width="1" height="7" fill="#000" stroke="none"/>
<rect x="942" y="786" width="3" height="1" fill="#000" stroke="none"/>
<rect x="944" y="783" width="2" height="4" fill="#000" stroke="none"/>
<rect x="947" y="780" width="1" height="7" fill="#000" stroke="none"/>
<rect x="950" y="780" width="1" height="7" fill="#000" stroke="none"/>
<rect x="948" y="780" width="1" height="6" fill="#000" stroke="none"/>
<rect x="947" y="780" width="5" height="1" fill="#000" stroke="none"/>
<rect x="950" y="782" width="2" height="2" fill="#000" stroke="none"/>
<rect x="957" y="779" width="1" height="8" fill="#000" stroke="none"/>
<rect x="957" y="779" width="1" height="7" fill="#000" stroke="none"/>
<rect x="954" y="781" width="1" height="5" fill="#000" stroke="none"/>
<rect x="954" y="779" width="4" height="1" fill="#000" stroke="none"/>
<rect x="954" y="783" width="2" height="3" fill="#000" stroke="none"/>
<rect x="959" y="779" width="1" height="7" fill="#000" stroke="none"/>
<rect x="961" y="780" width="1" height="6" fill="#000" stroke="none"/>
<rect x="959" y="781" width="4" height="1" fill="#000" stroke="none"/>
<rect x="959" y="784" width="5" height="1" fill="#000" stroke="none"/>
<rect x="960" y="783" width="4" height="1" fill="#000" stroke="none"/>
<rect x="962" y="782" width="2" height="3" fill="#000" stroke="none"/>
<rect x="969" y="779" width="1" height="8" fill="#000" stroke="none"/>
<rect x="968" y="781" width="1" height="6" fill="#000" stroke="none"/>
<rect x="966" y="782" width="4" height="1" fill="#000" stroke="none"/>
<rect x="965" y="784" width="4" height="1" fill="#000" stroke="none"/>
<rect x="965" y="784" width="4" height="1" fill="#000" stroke="none"/>
<rect x="966" y="784" width="2" height="2" fill="#000" stroke="none"/>
<rect x="975" y="780" width="1" height="7" fill="#000" stroke="none"/>
<rect x="974" y="779" width="1" height="8" fill="#000" stroke="none"/>
<rect x="971" y="786" width="5" height="1" fill="#000" stroke="none"/>
<rect x="972" y="783" width="4" height="1" fill="#000" stroke="none"/>
<rect x="977" y="781" width="1" height="6" fill="#000" stroke="none"/>
<rect x="977" y="780" width="1" height="6" fill="#000" stroke="none"/>
<rect x="978" y="779" width="1" height="7" fill="#000" stroke="none"/>
<rect x="977" y="786" width="5" height="1" fill="#000" stroke="none"/>
<rect x="978" y="782" width="4" height="1" fill="#000" stroke="none"/>
<rect x="980" y="781" width="2" height="2" fill="#000" stroke="none"/>
<rect x="983" y="780" width="1" height="7" fill="#000" stroke="none"/>
<rect x="985" y="780" width="1" height="7" fill="#000" stroke="none"/>
<rect x="987" y="780" width="1" height="7" fill="#000" stroke="none"/>
<rect x="983" y="779" width="4" height="1" fill="#000" stroke="none"/>
<rect x="986" y="783" width="2" height="4" fill="#000" stroke="none"/>
<rect x="990" y="780" width="1" height="7" fill="#000" stroke="none"/>
<rect x="993" y="779" width="1" height="7" fill="#000" stroke="none"/>
<rect x="992" y="779" width="1" height="8" fill="#000" stroke="none"/>
<rect x="990" y="781" width="4" height="1" fill="#000" stroke="none"/>
<rect x="989" y="781" width="4" height="1" fill="#000" stroke="none"/>
<rect x="989" y="781" width="4" height="1" fill="#000" stroke="none"/>
<rect x="999" y="781" width="1" height="6" fill="#000" stroke="none"/>
<rect x="996" y="781" width="1" height="5" fill="#000" stroke="none"/>
<rect x="998" y="779" width="1" height="8" fill="#000" stroke="none"/>
<rect x="995" y="780" width="4" height="1" fill="#000" stroke="none"/>
<rect x="996" y="780" width="4" height="1" fill="#000" stroke="none"/>
<rect x="1001" y="781" width="1" height="5" fill="#000" stroke="none"/>
<rect x="1003" y="781" width="1" height="6" fill="#000" stroke="none"/>
<rect x="1004" y="779" width="1" height="7" fill="#000" stroke="none"/>
<rect x="1001" y="784" width="4" height="1" fill="#000" stroke="none"/>
<rect x="1002" y="780" width="3" height="1" fill="#000" stroke="none"/>
<rect x="1002" y="781" width="4" height="1" fill="#000" stroke="none"/>
<rect x="1003" y="784" width="2" height="2" fill="#000" stroke="none"/>
<rect x="1011" y="781" width="1" height="5" fill="#000" stroke="none"/>
<rect x="1008" y="781" width="1" height="5" fill="#000" stroke="none"/>
<rect x="1008" y="786" width="3" height="1" fill="#000" stroke="none"/>
<rect x="1008" y="782" width="2" height="3" fill="#000" stroke="none"/>
<rect x="1016" y="779" width="1" height="8" fill="#000" stroke="none"/>
<rect x="1017" y="780" width="1" height="6" fill="#000" stroke="none"/>
<rect x="1014" y="782" width="3" height="1" fill="#000" stroke="none"/>
<rect x="1016" y="781" width="2" height="2" fill="#000" stroke="none"/>
<rect x="1020" y="780" width="1" height="7" fill="#000" stroke="none"/>
<rect x="1019" y="781" width="1" height="6" fill="#000" stroke="none"/>
<rect x="1019" y="785" width="4" height="1" fill="#000" stroke="none"/>
<rect x="1020" y="786" width="3" height="1" fill="#000" stroke="none"/>
<rect x="1022" y="781" width="2" height="2" fill="#000" stroke="none"/>
<rect x="1025" y="781" width="1" height="6" fill="#000" stroke="none"/>
<rect x="1028" y="780" width="1" height="7" fill="#000" stroke="none"/>
<rect x="1027" y="781" width="1" height="6" fill="#000" stroke="none"/>
<rect x="1025" y="782" width="4" height="1" fill="#000" stroke="none"/>
<rect x="1026" y="783" width="4" height="1" fill="#000" stroke="none"/>
<rect x="1026" y="780" width="4" height="1" fill="#000" stroke="none"/>
<rect x="1025" y="783" width="2" height="4" fill="#000" stroke="none"/>
<rect x="1035" y="780" width="1" height="7" fill="#000" stroke="none"/>
<rect x="1031" y="779" width="1" height="8" fill="#000" stroke="none"/>
<rect x="1031" y="781" width="1" height="6" fill="#000" stroke="none"/>
<rect x="1031" y="781" width="5" height="1" fill="#000" stroke="none"/>
<rect x="1032" y="779" width="2" height="2" fill="#000" stroke="none"/>
<rect x="1037" y="779" width="1" height="8" fill="#000" stroke="none"/>
<rect x="1038" y="780" width="1" height="6" fill="#000" stroke="none"/>
<rect x="1038" y="784" width="3" height="1" fill="#000" stroke="none"/>
<rect x="1040" y="781" width="2" height="3" fill="#000" stroke="none"/>
<rect x="1043" y="780" width="1" height="7" fill="#000" stroke="none"/>
<rect x="1045" y="779" width="1" height="8" fill="#000" stroke="none"/>
<rect x="1044" y="779" width="4" height="1" fill="#000" stroke="none"/>
<rect x="1044" y="784" width="3" height="1" fill="#000" stroke="none"/>
<rect x="1043" y="781" width="5" height="1" fill="#000" stroke="none"/>
<rect x="1052" y="780" width="1" height="7" fill="#000" stroke="none"/>
<rect x="1050" y="780" width="1" height="7" fill="#000" stroke="none"/>
<rect x="1052" y="779" width="1" height="8" fill="#000" stroke="none"/>
<rect x="1049" y="781" width="4" height="1" fill="#000" stroke="none"/>
<rect x="1049" y="786" width="5" height="1" fill="#000" stroke="none"/>
<rect x="1050" y="786" width="4" height="1" fill="#000" stroke="none"/>
<rect x="1050" y="779" width="2" height="4" fill="#000" stroke="none"/>
<rect x="1056" y="780" width="1" height="6" fill="#000" stroke="none"/>
<rect x="1059" y="781" width="1" height="5" fill="#000" stroke="none"/>
<rect x="1055" y="779" width="1" height="8" fill="#000" stroke="none"/>
<rect x="1055" y="779" width="4" height="1" fill="#000" stroke="none"/>
<rect x="1056" y="782" width="4" height="1" fill="#000" stroke="none"/>
<rect x="1055" y="781" width="4" height="1" fill="#000" stroke="none"/>
<rect x="1062" y="779" width="1" height="8" fill="#000" stroke="none"/>
<rect x="1062" y="780" width="1" height="6" fill="#000" stroke="none"/>
<rect x="1063" y="780" width="1" height="6" fill="#000" stroke="none"/>
<rect x="1061" y="783" width="4" height="1" fill="#000" stroke="none"/>
<rect x="1062" y="780" width="4" height="1" fill="#000" stroke="none"/>
<rect x="1061" y="784" width="5" height="1" fill="#000" stroke="none"/>
<rect x="1062" y="782" width="2" height="2" fill="#000" stroke="none"/>
<rect x="1069" y="779" width="1" height="7" fill="#000" stroke="none"/>
<rect x="1070" y="781" width="1" height="5" fill="#000" stroke="none"/>
<rect x="1067" y="780" width="4" height="1" fill="#000" stroke="none"/>
<rect x="1067" y="781" width="2" height="4" fill="#000" stroke="none"/>
<rect x="1076" y="780" width="1" height="6" fill="#000" stroke="none"/>
<rect x="1076" y="781" width="1" height="5" fill="#000" stroke="none"/>
<rect x="1074" y="786" width="4" height="1" fill="#000" stroke="none"/>
<rect x="1074" y="780" width="4" height="1" fill="#000" stroke="none"/>
<rect x="1073" y="783" width="5" height="1" fill="#000" stroke="none"/>
<rect x="1079" y="780" width="1" height="7" fill="#000" stroke="none"/>
<rect x="1081" y="781" width="1" height="6" fill="#000" stroke="none"/>
<rect x="1080" y="784" width="4" height="1" fill="#000" stroke="none"/>
<rect x="1080" y="781" width="4" height="1" fill="#000" stroke="none"/>
<rect x="1079" y="779" width="4" height="1" fill="#000" stroke="none"/>
<rect x="1089" y="779" width="1" height="8" fill="#000" stroke="none"/>
<rect x="1087" y="779" width="1" height="7" fill="#000" stroke="none"/>
<rect x="1085" y="782" width="4" height="1" fill="#000" stroke="none"/>
<rect x="1093" y="780" width="1" height="7" fill="#000" stroke="none"/>
<rect x="1092" y="780" width="1" height="7" fill="#000" stroke="none"/>
<rect x="1091" y="780" width="1" height="6" fill="#000" stroke="none"/>
<rect x="1091" y="782" width="4" height="1" fill="#000" stroke="none"/>
<rect x="1092" y="786" width="4" height="1" fill="#000" stroke="none"/>
<rect x="1092" y="784" width="2" height="2" fill="#000" stroke="none"/>
<rect x="1097" y="781" width="1" height="5" fill="#000" stroke="none"/>
<rect x="1098" y="779" width="1" height="7" fill="#000" stroke="none"/>
<rect x="1101" y="780" width="1" height="7" fill="#000" stroke="none"/>
<rect x="1098" y="784" width="4" height="1" fill="#000" stroke="none"/>
<rect x="1097" y="784" width="4" height="1" fill="#000" stroke="none"/>
<rect x="1097" y="779" width="5" height="1" fill="#000" stroke="none"/>
<rect x="1097" y="781" width="2" height="4" fill="#000" stroke="none"/>
<rect x="1103" y="780" width="1" height="7" fill="#000" stroke="none"/>
<rect x="1105" y="780" width="1" height="6" fill="#000" stroke="none"/>
<rect x="1104" y="784" width="3" height="1" fill="#000" stroke="none"/>
<rect x="1104" y="785" width="4" height="1" fill="#000" stroke="none"/>
<rect x="1112" y="781" width="1" height="6" fill="#000" stroke="none"/>
<rect x="1109" y="781" width="1" height="6" fill="#000" stroke="none"/>
<rect x="1110" y="783" width="3" height="1" fill="#000" stroke="none"/>
<rect x="1111" y="780" width="2" height="2" fill="#000" stroke="none"/>
<rect x="935" y="791" width="1" height="7" fill="#000" stroke="none"/>
<rect x="937" y="790" width="1" height="8" fill="#000" stroke="none"/>
<rect x="939" y="791" width="1" height="6" fill="#000" stroke="none"/>
<rect x="935" y="797" width="4" height="1" fill="#000" stroke="none"/>
<rect x="935" y="795" width="5" height="1" fill="#000" stroke="none"/>
<rect x="937" y="790" width="2" height="2" fill="#000" stroke="none"/>
<rect x="943" y="790" width="1" height="8" fill="#000" stroke="none"/>
<rect x="944" y="792" width="1" height="6" fill="#000" stroke="none"/>
<rect x="942" y="797" width="3" height="1" fill="#000" stroke="none"/>
<rect x="949" y="792" width="1" height="5" fill="#000" stroke="none"/>
<rect x="949" y="791" width="1" height="6" fill="#000" stroke="none"/>
<rect x="949" y="792" width="1" height="6" fill="#000" stroke="none"/>
<rect x="948" y="791" width="3" height="1" fill="#000" stroke="none"/>
<rect x="947" y="796" width="5" height="1" fill="#000" stroke="none"/>
<rect x="947" y="793" width="4" height="1" fill="#000" stroke="none"/>
<rect x="947" y="795" width="2" height="4" fill="#000" stroke="none"/>
<rect x="956" y="792" width="1" height="5" fill="#000" stroke="none"/>
<rect x="953" y="792" width="1" height="6" fill="#000" stroke="none"/>
<rect x="953" y="791" width="4" height="1" fill="#000" stroke="none"/>
<rect x="953" y="795" width="5" height="1" fill="#000" stroke="none"/>
<rect x="960" y="791" width="1" height="6" fill="#000" stroke="none"/>
<rect x="960" y="791" width="1" height="7" fill="#000" stroke="none"/>
<rect x="960" y="793" width="3" height="1" fill="#000" stroke="none"/>
<rect x="959" y="795" width="4" height="1" fill="#000" stroke="none"/>
<rect x="959" y="795" width="2" height="2" fill="#000" stroke="none"/>
<rect x="969" y="790" width="1" height="8" fill="#000" stroke="none"/>
<rect x="965" y="792" width="1" height="6" fill="#000" stroke="none"/>
<rect x="969" y="791" width="1" height="7" fill="#000" stroke="none"/>
<rect x="965" y="793" width="5" height="1" fill="#000" stroke="none"/>
<rect x="966" y="794" width="2" height="2" fill="#000" stroke="none"/>
<rect x="972" y="792" width="1" height="5" fill="#000" stroke="none"/>
<rect x="971" y="791" width="1" height="7" fill="#000" stroke="none"/>
<rect x="972" y="794" width="4" height="1" fill="#000" stroke="none"/>
<rect x="971" y="796" width="4" height="1" fill="#000" stroke="none"/>
<rect x="971" y="790" width="5" height="1" fill="#000" stroke="none"/>
<rect x="978" y="792" width="1" height="5" fill="#000" stroke="none"/>
<rect x="978" y="792" width="1" height="6" fill="#000" stroke="none"/>
<rect x="977" y="792" width="5" height="1" fill="#000" stroke="none"/>
<rect x="978" y="792" width="2" height="3" fill="#000" stroke="none"/>
<rect x="986" y="790" width="1" height="7" fill="#000" stroke="none"/>
<rect x="983" y="790" width="1" height="7" fill="#000" stroke="none"/>
<rect x="984" y="795" width="4" height="1" fill="#000" stroke="none"/>
<rect x="985" y="793" width="2" height="4" fill="#000" stroke="none"/>
<rect x="990" y="790" width="1" height="8" fill="#000" stroke="none"/>
<rect x="992" y="791" width="1" height="6" fill="#000" stroke="none"/>
<rect x="989" y="794" width="5" height="1" fill="#000" stroke="none"/>
<rect x="989" y="797" width="5" height="1" fill="#000" stroke="none"/>
<rect x="991" y="790" width="2" height="4" fill="#000" stroke="none"/>
<rect x="996" y="791" width="1" height="6" fill="#000" stroke="none"/>
<rect x="998" y="792" width="1" height="5" fill="#000" stroke="none"/>
<rect x="998" y="791" width="1" height="6" fill="#000" stroke="none"/>
<rect x="996" y="793" width="4" height="1" fill="#000" stroke="none"/>
<rect x="995" y="792" width="5" height="1" fill="#000" stroke="none"/>
<rect x="996" y="795" width="4" height="1" fill="#000" stroke="none"/>
<rect x="997" y="795" width="2" height="3" fill="#000" stroke="none"/>
<rect x="1003" y="792" width="1" height="5" fill="#000" stroke="none"/>
<rect x="1002" y="791" width="1" height="7" fill="#000" stroke="none"/>
<rect x="1001" y="792" width="1" height="5" fill="#000" stroke="none"/>
<rect x="1002" y="796" width="3" height="1" fill="#000" stroke="none"/>
<rect x="1001" y="792" width="5" height="1" fill="#000" stroke="none"/>
<rect x="1004" y="792" width="2" height="4" fill="#000" stroke="none"/>
<rect x="1009" y="790" width="1" height="7" fill="#000" stroke="none"/>
<rect x="1008" y="791" width="1" height="7" fill="#000" stroke="none"/>
<rect x="1008" y="790" width="3" height="1" fill="#000" stroke="none"/>
<rect x="1009" y="792" width="2" height="4" fill="#000" stroke="none"/>
<rect x="1015" y="792" width="1" height="5" fill="#000" stroke="none"/>
<rect x="1016" y="790" width="1" height="7" fill="#000" stroke="none"/>
<rect x="1014" y="796" width="4" height="1" fill="#000" stroke="none"/>
<rect x="1014" y="795" width="4" height="1" fill="#000" stroke="none"/>
<rect x="1013" y="792" width="2" height="3" fill="#000" stroke="none"/>
<rect x="1022" y="790" width="1" height="7" fill="#000" stroke="none"/>
<rect x="1019" y="790" width="1" height="8" fill="#000" stroke="none"/>
<rect x="1020" y="790" width="1" height="8" fill="#000" stroke="none"/>
<rect x="1019" y="794" width="5" height="1" fill="#000" stroke="none"/>
<rect x="1021" y="790" width="2" height="4" fill="#000" stroke="none"/>
<rect x="1026" y="792" width="1" height="6" fill="#000" stroke="none"/>
<rect x="1026" y="791" width="1" height="7" fill="#000" stroke="none"/>
<rect x="1026" y="797" width="3" height="1" fill="#000" stroke="none"/>
<rect x="1026" y="794" width="2" height="2" fill="#000" stroke="none"/>
<rect x="1031" y="790" width="1" height="8" fill="#000" stroke="none"/>
<rect x="1032" y="790" width="1" height="8" fill="#000" stroke="none"/>
<rect x="1031" y="791" width="1" height="7" fill="#000" stroke="none"/>
<rect x="1031" y="797" width="5" height="1" fill="#000" stroke="none"/>
<rect x="1033" y="795" width="2" height="2" fill="#000" stroke="none"/>
<rect x="1037" y="791" width="1" height="6" fill="#000" stroke="none"/>
<rect x="1040" y="791" width="1" height="6" fill="#000" stroke="none"/>
<rect x="1040" y="790" width="1" height="7" fill="#000" stroke="none"/>
<rect x="1037" y="792" width="5" height="1" fill="#000" stroke="none"/>
<rect x="1043" y="791" width="1" height="7" fill="#000" stroke="none"/>
<rect x="1046" y="792" width="1" height="6" fill="#000" stroke="none"/>
<rect x="1046" y="791" width="1" height="7" fill="#000" stroke="none"/>
<rect x="1044" y="795" width="4" height="1" fill="#000" stroke="none"/>
<rect x="1043" y="790" width="4" height="1" fill="#000" stroke="none"/>
<rect x="1044" y="792" width="4" height="1" fill="#000" stroke="none"/>
<rect x="1043" y="794" width="2" height="4" fill="#000" stroke="none"/>
<rect x="1051" y="791" width="1" height="7" fill="#000" stroke="none"/>
<rect x="1053" y="791" width="1" height="6" fill="#000" stroke="none"/>
<rect x="1049" y="797" width="4" height="1" fill="#000" stroke="none"/>
<rect x="1049" y="796" width="4" height="1" fill="#000" stroke="none"/>
<rect x="1059" y="790" width="1" height="7" fill="#000" stroke="none"/>
<rect x="1057" y="792" width="1" height="5" fill="#000" stroke="none"/>
<rect x="1055" y="795" width="4" height="1" fill="#000" stroke="none"/>
<rect x="1055" y="794" width="4" height="1" fill="#000" stroke="none"/>
<rect x="1055" y="790" width="4" height="1" fill="#000" stroke="none"/>
<rect x="1063" y="792" width="1" height="5" fill="#000" stroke="none"/>
<rect x="1061" y="790" width="1" height="8" fill="#000" stroke="none"/>
<rect x="1061" y="791" width="1" height="6" fill="#000" stroke="none"/>
<rect x="1062" y="796" width="3" height="1" fill="#000" stroke="none"/>
<rect x="1064" y="795" width="2" height="3" fill="#000" stroke="none"/>
<rect x="1067" y="791" width="1" height="6" fill="#000" stroke="none"/>
<rect x="1068" y="790" width="1" height="7" fill="#000" stroke="none"/>
<rect x="1067" y="795" width="4" height="1" fill="#000" stroke="none"/>
<rect x="1068" y="794" width="3" height="1" fill="#000" stroke="none"/>
<rect x="1070" y="790" width="2" height="2" fill="#000" stroke="none"/>
<rect x="1075" y="790" width="1" height="8" fill="#000" stroke="none"/>
<rect x="1075" y="792" width="1" height="5" fill="#000" stroke="none"/>
<rect x="1073" y="794" width="4" height="1" fill="#000" stroke="none"/>
<rect x="1073" y="790" width="2" height="2" fill="#000" stroke="none"/>
<rect x="1082" y="792" width="1" height="5" fill="#000" stroke="none"/>
<rect x="1079" y="792" width="1" height="5" fill="#000" stroke="none"/>
<rect x="1079" y="792" width="5" height="1" fill="#000" stroke="none"/>
<rect x="1080" y="792" width="3" height="1" fill="#000" stroke="none"/>
<rect x="1080" y="793" width="2" height="2" fill="#000" stroke="none"/>
<rect x="1087" y="790" width="1" height="8" fill="#000" stroke="none"/>
<rect x="1086" y="792" width="1" height="5" fill="#000" stroke="none"/>
<rect x="1085" y="792" width="1" height="5" fill="#000" stroke="none"/>
<rect x="1085" y="797" width="5" height="1" fill="#000" stroke="none"/>
<rect x="1086" y="796" width="3" height="1" fill="#000" stroke="none"/>
<rect x="1086" y="790" width="4" height="1" fill="#000" stroke="none"/>
<rect x="1088" y="794" width="2" height="2" fill="#000" stroke="none"/>
<rect x="1092" y="792" width="1" height="6" fill="#000" stroke="none"/>
<rect x="1095" y="791" width="1" height="6" fill="#000" stroke="none"/>
<rect x="1092" y="790" width="1" height="7" fill="#000" stroke="none"/>
<rect x="1092" y="797" width="3" height="1" fill="#000" stroke="none"/>
<rect x="1092" y="791" width="3" height="1" fill="#000" stroke="none"/>
<rect x="1091" y="792" width="2" height="3" fill="#000" stroke="none"/>
<rect x="1098" y="791" width="1" height="6" fill="#000" stroke="none"/>
<rect x="1099" y="791" width="1" height="7" fill="#000" stroke="none"/>
<rect x="1098" y="790" width="4" height="1" fill="#000" stroke="none"/>
<rect x="1097" y="797" width="4" height="1" fill="#000" stroke="none"/>
<rect x="1099" y="794" width="2" height="4" fill="#000" stroke="none"/>
<rect x="1106" y="792" width="1" height="6" fill="#000" stroke="none"/>
<rect x="1107" y="792" width="1" height="6" fill="#000" stroke="none"/>
<rect x="1105" y="790" width="1" height="8" fill="#000" stroke="none"/>
<rect x="1103" y="794" width="5" height="1" fill="#000" stroke="none"/>
<rect x="1103" y="796" width="5" height="1" fill="#000" stroke="none"/>
<rect x="1104" y="794" width="2" height="4" fill="#000" stroke="none"/>
<rect x="1110" y="792" width="1" height="6" fill="#000" stroke="none"/>
<rect x="1111" y="790" width="1" height="8" fill="#000" stroke="none"/>
<rect x="1110" y="790" width="4" height="1" fill="#000" stroke="none"/>
<rect x="1109" y="796" width="4" height="1" fill="#000" stroke="none"/>
<rect x="1109" y="795" width="4" height="1" fill="#000" stroke="none"/>
<rect x="1110" y="790" width="2" height="4" fill="#000" stroke="none"/>
<rect x="936" y="801" width="1" height="8" fill="#000" stroke="none"/>
<rect x="936" y="801" width="1" height="7" fill="#000" stroke="none"/>
<rect x="936" y="806" width="3" height="1" fill="#000" stroke="none"/>
<rect x="935" y="801" width="4" height="1" fill="#000" stroke="none"/>
<rect x="936" y="802" width="4" height="1" fill="#000" stroke="none"/>
<rect x="935" y="801" width="2" height="2" fill="#000" stroke="none"/>
<rect x="945" y="803" width="1" height="5" fill="#000" stroke="none"/>
<rect x="942" y="802" width="1" height="6" fill="#000" stroke="none"/>
<rect x="945" y="801" width="1" height="7" fill="#000" stroke="none"/>
<rect x="941" y="805" width="5" height="1" fill="#000" stroke="none"/>
<rect x="941" y="803" width="5" height="1" fill="#000" stroke="none"/>
<rect x="941" y="802" width="2" height="3" fill="#000" stroke="none"/>
<rect x="951" y="802" width="1" height="6" fill="#000" stroke="none"/>
<rect x="950" y="803" width="1" height="6" fill="#000" stroke="none"/>
<rect x="947" y="801" width="4" height="1" fill="#000" stroke="none"/>
<rect x="947" y="803" width="5" height="1" fill="#000" stroke="none"/>
<rect x="948" y="804" width="4" height="1" fill="#000" stroke="none"/>
<rect x="957" y="802" width="1" height="6" fill="#000" stroke="none"/>
<rect x="955" y="802" width="1" height="7" fill="#000" stroke="none"/>
<rect x="954" y="803" width="1" height="6" fill="#000" stroke="none"/>
<rect x="953" y="804" width="5" height="1" fill="#000" stroke="none"/>
<rect x="953" y="804" width="4" height="1" fill="#000" stroke="none"/>
<rect x="955" y="801" width="2" height="3" fill="#000" stroke="none"/>
<rect x="962" y="802" width="1" height="7" fill="#000" stroke="none"/>
<rect x="963" y="802" width="1" height="7" fill="#000" stroke="none"/>
<rect x="959" y="803" width="4" height="1" fill="#000" stroke="none"/>
<rect x="960" y="807" width="4" height="1" fill="#000" stroke="none"/>
<rect x="959" y="807" width="5" height="1" fill="#000" stroke="none"/>
<rect x="960" y="806" width="2" height="2" fill="#000" stroke="none"/>
<rect x="969" y="801" width="1" height="7" fill="#000" stroke="none"/>
<rect x="965" y="801" width="1" height="8" fill="#000" stroke="none"/>
<rect x="969" y="802" width="1" height="7" fill="#000" stroke="none"/>
<rect x="966" y="804" width="3" height="1" fill="#000" stroke="none"/>
<rect x="965" y="802" width="2" height="3" fill="#000" stroke="none"/>
<rect x="972" y="803" width="1" height="5" fill="#000" stroke="none"/>
<rect x="971" y="801" width="1" height="7" fill="#000" stroke="none"/>
<rect x="972" y="805" width="3" height="1" fill="#000" stroke="none"/>
<rect x="973" y="802" width="2" height="2" fill="#000" stroke="none"/>
<rect x="980" y="803" width="1" height="5" fill="#000" stroke="none"/>
<rect x="977" y="801" width="1" height="8" fill="#000" stroke="none"/>
<rect x="977" y="801" width="1" height="8" fill="#000" stroke="none"/>
<rect x="978" y="802" width="3" height="1" fill="#000" stroke="none"/>
<rect x="977" y="805" width="5" height="1" fill="#000" stroke="none"/>
<rect x="980" y="805" width="2" height="3" fill="#000" stroke="none"/>
<line x1="1149" y1="715" x2="1361" y2="715"/>
<line x1="1149" y1="723" x2="1361" y2="723"/>
<line x1="1149" y1="731" x2="1361" y2="731"/>
<line x1="1149" y1="739" x2="1361" y2="739"/>
<line x1="1149" y1="747" x2="1361" y2="747"/>
<line x1="1149" y1="755" x2="1361" y2="755"/>
<line x1="1149" y1="763" x2="1361" y2="763"/>
<line x1="1149" y1="771" x2="1361" y2="771"/>
<line x1="1149" y1="779" x2="1361" y2="779"/>
<line x1="1149" y1="787" x2="1361" y2="787"/>
<line x1="1149" y1="795" x2="1361" y2="795"/>
<line x1="1149" y1="803" x2="1361" y2="803"/>
<line x1="1149" y1="811" x2="1361" y2="811"/>
<line x1="1149" y1="819" x2="1361" y2="819"/>
<line x1="1149" y1="827" x2="1361" y2="827"/>
<line x1="1149" y1="835" x2="1361" y2="835"/>
<line x1="1149" y1="843" x2="1361" y2="843"/>
<line x1="1149" y1="851" x2="1361" y2="851"/>
<line x1="1149" y1="859" x2="1361" y2="859"/>
<line x1="1149" y1="867" x2="1361" y2="867"/>
<line x1="1149" y1="875" x2="1361" y2="875"/>
<line x1="1149" y1="715" x2="1149" y2="875"/>
<line x1="1158" y1="715" x2="1158" y2="875"/>
<line x1="1206" y1="715" x2="1206" y2="875"/>
<line x1="1258" y1="715" x2="1258" y2="875"/>
<line x1="1267" y1="715" x2="1267" y2="875"/>
<line x1="1312" y1="715" x2="1312" y2="875"/>
<line x1="1324" y1="715" x2="1324" y2="875"/>
<line x1="1339" y1="715" x2="1339" y2="875"/>
<line x1="1361" y1="715" x2="1361" y2="875"/>
<rect x="1152" y="717" width="3" height="4" fill="#000" stroke="none"/>
<rect x="1161" y="717" width="3" height="4" fill="#000" stroke="none"/>
<rect x="1166" y="717" width="3" height="4" fill="#000" stroke="none"/>
<rect x="1170" y="717" width="3" height="4" fill="#000" stroke="none"/>
<rect x="1209" y="717" width="2" height="4" fill="#000" stroke="none"/>
<rect x="1212" y="717" width="1" height="4" fill="#000" stroke="none"/>
<rect x="1215" y="717" width="3" height="4" fill="#000" stroke="none"/>
<rect x="1220" y="717" width="2" height="4" fill="#000" stroke="none"/>
<rect x="1261" y="717" width="3" height="4" fill="#000" stroke="none"/>
<rect x="1270" y="717" width="3" height="4" fill="#000" stroke="none"/>
<rect x="1274" y="717" width="3" height="4" fill="#000" stroke="none"/>
<rect x="1278" y="717" width="1" height="4" fill="#000" stroke="none"/>
<rect x="1280" y="717" width="2" height="4" fill="#000" stroke="none"/>
<rect x="1152" y="725" width="2" height="4" fill="#000" stroke="none"/>
<rect x="1161" y="725" width="2" height="4" fill="#000" stroke="none"/>
<rect x="1165" y="725" width="3" height="4" fill="#000" stroke="none"/>
<rect x="1170" y="725" width="1" height="4" fill="#000" stroke="none"/>
<rect x="1173" y="725" width="1" height="4" fill="#000" stroke="none"/>
<rect x="1175" y="725" width="1" height="4" fill="#000" stroke="none"/>
<rect x="1178" y="725" width="1" height="4" fill="#000" stroke="none"/>
<rect x="1209" y="725" width="3" height="4" fill="#000" stroke="none"/>
<rect x="1214" y="725" width="2" height="4" fill="#000" stroke="none"/>
<rect x="1218" y="725" width="3" height="4" fill="#000" stroke="none"/>
<rect x="1223" y="725" width="3" height="4" fill="#000" stroke="none"/>
<rect x="1261" y="725" width="2" height="4" fill="#000" stroke="none"/>
<rect x="1270" y="725" width="3" height="4" fill="#000" stroke="none"/>
<rect x="1274" y="725" width="3" height="4" fill="#000" stroke="none"/>
<rect x="1279" y="725" width="3" height="4" fill="#000" stroke="none"/>
<rect x="1152" y="733" width="3" height="4" fill="#000" stroke="none"/>
<rect x="1161" y="733" width="1" height="4" fill="#000" stroke="none"/>
<rect x="1163" y="733" width="2" height="4" fill="#000" stroke="none"/>
<rect x="1167" y="733" width="1" height="4" fill="#000" stroke="none"/>
<rect x="1209" y="733" width="2" height="4" fill="#000" stroke="none"/>
<rect x="1261" y="733" width="2" height="4" fill="#000" stroke="none"/>
<rect x="1270" y="733" width="1" height="4" fill="#000" stroke="none"/>
<rect x="1272" y="733" width="3" height="4" fill="#000" stroke="none"/>
<rect x="1276" y="733" width="2" height="4" fill="#000" stroke="none"/>
<rect x="1280" y="733" width="3" height="4" fill="#000" stroke="none"/>
<rect x="1152" y="741" width="1" height="4" fill="#000" stroke="none"/>
<rect x="1161" y="741" width="1" height="4" fill="#000" stroke="none"/>
<rect x="1209" y="741" width="3" height="4" fill="#000" stroke="none"/>
<rect x="1213" y="741" width="1" height="4" fill="#000" stroke="none"/>
<rect x="1216" y="741" width="2" height="4" fill="#000" stroke="none"/>
<rect x="1220" y="741" width="1" height="4" fill="#000" stroke="none"/>
<rect x="1222" y="741" width="2" height="4" fill="#000" stroke="none"/>
<rect x="1261" y="741" width="1" height="4" fill="#000" stroke="none"/>
<rect x="1270" y="741" width="2" height="4" fill="#000" stroke="none"/>
<rect x="1274" y="741" width="3" height="4" fill="#000" stroke="none"/>
<rect x="1278" y="741" width="3" height="4" fill="#000" stroke="none"/>
<rect x="1283" y="741" width="2" height="4" fill="#000" stroke="none"/>
<rect x="1152" y="749" width="2" height="4" fill="#000" stroke="none"/>
<rect x="1161" y="749" width="2" height="4" fill="#000" stroke="none"/>
<rect x="1165" y="749" width="1" height="4" fill="#000" stroke="none"/>
<rect x="1168" y="749" width="3" height="4" fill="#000" stroke="none"/>
<rect x="1173" y="749" width="1" height="4" fill="#000" stroke="none"/>
<rect x="1176" y="749" width="3" height="4" fill="#000" stroke="none"/>
<rect x="1209" y="749" width="3" height="4" fill="#000" stroke="none"/>
<rect x="1261" y="749" width="2" height="4" fill="#000" stroke="none"/>
<rect x="1270" y="749" width="3" height="4" fill="#000" stroke="none"/>
<rect x="1275" y="749" width="1" height="4" fill="#000" stroke="none"/>
<rect x="1277" y="749" width="3" height="4" fill="#000" stroke="none"/>
<rect x="1152" y="757" width="2" height="4" fill="#000" stroke="none"/>
<rect x="1161" y="757" width="3" height="4" fill="#000" stroke="none"/>
<rect x="1166" y="757" width="1" height="4" fill="#000" stroke="none"/>
<rect x="1169" y="757" width="1" height="4" fill="#000" stroke="none"/>
<rect x="1209" y="757" width="3" height="4" fill="#000" stroke="none"/>
<rect x="1214" y="757" width="2" height="4" fill="#000" stroke="none"/>
<rect x="1218" y="757" width="1" height="4" fill="#000" stroke="none"/>
<rect x="1261" y="757" width="2" height="4" fill="#000" stroke="none"/>
<rect x="1270" y="757" width="1" height="4" fill="#000" stroke="none"/>
<rect x="1273" y="757" width="1" height="4" fill="#000" stroke="none"/>
<rect x="1276" y="757" width="3" height="4" fill="#000" stroke="none"/>
<rect x="1152" y="765" width="3" height="4" fill="#000" stroke="none"/>
<rect x="1161" y="765" width="3" height="4" fill="#000" stroke="none"/>
<rect x="1165" y="765" width="2" height="4" fill="#000" stroke="none"/>
<rect x="1168" y="765" width="1" height="4" fill="#000" stroke="none"/>
<rect x="1209" y="765" width="3" height="4" fill="#000" stroke="none"/>
<rect x="1214" y="765" width="2" height="4" fill="#000" stroke="none"/>
<rect x="1261" y="765" width="1" height="4" fill="#000" stroke="none"/>
<rect x="1270" y="765" width="3" height="4" fill="#000" stroke="none"/>
<rect x="1274" y="765" width="2" height="4" fill="#000" stroke="none"/>
<rect x="1278" y="765" width="3" height="4" fill="#000" stroke="none"/>
<rect x="1152" y="773" width="3" height="4" fill="#000" stroke="none"/>
<rect x="1161" y="773" width="2" height="4" fill="#000" stroke="none"/>
<rect x="1165" y="773" width="2" height="4" fill="#000" stroke="none"/>
<rect x="1169" y="773" width="3" height="4" fill="#000" stroke="none"/>
<rect x="1174" y="773" width="2" height="4" fill="#000" stroke="none"/>
<rect x="1209" y="773" width="2" height="4" fill="#000" stroke="none"/>
<rect x="1212" y="773" width="2" height="4" fill="#000" stroke="none"/>
<rect x="1215" y="773" width="1" height="4" fill="#000" stroke="none"/>
<rect x="1217" y="773" width="2" height="4" fill="#000" stroke="none"/>
<rect x="1221" y="773" width="3" height="4" fill="#000" stroke="none"/>
<rect x="1261" y="773" width="3" height="4" fill="#000" stroke="none"/>
<rect x="1270" y="773" width="3" height="4" fill="#000" stroke="none"/>
<rect x="1275" y="773" width="1" height="4" fill="#000" stroke="none"/>
<rect x="1277" y="773" width="3" height="4" fill="#000" stroke="none"/>
<rect x="1152" y="781" width="1" height="4" fill="#000" stroke="none"/>
<rect x="1161" y="781" width="3" height="4" fill="#000" stroke="none"/>
<rect x="1209" y="781" width="3" height="4" fill="#000" stroke="none"/>
<rect x="1213" y="781" width="1" height="4" fill="#000" stroke="none"/>
<rect x="1216" y="781" width="3" height="4" fill="#000" stroke="none"/>
<rect x="1220" y="781" width="1" height="4" fill="#000" stroke="none"/>
<rect x="1261" y="781" width="3" height="4" fill="#000" stroke="none"/>
<rect x="1270" y="781" width="1" height="4" fill="#000" stroke="none"/>
<rect x="1272" y="781" width="2" height="4" fill="#000" stroke="none"/>
<rect x="1275" y="781" width="2" height="4" fill="#000" stroke="none"/>
<rect x="1279" y="781" width="1" height="4" fill="#000" stroke="none"/>
<rect x="1152" y="789" width="1" height="4" fill="#000" stroke="none"/>
<rect x="1161" y="789" width="1" height="4" fill="#000" stroke="none"/>
<rect x="1163" y="789" width="1" height="4" fill="#000" stroke="none"/>
<rect x="1166" y="789" width="1" height="4" fill="#000" stroke="none"/>
<rect x="1168" y="789" width="2" height="4" fill="#000" stroke="none"/>
<rect x="1172" y="789" width="1" height="4" fill="#000" stroke="none"/>
<rect x="1209" y="789" width="2" height="4" fill="#000" stroke="none"/>
<rect x="1213" y="789" width="1" height="4" fill="#000" stroke="none"/>
<rect x="1261" y="789" width="1" height="4" fill="#000" stroke="none"/>
<rect x="1270" y="789" width="1" height="4" fill="#000" stroke="none"/>
<rect x="1272" y="789" width="1" height="4" fill="#000" stroke="none"/>
<rect x="1152" y="797" width="1" height="4" fill="#000" stroke="none"/>
<rect x="1161" y="797" width="3" height="4" fill="#000" stroke="none"/>
<rect x="1166" y="797" width="2" height="4" fill="#000" stroke="none"/>
<rect x="1169" y="797" width="2" height="4" fill="#000" stroke="none"/>
<rect x="1172" y="797" width="2" height="4" fill="#000" stroke="none"/>
<rect x="1176" y="797" width="3" height="4" fill="#000" stroke="none"/>
<rect x="1209" y="797" width="2" height="4" fill="#000" stroke="none"/>
<rect x="1213" y="797" width="2" height="4" fill="#000" stroke="none"/>
<rect x="1216" y="797" width="2" height="4" fill="#000" stroke="none"/>
<rect x="1220" y="797" width="1" height="4" fill="#000" stroke="none"/>
<rect x="1222" y="797" width="3" height="4" fill="#000" stroke="none"/>
<rect x="1261" y="797" width="1" height="4" fill="#000" stroke="none"/>
<rect x="1270" y="797" width="2" height="4" fill="#000" stroke="none"/>
<rect x="1152" y="805" width="3" height="4" fill="#000" stroke="none"/>
<rect x="1161" y="805" width="2" height="4" fill="#000" stroke="none"/>
<rect x="1164" y="805" width="2" height="4" fill="#000" stroke="none"/>
<rect x="1168" y="805" width="3" height="4" fill="#000" stroke="none"/>
<rect x="1173" y="805" width="2" height="4" fill="#000" stroke="none"/>
<rect x="1177" y="805" width="2" height="4" fill="#000" stroke="none"/>
<rect x="1209" y="805" width="1" height="4" fill="#000" stroke="none"/>
<rect x="1212" y="805" width="3" height="4" fill="#000" stroke="none"/>
<rect x="1261" y="805" width="1" height="4" fill="#000" stroke="none"/>
<rect x="1270" y="805" width="1" height="4" fill="#000" stroke="none"/>
<rect x="1273" y="805" width="2" height="4" fill="#000" stroke="none"/>
<rect x="1152" y="813" width="2" height="4" fill="#000" stroke="none"/>
<rect x="1161" y="813" width="3" height="4" fill="#000" stroke="none"/>
<rect x="1166" y="813" width="3" height="4" fill="#000" stroke="none"/>
<rect x="1170" y="813" width="3" height="4" fill="#000" stroke="none"/>
<rect x="1175" y="813" width="3" height="4" fill="#000" stroke="none"/>
<rect x="1179" y="813" width="3" height="4" fill="#000" stroke="none"/>
<rect x="1183" y="813" width="2" height="4" fill="#000" stroke="none"/>
<rect x="1209" y="813" width="2" height="4" fill="#000" stroke="none"/>
<rect x="1212" y="813" width="3" height="4" fill="#000" stroke="none"/>
<rect x="1261" y="813" width="3" height="4" fill="#000" stroke="none"/>
<rect x="1270" y="813" width="1" height="4" fill="#000" stroke="none"/>
<rect x="1273" y="813" width="1" height="4" fill="#000" stroke="none"/>
<rect x="1152" y="821" width="3" height="4" fill="#000" stroke="none"/>
<rect x="1161" y="821" width="2" height="4" fill="#000" stroke="none"/>
<rect x="1165" y="821" width="1" height="4" fill="#000" stroke="none"/>
<rect x="1167" y="821" width="3" height="4" fill="#000" stroke="none"/>
<rect x="1171" y="821" width="1" height="4" fill="#000" stroke="none"/>
<rect x="1173" y="821" width="3" height="4" fill="#000" stroke="none"/>
<rect x="1177" y="821" width="3" height="4" fill="#000" stroke="none"/>
<rect x="1209" y="821" width="1" height="4" fill="#000" stroke="none"/>
<rect x="1211" y="821" width="1" height="4" fill="#000" stroke="none"/>
<rect x="1213" y="821" width="3" height="4" fill="#000" stroke="none"/>
<rect x="1217" y="821" width="2" height="4" fill="#000" stroke="none"/>
<rect x="1221" y="821" width="2" height="4" fill="#000" stroke="none"/>
<rect x="1261" y="821" width="2" height="4" fill="#000" stroke="none"/>
<rect x="1270" y="821" width="2" height="4" fill="#000" stroke="none"/>
<rect x="1152" y="829" width="3" height="4" fill="#000" stroke="none"/>
<rect x="1161" y="829" width="3" height="4" fill="#000" stroke="none"/>
<rect x="1166" y="829" width="1" height="4" fill="#000" stroke="none"/>
<rect x="1169" y="829" width="1" height="4" fill="#000" stroke="none"/>
<rect x="1171" y="829" width="1" height="4" fill="#000" stroke="none"/>
<rect x="1209" y="829" width="3" height="4" fill="#000" stroke="none"/>
<rect x="1214" y="829" width="3" height="4" fill="#000" stroke="none"/>
<rect x="1218" y="829" width="1" height="4" fill="#000" stroke="none"/>
<rect x="1221" y="829" width="1" height="4" fill="#000" stroke="none"/>
<rect x="1261" y="829" width="1" height="4" fill="#000" stroke="none"/>
<rect x="1270" y="829" width="3" height="4" fill="#000" stroke="none"/>
<rect x="1275" y="829" width="1" height="4" fill="#000" stroke="none"/>
<rect x="1278" y="829" width="1" height="4" fill="#000" stroke="none"/>
<rect x="1281" y="829" width="2" height="4" fill="#000" stroke="none"/>
<rect x="1152" y="837" width="1" height="4" fill="#000" stroke="none"/>
<rect x="1161" y="837" width="2" height="4" fill="#000" stroke="none"/>
<rect x="1165" y="837" width="1" height="4" fill="#000" stroke="none"/>
<rect x="1209" y="837" width="3" height="4" fill="#000" stroke="none"/>
<rect x="1213" y="837" width="2" height="4" fill="#000" stroke="none"/>
<rect x="1216" y="837" width="2" height="4" fill="#000" stroke="none"/>
<rect x="1219" y="837" width="2" height="4" fill="#000" stroke="none"/>
<rect x="1261" y="837" width="1" height="4" fill="#000" stroke="none"/>
<rect x="1270" y="837" width="1" height="4" fill="#000" stroke="none"/>
<rect x="1152" y="845" width="1" height="4" fill="#000" stroke="none"/>
<rect x="1161" y="845" width="1" height="4" fill="#000" stroke="none"/>
<rect x="1163" y="845" width="2" height="4" fill="#000" stroke="none"/>
<rect x="1209" y="845" width="2" height="4" fill="#000" stroke="none"/>
<rect x="1261" y="845" width="1" height="4" fill="#000" stroke="none"/>
<rect x="1270" y="845" width="1" height="4" fill="#000" stroke="none"/>
<rect x="1152" y="853" width="1" height="4" fill="#000" stroke="none"/>
<rect x="1161" y="853" width="3" height="4" fill="#000" stroke="none"/>
<rect x="1166" y="853" width="1" height="4" fill="#000" stroke="none"/>
<rect x="1168" y="853" width="2" height="4" fill="#000" stroke="none"/>
<rect x="1172" y="853" width="2" height="4" fill="#000" stroke="none"/>
<rect x="1209" y="853" width="1" height="4" fill="#000" stroke="none"/>
<rect x="1211" y="853" width="3" height="4" fill="#000" stroke="none"/>
<rect x="1216" y="853" width="2" height="4" fill="#000" stroke="none"/>
<rect x="1219" y="853" width="3" height="4" fill="#000" stroke="none"/>
<rect x="1261" y="853" width="2" height="4" fill="#000" stroke="none"/>
<rect x="1270" y="853" width="1" height="4" fill="#000" stroke="none"/>
<rect x="1273" y="853" width="3" height="4" fill="#000" stroke="none"/>
<rect x="1278" y="853" width="1" height="4" fill="#000" stroke="none"/>
<rect x="1281" y="853" width="3" height="4" fill="#000" stroke="none"/>
<rect x="1152" y="861" width="2" height="4" fill="#000" stroke="none"/>
<rect x="1161" y="861" width="2" height="4" fill="#000" stroke="none"/>
<rect x="1209" y="861" width="3" height="4" fill="#000" stroke="none"/>
<rect x="1214" y="861" width="1" height="4" fill="#000" stroke="none"/>
<rect x="1217" y="861" width="3" height="4" fill="#000" stroke="none"/>
<rect x="1221" y="861" width="3" height="4" fill="#000" stroke="none"/>
<rect x="1261" y="861" width="2" height="4" fill="#000" stroke="none"/>
<rect x="1270" y="861" width="1" height="4" fill="#000" stroke="none"/>
<rect x="1152" y="869" width="3" height="4" fill="#000" stroke="none"/>
<rect x="1161" y="869" width="2" height="4" fill="#000" stroke="none"/>
<rect x="1164" y="869" width="2" height="4" fill="#000" stroke="none"/>
<rect x="1168" y="869" width="2" height="4" fill="#000" stroke="none"/>
<rect x="1171" y="869" width="3" height="4" fill="#000" stroke="none"/>
<rect x="1175" y="869" width="1" height="4" fill="#000" stroke="none"/>
<rect x="1209" y="869" width="3" height="4" fill="#000" stroke="none"/>
<rect x="1214" y="869" width="2" height="4" fill="#000" stroke="none"/>
<rect x="1217" y="869" width="2" height="4" fill="#000" stroke="none"/>
<rect x="1221" y="869" width="2" height="4" fill="#000" stroke="none"/>
<rect x="1224" y="869" width="1" height="4" fill="#000" stroke="none"/>
<rect x="1261" y="869" width="3" height="4" fill="#000" stroke="none"/>
<rect x="1270" y="869" width="3" height="4" fill="#000" stroke="none"/>
<rect x="1275" y="869" width="2" height="4" fill="#000" stroke="none"/>
<line x1="937" y1="823" x2="1149" y2="823"/>
<line x1="937" y1="831" x2="1149" y2="831"/>
<line x1="937" y1="839" x2="1149" y2="839"/>
<line x1="937" y1="847" x2="1149" y2="847"/>
<line x1="937" y1="855" x2="1149" y2="855"/>
<line x1="937" y1="863" x2="1149" y2="863"/>
<line x1="937" y1="871" x2="1149" y2="871"/>
<line x1="937" y1="879" x2="1149" y2="879"/>
<line x1="937" y1="887" x2="1149" y2="887"/>
<line x1="937" y1="895" x2="1149" y2="895"/>
<line x1="937" y1="903" x2="1149" y2="903"/>
<line x1="937" y1="911" x2="1149" y2="911"/>
<line x1="937" y1="919" x2="1149" y2="919"/>
<line x1="937" y1="927" x2="1149" y2="927"/>
<line x1="937" y1="935" x2="1149" y2="935"/>
<line x1="937" y1="943" x2="1149" y2="943"/>
<line x1="937" y1="823" x2="937" y2="943"/>
<line x1="947" y1="823" x2="947" y2="943"/>
<line x1="994" y1="823" x2="994" y2="943"/>
<line x1="1046" y1="823" x2="1046" y2="943"/>
<line x1="1055" y1="823" x2="1055" y2="943"/>
<line x1="1099" y1="823" x2="1099" y2="943"/>
<line x1="1112" y1="823" x2="1112" y2="943"/>
<line x1="1126" y1="823" x2="1126" y2="943"/>
<line x1="1149" y1="823" x2="1149" y2="943"/>
<rect x="940" y="825" width="3" height="4" fill="#000" stroke="none"/>
<rect x="950" y="825" width="2" height="4" fill="#000" stroke="none"/>
<rect x="953" y="825" width="1" height="4" fill="#000" stroke="none"/>
<rect x="956" y="825" width="3" height="4" fill="#000" stroke="none"/>
<rect x="997" y="825" width="1" height="4" fill="#000" stroke="none"/>
<rect x="999" y="825" width="1" height="4" fill="#000" stroke="none"/>
<rect x="1001" y="825" width="3" height="4" fill="#000" stroke="none"/>
<rect x="1006" y="825" width="3" height="4" fill="#000" stroke="none"/>
<rect x="1011" y="825" width="3" height="4" fill="#000" stroke="none"/>
<rect x="1015" y="825" width="3" height="4" fill="#000" stroke="none"/>
<rect x="1049" y="825" width="1" height="4" fill="#000" stroke="none"/>
<rect x="1058" y="825" width="1" height="4" fill="#000" stroke="none"/>
<rect x="1060" y="825" width="2" height="4" fill="#000" stroke="none"/>
<rect x="1064" y="825" width="2" height="4" fill="#000" stroke="none"/>
<rect x="940" y="833" width="2" height="4" fill="#000" stroke="none"/>
<rect x="950" y="833" width="3" height="4" fill="#000" stroke="none"/>
<rect x="955" y="833" width="3" height="4" fill="#000" stroke="none"/>
<rect x="960" y="833" width="3" height="4" fill="#000" stroke="none"/>
<rect x="997" y="833" width="2" height="4" fill="#000" stroke="none"/>
<rect x="1000" y="833" width="3" height="4" fill="#000" stroke="none"/>
<rect x="1004" y="833" width="3" height="4" fill="#000" stroke="none"/>
<rect x="1008" y="833" width="1" height="4" fill="#000" stroke="none"/>
<rect x="1010" y="833" width="2" height="4" fill="#000" stroke="none"/>
<rect x="1013" y="833" width="3" height="4" fill="#000" stroke="none"/>
<rect x="1049" y="833" width="1" height="4" fill="#000" stroke="none"/>
<rect x="1058" y="833" width="3" height="4" fill="#000" stroke="none"/>
<rect x="940" y="841" width="3" height="4" fill="#000" stroke="none"/>
<rect x="950" y="841" width="1" height="4" fill="#000" stroke="none"/>
<rect x="953" y="841" width="1" height="4" fill="#000" stroke="none"/>
<rect x="997" y="841" width="2" height="4" fill="#000" stroke="none"/>
<rect x="1049" y="841" width="2" height="4" fill="#000" stroke="none"/>
<rect x="1058" y="841" width="2" height="4" fill="#000" stroke="none"/>
<rect x="1062" y="841" width="2" height="4" fill="#000" stroke="none"/>
<rect x="940" y="849" width="3" height="4" fill="#000" stroke="none"/>
<rect x="950" y="849" width="3" height="4" fill="#000" stroke="none"/>
<rect x="997" y="849" width="1" height="4" fill="#000" stroke="none"/>
<rect x="999" y="849" width="2" height="4" fill="#000" stroke="none"/>
<rect x="1049" y="849" width="2" height="4" fill="#000" stroke="none"/>
<rect x="1058" y="849" width="2" height="4" fill="#000" stroke="none"/>
<rect x="940" y="857" width="3" height="4" fill="#000" stroke="none"/>
<rect x="950" y="857" width="2" height="4" fill="#000" stroke="none"/>
<rect x="954" y="857" width="3" height="4" fill="#000" stroke="none"/>
<rect x="958" y="857" width="3" height="4" fill="#000" stroke="none"/>
<rect x="963" y="857" width="1" height="4" fill="#000" stroke="none"/>
<rect x="997" y="857" width="1" height="4" fill="#000" stroke="none"/>
<rect x="1000" y="857" width="2" height="4" fill="#000" stroke="none"/>
<rect x="1004" y="857" width="2" height="4" fill="#000" stroke="none"/>
<rect x="1049" y="857" width="1" height="4" fill="#000" stroke="none"/>
<rect x="1058" y="857" width="2" height="4" fill="#000" stroke="none"/>
<rect x="1062" y="857" width="3" height="4" fill="#000" stroke="none"/>
<rect x="940" y="865" width="1" height="4" fill="#000" stroke="none"/>
<rect x="950" y="865" width="2" height="4" fill="#000" stroke="none"/>
<rect x="954" y="865" width="1" height="4" fill="#000" stroke="none"/>
<rect x="997" y="865" width="1" height="4" fill="#000" stroke="none"/>
<rect x="999" y="865" width="1" height="4" fill="#000" stroke="none"/>
<rect x="1001" y="865" width="1" height="4" fill="#000" stroke="none"/>
<rect x="1004" y="865" width="3" height="4" fill="#000" stroke="none"/>
<rect x="1008" y="865" width="3" height="4" fill="#000" stroke="none"/>
<rect x="1049" y="865" width="1" height="4" fill="#000" stroke="none"/>
<rect x="1058" y="865" width="2" height="4" fill="#000" stroke="none"/>
<rect x="1061" y="865" width="1" height="4" fill="#000" stroke="none"/>
<rect x="940" y="873" width="2" height="4" fill="#000" stroke="none"/>
<rect x="950" y="873" width="1" height="4" fill="#000" stroke="none"/>
<rect x="952" y="873" width="1" height="4" fill="#000" stroke="none"/>
<rect x="955" y="873" width="1" height="4" fill="#000" stroke="none"/>
<rect x="958" y="873" width="2" height="4" fill="#000" stroke="none"/>
<rect x="997" y="873" width="1" height="4" fill="#000" stroke="none"/>
<rect x="999" y="873" width="2" height="4" fill="#000" stroke="none"/>
<rect x="1049" y="873" width="1" height="4" fill="#000" stroke="none"/>
<rect x="1058" y="873" width="1" height="4" fill="#000" stroke="none"/>
<rect x="1061" y="873" width="1" height="4" fill="#000" stroke="none"/>
<rect x="1063" y="873" width="3" height="4" fill="#000" stroke="none"/>
<rect x="940" y="881" width="2" height="4" fill="#000" stroke="none"/>
<rect x="950" y="881" width="1" height="4" fill="#000" stroke="none"/>
<rect x="953" y="881" width="1" height="4" fill="#000" stroke="none"/>
<rect x="956" y="881" width="3" height="4" fill="#000" stroke="none"/>
<rect x="961" y="881" width="2" height="4" fill="#000" stroke="none"/>
<rect x="997" y="881" width="3" height="4" fill="#000" stroke="none"/>
<rect x="1049" y="881" width="3" height="4" fill="#000" stroke="none"/>
<rect x="1058" y="881" width="1" height="4" fill="#000" stroke="none"/>
<rect x="940" y="889" width="1" height="4" fill="#000" stroke="none"/>
<rect x="950" y="889" width="1" height="4" fill="#000" stroke="none"/>
<rect x="952" y="889" width="3" height="4" fill="#000" stroke="none"/>
<rect x="957" y="889" width="1" height="4" fill="#000" stroke="none"/>
<rect x="960" y="889" width="2" height="4" fill="#000" stroke="none"/>
<rect x="997" y="889" width="3" height="4" fill="#000" stroke="none"/>
<rect x="1001" y="889" width="2" height="4" fill="#000" stroke="none"/>
<rect x="1005" y="889" width="3" height="4" fill="#000" stroke="none"/>
<rect x="1049" y="889" width="2" height="4" fill="#000" stroke="none"/>
<rect x="1058" y="889" width="1" height="4" fill="#000" stroke="none"/>
<rect x="1061" y="889" width="3" height="4" fill="#000" stroke="none"/>
<rect x="940" y="897" width="1" height="4" fill="#000" stroke="none"/>
<rect x="950" y="897" width="1" height="4" fill="#000" stroke="none"/>
<rect x="953" y="897" width="2" height="4" fill="#000" stroke="none"/>
<rect x="957" y="897" width="1" height="4" fill="#000" stroke="none"/>
<rect x="997" y="897" width="2" height="4" fill="#000" stroke="none"/>
<rect x="1001" y="897" width="2" height="4" fill="#000" stroke="none"/>
<rect x="1004" y="897" width="3" height="4" fill="#000" stroke="none"/>
<rect x="1009" y="897" width="2" height="4" fill="#000" stroke="none"/>
<rect x="1012" y="897" width="1" height="4" fill="#000" stroke="none"/>
<rect x="1014" y="897" width="3" height="4" fill="#000" stroke="none"/>
<rect x="1049" y="897" width="1" height="4" fill="#000" stroke="none"/>
<rect x="1058" y="897" width="1" height="4" fill="#000" stroke="none"/>
<rect x="1060" y="897" width="3" height="4" fill="#000" stroke="none"/>
<rect x="940" y="905" width="2" height="4" fill="#000" stroke="none"/>
<rect x="950" y="905" width="1" height="4" fill="#000" stroke="none"/>
<rect x="952" y="905" width="1" height="4" fill="#000" stroke="none"/>
<rect x="955" y="905" width="1" height="4" fill="#000" stroke="none"/>
<rect x="997" y="905" width="2" height="4" fill="#000" stroke="none"/>
<rect x="1000" y="905" width="2" height="4" fill="#000" stroke="none"/>
<rect x="1003" y="905" width="3" height="4" fill="#000" stroke="none"/>
<rect x="1007" y="905" width="1" height="4" fill="#000" stroke="none"/>
<rect x="1009" y="905" width="1" height="4" fill="#000" stroke="none"/>
<rect x="1049" y="905" width="1" height="4" fill="#000" stroke="none"/>
<rect x="1058" y="905" width="1" height="4" fill="#000" stroke="none"/>
<rect x="1060" y="905" width="3" height="4" fill="#000" stroke="none"/>
<rect x="940" y="913" width="3" height="4" fill="#000" stroke="none"/>
<rect x="950" y="913" width="1" height="4" fill="#000" stroke="none"/>
<rect x="952" y="913" width="1" height="4" fill="#000" stroke="none"/>
<rect x="954" y="913" width="3" height="4" fill="#000" stroke="none"/>
<rect x="958" y="913" width="1" height="4" fill="#000" stroke="none"/>
<rect x="997" y="913" width="1" height="4" fill="#000" stroke="none"/>
<rect x="999" y="913" width="2" height="4" fill="#000" stroke="none"/>
<rect x="1003" y="913" width="1" height="4" fill="#000" stroke="none"/>
<rect x="1049" y="913" width="3" height="4" fill="#000" stroke="none"/>
<rect x="1058" y="913" width="3" height="4" fill="#000" stroke="none"/>
<rect x="1063" y="913" width="1" height="4" fill="#000" stroke="none"/>
<rect x="940" y="921" width="2" height="4" fill="#000" stroke="none"/>
<rect x="950" y="921" width="3" height="4" fill="#000" stroke="none"/>
<rect x="997" y="921" width="2" height="4" fill="#000" stroke="none"/>
<rect x="1000" y="921" width="2" height="4" fill="#000" stroke="none"/>
<rect x="1004" y="921" width="1" height="4" fill="#000" stroke="none"/>
<rect x="1007" y="921" width="1" height="4" fill="#000" stroke="none"/>
<rect x="1049" y="921" width="3" height="4" fill="#000" stroke="none"/>
<rect x="1058" y="921" width="3" height="4" fill="#000" stroke="none"/>
<rect x="1062" y="921" width="1" height="4" fill="#000" stroke="none"/>
<rect x="1065" y="921" width="1" height="4" fill="#000" stroke="none"/>
<rect x="940" y="929" width="2" height="4" fill="#000" stroke="none"/>
<rect x="950" y="929" width="2" height="4" fill="#000" stroke="none"/>
<rect x="997" y="929" width="1" height="4" fill="#000" stroke="none"/>
<rect x="999" y="929" width="3" height="4" fill="#000" stroke="none"/>
<rect x="1003" y="929" width="3" height="4" fill="#000" stroke="none"/>
<rect x="1049" y="929" width="2" height="4" fill="#000" stroke="none"/>
<rect x="1058" y="929" width="2" height="4" fill="#000" stroke="none"/>
<rect x="1062" y="929" width="2" height="4" fill="#000" stroke="none"/>
<rect x="1066" y="929" width="3" height="4" fill="#000" stroke="none"/>
<rect x="940" y="937" width="1" height="4" fill="#000" stroke="none"/>
<rect x="950" y="937" width="1" height="4" fill="#000" stroke="none"/>
<rect x="997" y="937" width="3" height="4" fill="#000" stroke="none"/>
<rect x="1001" y="937" width="3" height="4" fill="#000" stroke="none"/>
<rect x="1006" y="937" width="1" height="4" fill="#000" stroke="none"/>
<rect x="1049" y="937" width="2" height="4" fill="#000" stroke="none"/>
<rect x="1058" y="937" width="1" height="4" fill="#000" stroke="none"/>
<rect x="1061" y="937" width="2" height="4" fill="#000" stroke="none"/>
<line x1="1149" y1="892" x2="1361" y2="892"/>
<line x1="1158" y1="875" x2="1158" y2="892"/>
<line x1="1206" y1="875" x2="1206" y2="892"/>
<line x1="1258" y1="875" x2="1258" y2="892"/>
<line x1="1267" y1="875" x2="1267" y2="892"/>
<line x1="1312" y1="875" x2="1312" y2="892"/>
<line x1="1339" y1="875" x2="1339" y2="892"/>
<line x1="1325" y1="875" x2="1325" y2="884"/>
<line x1="1312" y1="884" x2="1339" y2="884"/>
<rect x="1180" y="882" width="1" height="5" fill="#000" stroke="none"/>
<rect x="1181" y="880" width="1" height="8" fill="#000" stroke="none"/>
<rect x="1183" y="881" width="1" height="7" fill="#000" stroke="none"/>
<rect x="1182" y="880" width="3" height="1" fill="#000" stroke="none"/>
<rect x="1182" y="880" width="3" height="1" fill="#000" stroke="none"/>
<rect x="1181" y="881" width="4" height="1" fill="#000" stroke="none"/>
<rect x="1180" y="880" width="3" height="1" fill="#000" stroke="none"/>
<rect x="1182" y="882" width="3" height="2" fill="#000" stroke="none"/>
<rect x="1189" y="882" width="1" height="5" fill="#000" stroke="none"/>
<rect x="1187" y="881" width="1" height="6" fill="#000" stroke="none"/>
<rect x="1187" y="880" width="1" height="8" fill="#000" stroke="none"/>
<rect x="1186" y="886" width="3" height="1" fill="#000" stroke="none"/>
<rect x="1188" y="882" width="2" height="1" fill="#000" stroke="none"/>
<rect x="1188" y="880" width="2" height="3" fill="#000" stroke="none"/>
<rect x="1227" y="880" width="1" height="8" fill="#000" stroke="none"/>
<rect x="1226" y="881" width="1" height="7" fill="#000" stroke="none"/>
<rect x="1228" y="885" width="1" height="1" fill="#000" stroke="none"/>
<rect x="1228" y="887" width="1" height="1" fill="#000" stroke="none"/>
<rect x="1227" y="883" width="2" height="1" fill="#000" stroke="none"/>
<rect x="1226" y="883" width="3" height="2" fill="#000" stroke="none"/>
<rect x="1234" y="882" width="1" height="4" fill="#000" stroke="none"/>
<rect x="1236" y="880" width="1" height="6" fill="#000" stroke="none"/>
<rect x="1234" y="882" width="1" height="4" fill="#000" stroke="none"/>
<rect x="1233" y="880" width="3" height="1" fill="#000" stroke="none"/>
<rect x="1232" y="882" width="3" height="1" fill="#000" stroke="none"/>
<rect x="1233" y="882" width="2" height="4" fill="#000" stroke="none"/>
<rect x="1284" y="882" width="1" height="5" fill="#000" stroke="none"/>
<rect x="1283" y="882" width="1" height="4" fill="#000" stroke="none"/>
<rect x="1286" y="881" width="1" height="5" fill="#000" stroke="none"/>
<rect x="1283" y="884" width="2" height="1" fill="#000" stroke="none"/>
<rect x="1283" y="880" width="3" height="1" fill="#000" stroke="none"/>
<rect x="1284" y="885" width="1" height="1" fill="#000" stroke="none"/>
<rect x="1282" y="885" width="3" height="3" fill="#000" stroke="none"/>
<rect x="1291" y="881" width="1" height="7" fill="#000" stroke="none"/>
<rect x="1290" y="882" width="1" height="4" fill="#000" stroke="none"/>
<rect x="1289" y="880" width="1" height="7" fill="#000" stroke="none"/>
<rect x="1290" y="884" width="2" height="1" fill="#000" stroke="none"/>
<rect x="1289" y="880" width="2" height="1" fill="#000" stroke="none"/>
<rect x="1289" y="880" width="3" height="1" fill="#000" stroke="none"/>
<rect x="1288" y="886" width="4" height="1" fill="#000" stroke="none"/>
<rect x="1290" y="884" width="3" height="2" fill="#000" stroke="none"/>
<rect x="1346" y="881" width="1" height="7" fill="#000" stroke="none"/>
<rect x="1345" y="881" width="1" height="7" fill="#000" stroke="none"/>
<rect x="1346" y="880" width="1" height="7" fill="#000" stroke="none"/>
<rect x="1346" y="880" width="3" height="1" fill="#000" stroke="none"/>
<rect x="1345" y="885" width="3" height="1" fill="#000" stroke="none"/>
<rect x="1345" y="884" width="4" height="1" fill="#000" stroke="none"/>
<rect x="1345" y="881" width="2" height="4" fill="#000" stroke="none"/>
<rect x="1352" y="881" width="1" height="7" fill="#000" stroke="none"/>
<rect x="1351" y="881" width="1" height="7" fill="#000" stroke="none"/>
<rect x="1351" y="880" width="3" height="1" fill="#000" stroke="none"/>
<rect x="1350" y="883" width="4" height="1" fill="#000" stroke="none"/>
<rect x="1352" y="880" width="2" height="3" fill="#000" stroke="none"/>
<rect x="1259" y="879" width="6" height="9" fill="#000" stroke="none"/>
<rect x="1151" y="879" width="4" height="9" fill="#000" stroke="none"/>
<line x1="1149" y1="898" x2="1220" y2="898"/>
<line x1="1149" y1="903" x2="1220" y2="903"/>
<line x1="1149" y1="909" x2="1220" y2="909"/>
<line x1="1149" y1="915" x2="1220" y2="915"/>
<line x1="1149" y1="920" x2="1220" y2="920"/>
<line x1="1158" y1="892" x2="1158" y2="920"/>
<line x1="1168" y1="892" x2="1168" y2="920"/>
<line x1="1190" y1="892" x2="1190" y2="920"/>
<line x1="1208" y1="892" x2="1208" y2="920"/>
<line x1="1149" y1="926" x2="1220" y2="926"/>
<line x1="1149" y1="932" x2="1220" y2="932"/>
<line x1="1149" y1="938" x2="1220" y2="938"/>
<line x1="1168" y1="920" x2="1168" y2="943"/>
<line x1="1185" y1="920" x2="1185" y2="943"/>
<line x1="1202" y1="920" x2="1202" y2="943"/>
<line x1="1220" y1="892" x2="1220" y2="943"/>
<line x1="1291" y1="892" x2="1291" y2="943"/>
<line x1="1220" y1="922" x2="1291" y2="922"/>
<rect x="1240" y="904" width="1" height="6" fill="#000" stroke="none"/>
<rect x="1238" y="903" width="1" height="8" fill="#000" stroke="none"/>
<rect x="1239" y="903" width="1" height="8" fill="#000" stroke="none"/>
<rect x="1236" y="908" width="4" height="1" fill="#000" stroke="none"/>
<rect x="1236" y="908" width="3" height="1" fill="#000" stroke="none"/>
<rect x="1236" y="907" width="2" height="2" fill="#000" stroke="none"/>
<rect x="1245" y="905" width="1" height="5" fill="#000" stroke="none"/>
<rect x="1245" y="903" width="1" height="8" fill="#000" stroke="none"/>
<rect x="1243" y="906" width="3" height="1" fill="#000" stroke="none"/>
<rect x="1242" y="906" width="2" height="1" fill="#000" stroke="none"/>
<rect x="1243" y="905" width="2" height="2" fill="#000" stroke="none"/>
<rect x="1250" y="905" width="1" height="5" fill="#000" stroke="none"/>
<rect x="1246" y="905" width="1" height="6" fill="#000" stroke="none"/>
<rect x="1246" y="903" width="1" height="9" fill="#000" stroke="none"/>
<rect x="1247" y="907" width="3" height="1" fill="#000" stroke="none"/>
<rect x="1246" y="903" width="5" height="1" fill="#000" stroke="none"/>
<rect x="1247" y="908" width="4" height="1" fill="#000" stroke="none"/>
<rect x="1248" y="909" width="3" height="2" fill="#000" stroke="none"/>
<rect x="1255" y="903" width="1" height="8" fill="#000" stroke="none"/>
<rect x="1251" y="905" width="1" height="5" fill="#000" stroke="none"/>
<rect x="1253" y="904" width="1" height="7" fill="#000" stroke="none"/>
<rect x="1252" y="910" width="4" height="1" fill="#000" stroke="none"/>
<rect x="1253" y="903" width="2" height="1" fill="#000" stroke="none"/>
<rect x="1251" y="910" width="3" height="1" fill="#000" stroke="none"/>
<rect x="1253" y="905" width="2" height="1" fill="#000" stroke="none"/>
<rect x="1253" y="906" width="2" height="2" fill="#000" stroke="none"/>
<rect x="1259" y="903" width="1" height="8" fill="#000" stroke="none"/>
<rect x="1259" y="903" width="1" height="7" fill="#000" stroke="none"/>
<rect x="1256" y="903" width="1" height="9" fill="#000" stroke="none"/>
<rect x="1257" y="905" width="4" height="1" fill="#000" stroke="none"/>
<rect x="1257" y="909" width="2" height="1" fill="#000" stroke="none"/>
<rect x="1257" y="905" width="3" height="4" fill="#000" stroke="none"/>
<rect x="1238" y="904" width="1" height="6" fill="#000" stroke="none"/>
<rect x="1241" y="905" width="1" height="7" fill="#000" stroke="none"/>
<rect x="1239" y="905" width="1" height="5" fill="#000" stroke="none"/>
<rect x="1238" y="907" width="3" height="1" fill="#000" stroke="none"/>
<rect x="1239" y="909" width="1" height="1" fill="#000" stroke="none"/>
<rect x="1239" y="908" width="3" height="3" fill="#000" stroke="none"/>
<rect x="1246" y="906" width="1" height="5" fill="#000" stroke="none"/>
<rect x="1242" y="905" width="1" height="5" fill="#000" stroke="none"/>
<rect x="1242" y="909" width="4" height="1" fill="#000" stroke="none"/>
<rect x="1243" y="905" width="4" height="1" fill="#000" stroke="none"/>
<rect x="1242" y="910" width="4" height="1" fill="#000" stroke="none"/>
<rect x="1243" y="907" width="4" height="1" fill="#000" stroke="none"/>
<rect x="1242" y="909" width="2" height="4" fill="#000" stroke="none"/>
<rect x="1249" y="905" width="1" height="6" fill="#000" stroke="none"/>
<rect x="1248" y="904" width="1" height="6" fill="#000" stroke="none"/>
<rect x="1250" y="904" width="1" height="7" fill="#000" stroke="none"/>
<rect x="1247" y="904" width="4" height="1" fill="#000" stroke="none"/>
<rect x="1248" y="907" width="2" height="1" fill="#000" stroke="none"/>
<rect x="1249" y="910" width="3" height="1" fill="#000" stroke="none"/>
<rect x="1249" y="911" width="2" height="1" fill="#000" stroke="none"/>
<rect x="1247" y="908" width="2" height="2" fill="#000" stroke="none"/>
<rect x="1253" y="905" width="1" height="5" fill="#000" stroke="none"/>
<rect x="1256" y="904" width="1" height="6" fill="#000" stroke="none"/>
<rect x="1254" y="906" width="1" height="1" fill="#000" stroke="none"/>
<rect x="1253" y="909" width="2" height="1" fill="#000" stroke="none"/>
<rect x="1254" y="906" width="2" height="1" fill="#000" stroke="none"/>
<rect x="1252" y="905" width="4" height="1" fill="#000" stroke="none"/>
<rect x="1253" y="906" width="2" height="4" fill="#000" stroke="none"/>
<rect x="1260" y="906" width="1" height="5" fill="#000" stroke="none"/>
<rect x="1261" y="904" width="1" height="7" fill="#000" stroke="none"/>
<rect x="1259" y="911" width="3" height="1" fill="#000" stroke="none"/>
<rect x="1259" y="904" width="3" height="1" fill="#000" stroke="none"/>
<rect x="1259" y="905" width="1" height="1" fill="#000" stroke="none"/>
<rect x="1257" y="908" width="2" height="3" fill="#000" stroke="none"/>
<rect x="1249" y="932" width="1" height="6" fill="#000" stroke="none"/>
<rect x="1248" y="932" width="1" height="6" fill="#000" stroke="none"/>
<rect x="1250" y="931" width="1" height="1" fill="#000" stroke="none"/>
<rect x="1248" y="933" width="4" height="1" fill="#000" stroke="none"/>
<rect x="1250" y="935" width="1" height="1" fill="#000" stroke="none"/>
<rect x="1248" y="931" width="3" height="3" fill="#000" stroke="none"/>
<rect x="1253" y="930" width="1" height="6" fill="#000" stroke="none"/>
<rect x="1253" y="930" width="1" height="8" fill="#000" stroke="none"/>
<rect x="1255" y="934" width="1" height="1" fill="#000" stroke="none"/>
<rect x="1255" y="934" width="2" height="1" fill="#000" stroke="none"/>
<rect x="1254" y="933" width="1" height="1" fill="#000" stroke="none"/>
<rect x="1255" y="934" width="2" height="1" fill="#000" stroke="none"/>
<rect x="1253" y="935" width="3" height="2" fill="#000" stroke="none"/>
<rect x="1258" y="932" width="1" height="4" fill="#000" stroke="none"/>
<rect x="1261" y="932" width="1" height="4" fill="#000" stroke="none"/>
<rect x="1259" y="931" width="1" height="5" fill="#000" stroke="none"/>
<rect x="1259" y="937" width="2" height="1" fill="#000" stroke="none"/>
<rect x="1258" y="933" width="3" height="1" fill="#000" stroke="none"/>
<rect x="1260" y="934" width="0" height="1" fill="#000" stroke="none"/>
<rect x="1258" y="933" width="2" height="1" fill="#000" stroke="none"/>
<rect x="1259" y="933" width="2" height="2" fill="#000" stroke="none"/>
<line x1="1291" y1="908" x2="1361" y2="908"/>
<line x1="1291" y1="913" x2="1361" y2="913"/>
<line x1="1291" y1="922" x2="1361" y2="922"/>
<line x1="1291" y1="928" x2="1361" y2="928"/>
<line x1="1326" y1="908" x2="1326" y2="928"/>
<line x1="1345" y1="908" x2="1345" y2="922"/>
<line x1="1299" y1="913" x2="1299" y2="922"/>
<line x1="1309" y1="913" x2="1309" y2="922"/>
<line x1="1318" y1="913" x2="1318" y2="922"/>
<text transform="translate(1314,940) scale(0.62,1)" font-size="12" text-anchor="middle" font-weight="bold">GTDA-00</text>
<rect x="1298" y="910" width="4" height="3" fill="#000" stroke="none"/>
<rect x="1305" y="910" width="3" height="3" fill="#000" stroke="none"/>
<rect x="1311" y="910" width="3" height="3" fill="#000" stroke="none"/>
<rect x="1317" y="910" width="4" height="3" fill="#000" stroke="none"/>
<rect x="1335" y="910" width="3" height="3" fill="#000" stroke="none"/>
<rect x="1342" y="910" width="3" height="3" fill="#000" stroke="none"/>
<rect x="1349" y="910" width="3" height="3" fill="#000" stroke="none"/>
<rect x="1356" y="910" width="3" height="3" fill="#000" stroke="none"/>
<rect x="1350" y="917" width="8" height="3" fill="#000" stroke="none"/>
<rect x="1303" y="924" width="3" height="3" fill="#000" stroke="none"/>
<rect x="1313" y="924" width="3" height="3" fill="#000" stroke="none"/>
<rect x="1341" y="924" width="3" height="3" fill="#000" stroke="none"/>
<rect x="1352" y="924" width="3" height="3" fill="#000" stroke="none"/>
<rect x="1151" y="916" width="6" height="3" fill="#000" stroke="none"/>
<rect x="1160" y="916" width="5" height="3" fill="#000" stroke="none"/>
<rect x="1171" y="916" width="12" height="3" fill="#000" stroke="none"/>
<rect x="1193" y="916" width="6" height="3" fill="#000" stroke="none"/>
<rect x="1210" y="916" width="5" height="3" fill="#000" stroke="none"/>
<rect x="1153" y="922" width="6" height="3" fill="#000" stroke="none"/>
<rect x="1193" y="940" width="5" height="3" fill="#000" stroke="none"/>
<path d="M 265,367 Q 276,356 284,373"/>
<path d="M 287,376 Q 300,366 310,368 Q 322,372 328,402"/>
<text transform="translate(306,381) rotate(29) scale(0.8,1)" font-size="5" text-anchor="middle" font-weight="bold">40</text>
<line x1="304" y1="393" x2="313" y2="380"/>
<polyline points="200,337 200,344 207,344"/>
<text transform="translate(211,347) scale(0.8,1)" font-size="5" text-anchor="middle" font-weight="bold">L</text>
<text transform="translate(221,358) rotate(29) scale(0.8,1)" font-size="6" text-anchor="middle" font-weight="bold">800</text>
<text transform="translate(197,375) scale(0.8,1)" font-size="6" text-anchor="middle" font-weight="bold">5</text>
<line x1="206" y1="376" x2="211" y2="370"/>
<text transform="translate(145,315) rotate(29) scale(0.8,1)" font-size="6" text-anchor="middle" font-weight="bold">300</text>
<line x1="189" y1="326" x2="192" y2="324"/>
<text transform="translate(540,463) rotate(29) scale(0.8,1)" font-size="6" text-anchor="middle" font-weight="bold">500</text>
</g></svg></body></html>
